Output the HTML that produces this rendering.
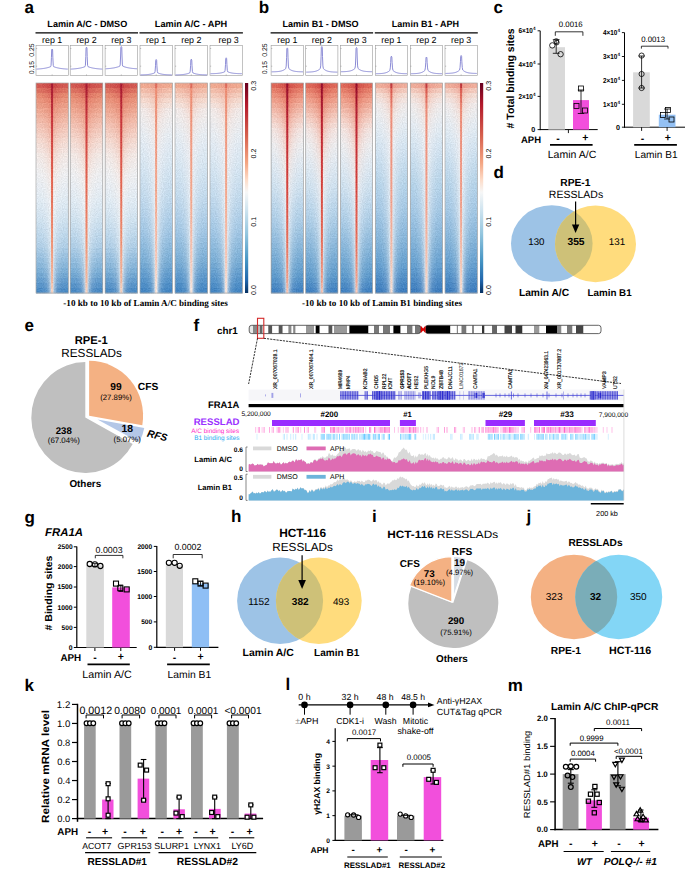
<!DOCTYPE html><html><head><meta charset="utf-8"><style>html,body{margin:0;padding:0;background:#fff;}svg{display:block;}</style></head><body>
<svg width="685" height="869" viewBox="0 0 685 869" text-rendering="geometricPrecision" font-family="&quot;Liberation Sans&quot;, sans-serif">
<rect width="685" height="869" fill="#fff"/>
<defs>
<linearGradient id="hA_dmso" x1="0" y1="0" x2="0" y2="1"><stop offset="0.0" stop-color="#c23b40"/><stop offset="0.014" stop-color="#d65d52"/><stop offset="0.057" stop-color="#e5876c"/><stop offset="0.105" stop-color="#eb9c80"/><stop offset="0.176" stop-color="#f0b9a5"/><stop offset="0.248" stop-color="#f3ccbc"/><stop offset="0.31" stop-color="#f5e1d8"/><stop offset="0.39" stop-color="#f2f0ef"/><stop offset="0.49" stop-color="#e1ebf3"/><stop offset="0.605" stop-color="#c8deee"/><stop offset="0.748" stop-color="#a3c8e5"/><stop offset="0.867" stop-color="#7aaed8"/><stop offset="1.0" stop-color="#4886c1"/></linearGradient>
<linearGradient id="hA_aph" x1="0" y1="0" x2="0" y2="1"><stop offset="0.0" stop-color="#f0ae92"/><stop offset="0.033" stop-color="#f3c0a8"/><stop offset="0.081" stop-color="#f5d3c5"/><stop offset="0.138" stop-color="#f4e3dc"/><stop offset="0.186" stop-color="#eff0f2"/><stop offset="0.305" stop-color="#dce8f2"/><stop offset="0.39" stop-color="#c8ddee"/><stop offset="0.49" stop-color="#b9d5eb"/><stop offset="0.605" stop-color="#a5cae6"/><stop offset="0.748" stop-color="#86b7de"/><stop offset="0.867" stop-color="#659fd1"/><stop offset="1.0" stop-color="#3d7fbe"/></linearGradient>
<linearGradient id="hB_dmso" x1="0" y1="0" x2="0" y2="1"><stop offset="0.0" stop-color="#d04a44"/><stop offset="0.019" stop-color="#dc6a56"/><stop offset="0.052" stop-color="#e67c64"/><stop offset="0.119" stop-color="#ee9b87"/><stop offset="0.181" stop-color="#f3beaf"/><stop offset="0.248" stop-color="#f5d7cd"/><stop offset="0.314" stop-color="#f2eeec"/><stop offset="0.381" stop-color="#e4ecf2"/><stop offset="0.448" stop-color="#d4e4f0"/><stop offset="0.543" stop-color="#c3daec"/><stop offset="0.7" stop-color="#a3c8e5"/><stop offset="0.852" stop-color="#7aaed8"/><stop offset="1.0" stop-color="#4583bf"/></linearGradient>
<linearGradient id="hB_aph" x1="0" y1="0" x2="0" y2="1"><stop offset="0.0" stop-color="#f0a08c"/><stop offset="0.019" stop-color="#f2b5a2"/><stop offset="0.052" stop-color="#f4c8b9"/><stop offset="0.119" stop-color="#f3e1da"/><stop offset="0.181" stop-color="#f0f0f2"/><stop offset="0.248" stop-color="#e1ebf3"/><stop offset="0.314" stop-color="#cde1f0"/><stop offset="0.381" stop-color="#c3dbee"/><stop offset="0.543" stop-color="#afd0e8"/><stop offset="0.7" stop-color="#92bde0"/><stop offset="0.852" stop-color="#6ca4d3"/><stop offset="1.0" stop-color="#3f7fbe"/></linearGradient>
<linearGradient id="cl_dmso" x1="0" y1="0" x2="0" y2="1"><stop offset="0" stop-color="#a8203a"/><stop offset="0.15" stop-color="#c23a48"/><stop offset="0.4" stop-color="#d85a50"/><stop offset="0.7" stop-color="#e88a6a"/><stop offset="0.9" stop-color="#f0aa90"/><stop offset="1" stop-color="#f3c8b4"/></linearGradient>
<linearGradient id="cl_aph" x1="0" y1="0" x2="0" y2="1"><stop offset="0" stop-color="#d45a55"/><stop offset="0.05" stop-color="#ec8c74"/><stop offset="0.5" stop-color="#f2a88c"/><stop offset="0.85" stop-color="#f5cdb8"/><stop offset="1" stop-color="#f6e8e0"/></linearGradient>
<linearGradient id="cbar" x1="0" y1="0" x2="0" y2="1"><stop offset="0" stop-color="#67001f"/><stop offset="0.1" stop-color="#b2182b"/><stop offset="0.25" stop-color="#d6604d"/><stop offset="0.38" stop-color="#f4a582"/><stop offset="0.46" stop-color="#fddbc7"/><stop offset="0.52" stop-color="#f7f7f7"/><stop offset="0.6" stop-color="#d1e5f0"/><stop offset="0.72" stop-color="#92c5de"/><stop offset="0.85" stop-color="#4393c3"/><stop offset="0.94" stop-color="#2166ac"/><stop offset="1" stop-color="#053061"/></linearGradient>
<filter id="grain" x="0" y="0" width="1" height="1" color-interpolation-filters="sRGB"><feTurbulence type="fractalNoise" baseFrequency="0.85" numOctaves="1" seed="4" result="n"/><feColorMatrix in="n" type="matrix" values="1 0 0 0 0  1 0 0 0 0  1 0 0 0 0  0 0 0 0 1" result="g"/><feComposite in="SourceGraphic" in2="g" operator="arithmetic" k1="0" k2="1" k3="0.16" k4="-0.08"/></filter>
</defs>
<defs><linearGradient id="halo" x1="0" y1="0" x2="1" y2="0"><stop offset="0" stop-color="#fff" stop-opacity="0"/><stop offset="0.5" stop-color="#fff" stop-opacity="0.55"/><stop offset="1" stop-color="#fff" stop-opacity="0"/></linearGradient></defs>
<text x="87.30" y="26.50" font-size="9.08" text-anchor="middle" font-weight="bold">Lamin A/C - DMSO</text>
<text x="191.00" y="26.50" font-size="9.2" text-anchor="middle" font-weight="bold">Lamin A/C - APH</text>
<line x1="35.50" y1="32.80" x2="138.00" y2="32.80" stroke="#000" stroke-width="1.3" />
<line x1="139.50" y1="32.80" x2="242.90" y2="32.80" stroke="#000" stroke-width="1.3" />
<text x="52.15" y="42.70" font-size="8.89" text-anchor="middle">rep 1</text>
<rect x="36.00" y="45.6" width="32.30" height="30" fill="#fff" stroke="#9a9a9a" stroke-width="0.6"/>
<line x1="36.00" y1="48.50" x2="37.20" y2="48.50" stroke="#888" stroke-width="0.5" />
<line x1="36.00" y1="66.20" x2="37.20" y2="66.20" stroke="#888" stroke-width="0.5" />
<line x1="52.15" y1="75.60" x2="52.15" y2="74.40" stroke="#888" stroke-width="0.5" />
<path d="M36.50,69.11 L37.02,69.08 L37.54,69.05 L38.06,69.02 L38.59,68.98 L39.11,68.94 L39.63,68.90 L40.15,68.85 L40.67,68.80 L41.20,68.75 L41.72,68.69 L42.24,68.63 L42.76,68.57 L43.28,68.49 L43.80,68.42 L44.33,68.33 L44.85,68.25 L45.37,68.15 L45.89,68.05 L46.41,67.94 L46.93,67.82 L47.45,67.69 L47.98,67.55 L48.50,67.41 L49.02,67.25 L49.54,67.07 L50.06,66.89 L50.59,66.69 L51.05,65.40 L51.45,57.50 L51.70,49.80 Q52.15,48.20 52.60,49.80 L52.85,57.50 L53.25,65.40 L53.72,66.69 L54.24,66.89 L54.76,67.07 L55.28,67.25 L55.80,67.41 L56.32,67.55 L56.84,67.69 L57.37,67.82 L57.89,67.94 L58.41,68.05 L58.93,68.15 L59.45,68.25 L59.97,68.33 L60.50,68.42 L61.02,68.49 L61.54,68.57 L62.06,68.63 L62.58,68.69 L63.10,68.75 L63.63,68.80 L64.15,68.85 L64.67,68.90 L65.19,68.94 L65.71,68.98 L66.23,69.02 L66.76,69.05 L67.28,69.08 L67.80,69.11" fill="none" stroke="#7f7fd0" stroke-width="0.9" stroke-linejoin="round"/>
<linearGradient id="Ad83" x1="0" y1="0" x2="1" y2="0"><stop offset="0.000" stop-color="#d35c53"/><stop offset="0.190" stop-color="#d15751"/><stop offset="0.330" stop-color="#ce504c"/><stop offset="0.413" stop-color="#cb4948"/><stop offset="0.457" stop-color="#c94545"/><stop offset="0.481" stop-color="#a71b33"/><stop offset="0.519" stop-color="#a71b33"/><stop offset="0.543" stop-color="#c94545"/><stop offset="0.587" stop-color="#cb4948"/><stop offset="0.670" stop-color="#ce504c"/><stop offset="0.810" stop-color="#d15751"/><stop offset="1.000" stop-color="#d35c53"/></linearGradient>
<linearGradient id="Ad88" x1="0" y1="0" x2="1" y2="0"><stop offset="0.000" stop-color="#dd7563"/><stop offset="0.190" stop-color="#db6f60"/><stop offset="0.330" stop-color="#d8675b"/><stop offset="0.413" stop-color="#d55f56"/><stop offset="0.457" stop-color="#d35a52"/><stop offset="0.481" stop-color="#ac1f34"/><stop offset="0.519" stop-color="#ac1f34"/><stop offset="0.543" stop-color="#d35a52"/><stop offset="0.587" stop-color="#d55f56"/><stop offset="0.670" stop-color="#d8675b"/><stop offset="0.810" stop-color="#db6f60"/><stop offset="1.000" stop-color="#dd7563"/></linearGradient>
<linearGradient id="Ad93" x1="0" y1="0" x2="1" y2="0"><stop offset="0.000" stop-color="#e58a72"/><stop offset="0.190" stop-color="#e4856e"/><stop offset="0.330" stop-color="#e17c69"/><stop offset="0.413" stop-color="#de7464"/><stop offset="0.457" stop-color="#dd6e60"/><stop offset="0.481" stop-color="#b12335"/><stop offset="0.519" stop-color="#b12335"/><stop offset="0.543" stop-color="#dd6e60"/><stop offset="0.587" stop-color="#de7464"/><stop offset="0.670" stop-color="#e17c69"/><stop offset="0.810" stop-color="#e4856e"/><stop offset="1.000" stop-color="#e58a72"/></linearGradient>
<linearGradient id="Ad98" x1="0" y1="0" x2="1" y2="0"><stop offset="0.000" stop-color="#e8957e"/><stop offset="0.190" stop-color="#e8927b"/><stop offset="0.330" stop-color="#e78b75"/><stop offset="0.413" stop-color="#e68570"/><stop offset="0.457" stop-color="#e5816c"/><stop offset="0.481" stop-color="#b62737"/><stop offset="0.519" stop-color="#b62737"/><stop offset="0.543" stop-color="#e5816c"/><stop offset="0.587" stop-color="#e68570"/><stop offset="0.670" stop-color="#e78b75"/><stop offset="0.810" stop-color="#e8927b"/><stop offset="1.000" stop-color="#e8957e"/></linearGradient>
<linearGradient id="Ad103" x1="0" y1="0" x2="1" y2="0"><stop offset="0.000" stop-color="#eba089"/><stop offset="0.190" stop-color="#ea9c86"/><stop offset="0.330" stop-color="#e99580"/><stop offset="0.413" stop-color="#e88f7a"/><stop offset="0.457" stop-color="#e78a76"/><stop offset="0.481" stop-color="#ba2b38"/><stop offset="0.519" stop-color="#ba2b38"/><stop offset="0.543" stop-color="#e78a76"/><stop offset="0.587" stop-color="#e88f7a"/><stop offset="0.670" stop-color="#e99580"/><stop offset="0.810" stop-color="#ea9c86"/><stop offset="1.000" stop-color="#eba089"/></linearGradient>
<linearGradient id="Ad108" x1="0" y1="0" x2="1" y2="0"><stop offset="0.000" stop-color="#eeaa95"/><stop offset="0.190" stop-color="#eda691"/><stop offset="0.330" stop-color="#eb9f8a"/><stop offset="0.413" stop-color="#ea9883"/><stop offset="0.457" stop-color="#e9937f"/><stop offset="0.481" stop-color="#bf2f39"/><stop offset="0.519" stop-color="#bf2f39"/><stop offset="0.543" stop-color="#e9937f"/><stop offset="0.587" stop-color="#ea9883"/><stop offset="0.670" stop-color="#eb9f8a"/><stop offset="0.810" stop-color="#eda691"/><stop offset="1.000" stop-color="#eeaa95"/></linearGradient>
<linearGradient id="Ad113" x1="0" y1="0" x2="1" y2="0"><stop offset="0.000" stop-color="#efb3a0"/><stop offset="0.190" stop-color="#eeaf9c"/><stop offset="0.330" stop-color="#eda895"/><stop offset="0.413" stop-color="#eca18d"/><stop offset="0.457" stop-color="#eb9c88"/><stop offset="0.481" stop-color="#c4333b"/><stop offset="0.519" stop-color="#c4333b"/><stop offset="0.543" stop-color="#eb9c88"/><stop offset="0.587" stop-color="#eca18d"/><stop offset="0.670" stop-color="#eda895"/><stop offset="0.810" stop-color="#eeaf9c"/><stop offset="1.000" stop-color="#efb3a0"/></linearGradient>
<linearGradient id="Ad118" x1="0" y1="0" x2="1" y2="0"><stop offset="0.000" stop-color="#f0bcab"/><stop offset="0.190" stop-color="#f0b8a7"/><stop offset="0.330" stop-color="#efb19f"/><stop offset="0.413" stop-color="#eeaa97"/><stop offset="0.457" stop-color="#eda491"/><stop offset="0.481" stop-color="#c8373c"/><stop offset="0.519" stop-color="#c8373c"/><stop offset="0.543" stop-color="#eda491"/><stop offset="0.587" stop-color="#eeaa97"/><stop offset="0.670" stop-color="#efb19f"/><stop offset="0.810" stop-color="#f0b8a7"/><stop offset="1.000" stop-color="#f0bcab"/></linearGradient>
<linearGradient id="Ad123" x1="0" y1="0" x2="1" y2="0"><stop offset="0.000" stop-color="#f2c4b6"/><stop offset="0.190" stop-color="#f1c0b2"/><stop offset="0.330" stop-color="#f0b9a9"/><stop offset="0.413" stop-color="#efb2a0"/><stop offset="0.457" stop-color="#eeac9a"/><stop offset="0.481" stop-color="#ca3b3e"/><stop offset="0.519" stop-color="#ca3b3e"/><stop offset="0.543" stop-color="#eeac9a"/><stop offset="0.587" stop-color="#efb2a0"/><stop offset="0.670" stop-color="#f0b9a9"/><stop offset="0.810" stop-color="#f1c0b2"/><stop offset="1.000" stop-color="#f2c4b6"/></linearGradient>
<linearGradient id="Ad128" x1="0" y1="0" x2="1" y2="0"><stop offset="0.000" stop-color="#f2ccc0"/><stop offset="0.190" stop-color="#f2c8bb"/><stop offset="0.330" stop-color="#f1c1b3"/><stop offset="0.413" stop-color="#f0b9aa"/><stop offset="0.457" stop-color="#efb4a3"/><stop offset="0.481" stop-color="#cc3f40"/><stop offset="0.519" stop-color="#cc3f40"/><stop offset="0.543" stop-color="#efb4a3"/><stop offset="0.587" stop-color="#f0b9aa"/><stop offset="0.670" stop-color="#f1c1b3"/><stop offset="0.810" stop-color="#f2c8bb"/><stop offset="1.000" stop-color="#f2ccc0"/></linearGradient>
<linearGradient id="Ad133" x1="0" y1="0" x2="1" y2="0"><stop offset="0.000" stop-color="#f3d3c9"/><stop offset="0.190" stop-color="#f2cfc4"/><stop offset="0.330" stop-color="#f1c8bc"/><stop offset="0.413" stop-color="#f1c1b3"/><stop offset="0.457" stop-color="#f0bbac"/><stop offset="0.481" stop-color="#ce4341"/><stop offset="0.519" stop-color="#ce4341"/><stop offset="0.543" stop-color="#f0bbac"/><stop offset="0.587" stop-color="#f1c1b3"/><stop offset="0.670" stop-color="#f1c8bc"/><stop offset="0.810" stop-color="#f2cfc4"/><stop offset="1.000" stop-color="#f3d3c9"/></linearGradient>
<linearGradient id="Ad138" x1="0" y1="0" x2="1" y2="0"><stop offset="0.000" stop-color="#f3dbd2"/><stop offset="0.190" stop-color="#f3d7ce"/><stop offset="0.330" stop-color="#f2d0c5"/><stop offset="0.413" stop-color="#f2c8bc"/><stop offset="0.457" stop-color="#f1c3b5"/><stop offset="0.481" stop-color="#d14643"/><stop offset="0.519" stop-color="#d14643"/><stop offset="0.543" stop-color="#f1c3b5"/><stop offset="0.587" stop-color="#f2c8bc"/><stop offset="0.670" stop-color="#f2d0c5"/><stop offset="0.810" stop-color="#f3d7ce"/><stop offset="1.000" stop-color="#f3dbd2"/></linearGradient>
<linearGradient id="Ad143" x1="0" y1="0" x2="1" y2="0"><stop offset="0.000" stop-color="#f2dfd9"/><stop offset="0.190" stop-color="#f2dcd5"/><stop offset="0.330" stop-color="#f2d5cc"/><stop offset="0.413" stop-color="#f2cec3"/><stop offset="0.457" stop-color="#f2c9bc"/><stop offset="0.481" stop-color="#d34a44"/><stop offset="0.519" stop-color="#d34a44"/><stop offset="0.543" stop-color="#f2c9bc"/><stop offset="0.587" stop-color="#f2cec3"/><stop offset="0.670" stop-color="#f2d5cc"/><stop offset="0.810" stop-color="#f2dcd5"/><stop offset="1.000" stop-color="#f2dfd9"/></linearGradient>
<linearGradient id="Ad148" x1="0" y1="0" x2="1" y2="0"><stop offset="0.000" stop-color="#f2e4e0"/><stop offset="0.190" stop-color="#f2e1dc"/><stop offset="0.330" stop-color="#f2dbd4"/><stop offset="0.413" stop-color="#f2d4ca"/><stop offset="0.457" stop-color="#f2cfc4"/><stop offset="0.481" stop-color="#d54e46"/><stop offset="0.519" stop-color="#d54e46"/><stop offset="0.543" stop-color="#f2cfc4"/><stop offset="0.587" stop-color="#f2d4ca"/><stop offset="0.670" stop-color="#f2dbd4"/><stop offset="0.810" stop-color="#f2e1dc"/><stop offset="1.000" stop-color="#f2e4e0"/></linearGradient>
<linearGradient id="Ad153" x1="0" y1="0" x2="1" y2="0"><stop offset="0.000" stop-color="#f1e9e6"/><stop offset="0.190" stop-color="#f1e6e2"/><stop offset="0.330" stop-color="#f2e0db"/><stop offset="0.413" stop-color="#f2dad2"/><stop offset="0.457" stop-color="#f3d5cb"/><stop offset="0.481" stop-color="#d75248"/><stop offset="0.519" stop-color="#d75248"/><stop offset="0.543" stop-color="#f3d5cb"/><stop offset="0.587" stop-color="#f2dad2"/><stop offset="0.670" stop-color="#f2e0db"/><stop offset="0.810" stop-color="#f1e6e2"/><stop offset="1.000" stop-color="#f1e9e6"/></linearGradient>
<linearGradient id="Ad158" x1="0" y1="0" x2="1" y2="0"><stop offset="0.000" stop-color="#f0eae9"/><stop offset="0.190" stop-color="#f0e8e6"/><stop offset="0.330" stop-color="#f1e4df"/><stop offset="0.413" stop-color="#f3ded8"/><stop offset="0.457" stop-color="#f3dad2"/><stop offset="0.481" stop-color="#d9554a"/><stop offset="0.519" stop-color="#d9554a"/><stop offset="0.543" stop-color="#f3dad2"/><stop offset="0.587" stop-color="#f3ded8"/><stop offset="0.670" stop-color="#f1e4df"/><stop offset="0.810" stop-color="#f0e8e6"/><stop offset="1.000" stop-color="#f0eae9"/></linearGradient>
<linearGradient id="Ad163" x1="0" y1="0" x2="1" y2="0"><stop offset="0.000" stop-color="#efecec"/><stop offset="0.190" stop-color="#efeae9"/><stop offset="0.330" stop-color="#f1e6e3"/><stop offset="0.413" stop-color="#f2e2dc"/><stop offset="0.457" stop-color="#f3ded7"/><stop offset="0.481" stop-color="#db594b"/><stop offset="0.519" stop-color="#db594b"/><stop offset="0.543" stop-color="#f3ded7"/><stop offset="0.587" stop-color="#f2e2dc"/><stop offset="0.670" stop-color="#f1e6e3"/><stop offset="0.810" stop-color="#efeae9"/><stop offset="1.000" stop-color="#efecec"/></linearGradient>
<linearGradient id="Ad168" x1="0" y1="0" x2="1" y2="0"><stop offset="0.000" stop-color="#ededef"/><stop offset="0.190" stop-color="#eeecec"/><stop offset="0.330" stop-color="#f0e9e7"/><stop offset="0.413" stop-color="#f2e5e1"/><stop offset="0.457" stop-color="#f3e2dc"/><stop offset="0.481" stop-color="#dd5d4d"/><stop offset="0.519" stop-color="#dd5d4d"/><stop offset="0.543" stop-color="#f3e2dc"/><stop offset="0.587" stop-color="#f2e5e1"/><stop offset="0.670" stop-color="#f0e9e7"/><stop offset="0.810" stop-color="#eeecec"/><stop offset="1.000" stop-color="#ededef"/></linearGradient>
<linearGradient id="Ad173" x1="0" y1="0" x2="1" y2="0"><stop offset="0.000" stop-color="#eceef1"/><stop offset="0.190" stop-color="#ededef"/><stop offset="0.330" stop-color="#efebeb"/><stop offset="0.413" stop-color="#f1e8e6"/><stop offset="0.457" stop-color="#f3e6e2"/><stop offset="0.481" stop-color="#df614e"/><stop offset="0.519" stop-color="#df614e"/><stop offset="0.543" stop-color="#f3e6e2"/><stop offset="0.587" stop-color="#f1e8e6"/><stop offset="0.670" stop-color="#efebeb"/><stop offset="0.810" stop-color="#ededef"/><stop offset="1.000" stop-color="#eceef1"/></linearGradient>
<linearGradient id="Ad178" x1="0" y1="0" x2="1" y2="0"><stop offset="0.000" stop-color="#e9edf1"/><stop offset="0.190" stop-color="#ebedf0"/><stop offset="0.330" stop-color="#edeced"/><stop offset="0.413" stop-color="#f1eae9"/><stop offset="0.457" stop-color="#f3e9e6"/><stop offset="0.481" stop-color="#e16450"/><stop offset="0.519" stop-color="#e16450"/><stop offset="0.543" stop-color="#f3e9e6"/><stop offset="0.587" stop-color="#f1eae9"/><stop offset="0.670" stop-color="#edeced"/><stop offset="0.810" stop-color="#ebedf0"/><stop offset="1.000" stop-color="#e9edf1"/></linearGradient>
<linearGradient id="Ad183" x1="0" y1="0" x2="1" y2="0"><stop offset="0.000" stop-color="#e7ecf2"/><stop offset="0.190" stop-color="#e8ecf1"/><stop offset="0.330" stop-color="#ebecee"/><stop offset="0.413" stop-color="#efebeb"/><stop offset="0.457" stop-color="#f2ebe9"/><stop offset="0.481" stop-color="#e26853"/><stop offset="0.519" stop-color="#e26853"/><stop offset="0.543" stop-color="#f2ebe9"/><stop offset="0.587" stop-color="#efebeb"/><stop offset="0.670" stop-color="#ebecee"/><stop offset="0.810" stop-color="#e8ecf1"/><stop offset="1.000" stop-color="#e7ecf2"/></linearGradient>
<linearGradient id="Ad188" x1="0" y1="0" x2="1" y2="0"><stop offset="0.000" stop-color="#e4ebf2"/><stop offset="0.190" stop-color="#e5ebf1"/><stop offset="0.330" stop-color="#e9ecef"/><stop offset="0.413" stop-color="#eeeced"/><stop offset="0.457" stop-color="#f1ecec"/><stop offset="0.481" stop-color="#e36c56"/><stop offset="0.519" stop-color="#e36c56"/><stop offset="0.543" stop-color="#f1ecec"/><stop offset="0.587" stop-color="#eeeced"/><stop offset="0.670" stop-color="#e9ecef"/><stop offset="0.810" stop-color="#e5ebf1"/><stop offset="1.000" stop-color="#e4ebf2"/></linearGradient>
<linearGradient id="Ad193" x1="0" y1="0" x2="1" y2="0"><stop offset="0.000" stop-color="#e1eaf2"/><stop offset="0.190" stop-color="#e3ebf1"/><stop offset="0.330" stop-color="#e7ebf0"/><stop offset="0.413" stop-color="#ecedef"/><stop offset="0.457" stop-color="#f0eeee"/><stop offset="0.481" stop-color="#e47059"/><stop offset="0.519" stop-color="#e47059"/><stop offset="0.543" stop-color="#f0eeee"/><stop offset="0.587" stop-color="#ecedef"/><stop offset="0.670" stop-color="#e7ebf0"/><stop offset="0.810" stop-color="#e3ebf1"/><stop offset="1.000" stop-color="#e1eaf2"/></linearGradient>
<linearGradient id="Ad198" x1="0" y1="0" x2="1" y2="0"><stop offset="0.000" stop-color="#dee9f2"/><stop offset="0.190" stop-color="#e0eaf2"/><stop offset="0.330" stop-color="#e4ebf1"/><stop offset="0.413" stop-color="#eaedf1"/><stop offset="0.457" stop-color="#efeff0"/><stop offset="0.481" stop-color="#e5735c"/><stop offset="0.519" stop-color="#e5735c"/><stop offset="0.543" stop-color="#efeff0"/><stop offset="0.587" stop-color="#eaedf1"/><stop offset="0.670" stop-color="#e4ebf1"/><stop offset="0.810" stop-color="#e0eaf2"/><stop offset="1.000" stop-color="#dee9f2"/></linearGradient>
<linearGradient id="Ad203" x1="0" y1="0" x2="1" y2="0"><stop offset="0.000" stop-color="#dae7f1"/><stop offset="0.190" stop-color="#dce8f1"/><stop offset="0.330" stop-color="#e1e9f1"/><stop offset="0.413" stop-color="#e8ecf1"/><stop offset="0.457" stop-color="#edeef0"/><stop offset="0.481" stop-color="#e7775f"/><stop offset="0.519" stop-color="#e7775f"/><stop offset="0.543" stop-color="#edeef0"/><stop offset="0.587" stop-color="#e8ecf1"/><stop offset="0.670" stop-color="#e1e9f1"/><stop offset="0.810" stop-color="#dce8f1"/><stop offset="1.000" stop-color="#dae7f1"/></linearGradient>
<linearGradient id="Ad208" x1="0" y1="0" x2="1" y2="0"><stop offset="0.000" stop-color="#d6e5f0"/><stop offset="0.190" stop-color="#d8e5f0"/><stop offset="0.330" stop-color="#dde8f0"/><stop offset="0.413" stop-color="#e5ebf0"/><stop offset="0.457" stop-color="#eceef1"/><stop offset="0.481" stop-color="#e87b62"/><stop offset="0.519" stop-color="#e87b62"/><stop offset="0.543" stop-color="#eceef1"/><stop offset="0.587" stop-color="#e5ebf0"/><stop offset="0.670" stop-color="#dde8f0"/><stop offset="0.810" stop-color="#d8e5f0"/><stop offset="1.000" stop-color="#d6e5f0"/></linearGradient>
<linearGradient id="Ad213" x1="0" y1="0" x2="1" y2="0"><stop offset="0.000" stop-color="#d1e2ef"/><stop offset="0.190" stop-color="#d4e3ef"/><stop offset="0.330" stop-color="#dae6f0"/><stop offset="0.413" stop-color="#e2eaf0"/><stop offset="0.457" stop-color="#eaedf1"/><stop offset="0.481" stop-color="#e97f65"/><stop offset="0.519" stop-color="#e97f65"/><stop offset="0.543" stop-color="#eaedf1"/><stop offset="0.587" stop-color="#e2eaf0"/><stop offset="0.670" stop-color="#dae6f0"/><stop offset="0.810" stop-color="#d4e3ef"/><stop offset="1.000" stop-color="#d1e2ef"/></linearGradient>
<linearGradient id="Ad218" x1="0" y1="0" x2="1" y2="0"><stop offset="0.000" stop-color="#cde0ee"/><stop offset="0.190" stop-color="#cfe1ee"/><stop offset="0.330" stop-color="#d6e4ef"/><stop offset="0.413" stop-color="#e0e9f0"/><stop offset="0.457" stop-color="#e8ecf1"/><stop offset="0.481" stop-color="#ea8268"/><stop offset="0.519" stop-color="#ea8268"/><stop offset="0.543" stop-color="#e8ecf1"/><stop offset="0.587" stop-color="#e0e9f0"/><stop offset="0.670" stop-color="#d6e4ef"/><stop offset="0.810" stop-color="#cfe1ee"/><stop offset="1.000" stop-color="#cde0ee"/></linearGradient>
<linearGradient id="Ad223" x1="0" y1="0" x2="1" y2="0"><stop offset="0.000" stop-color="#c7dcec"/><stop offset="0.190" stop-color="#cadeed"/><stop offset="0.330" stop-color="#d1e1ee"/><stop offset="0.413" stop-color="#dce7ef"/><stop offset="0.457" stop-color="#e6ebf1"/><stop offset="0.481" stop-color="#eb866b"/><stop offset="0.519" stop-color="#eb866b"/><stop offset="0.543" stop-color="#e6ebf1"/><stop offset="0.587" stop-color="#dce7ef"/><stop offset="0.670" stop-color="#d1e1ee"/><stop offset="0.810" stop-color="#cadeed"/><stop offset="1.000" stop-color="#c7dcec"/></linearGradient>
<linearGradient id="Ad228" x1="0" y1="0" x2="1" y2="0"><stop offset="0.000" stop-color="#c1d9eb"/><stop offset="0.190" stop-color="#c4daeb"/><stop offset="0.330" stop-color="#ccdeed"/><stop offset="0.413" stop-color="#d8e5ef"/><stop offset="0.457" stop-color="#e3ebf1"/><stop offset="0.481" stop-color="#ec8a6d"/><stop offset="0.519" stop-color="#ec8a6d"/><stop offset="0.543" stop-color="#e3ebf1"/><stop offset="0.587" stop-color="#d8e5ef"/><stop offset="0.670" stop-color="#ccdeed"/><stop offset="0.810" stop-color="#c4daeb"/><stop offset="1.000" stop-color="#c1d9eb"/></linearGradient>
<linearGradient id="Ad233" x1="0" y1="0" x2="1" y2="0"><stop offset="0.000" stop-color="#bbd5e9"/><stop offset="0.190" stop-color="#bed7ea"/><stop offset="0.330" stop-color="#c7dbeb"/><stop offset="0.413" stop-color="#d5e3ee"/><stop offset="0.457" stop-color="#e2eaf0"/><stop offset="0.481" stop-color="#ed8e70"/><stop offset="0.519" stop-color="#ed8e70"/><stop offset="0.543" stop-color="#e2eaf0"/><stop offset="0.587" stop-color="#d5e3ee"/><stop offset="0.670" stop-color="#c7dbeb"/><stop offset="0.810" stop-color="#bed7ea"/><stop offset="1.000" stop-color="#bbd5e9"/></linearGradient>
<linearGradient id="Ad238" x1="0" y1="0" x2="1" y2="0"><stop offset="0.000" stop-color="#b5d2e8"/><stop offset="0.190" stop-color="#b8d3e8"/><stop offset="0.330" stop-color="#c2d8ea"/><stop offset="0.413" stop-color="#d2e1ed"/><stop offset="0.457" stop-color="#e0e8ef"/><stop offset="0.481" stop-color="#ee9274"/><stop offset="0.519" stop-color="#ee9274"/><stop offset="0.543" stop-color="#e0e8ef"/><stop offset="0.587" stop-color="#d2e1ed"/><stop offset="0.670" stop-color="#c2d8ea"/><stop offset="0.810" stop-color="#b8d3e8"/><stop offset="1.000" stop-color="#b5d2e8"/></linearGradient>
<linearGradient id="Ad243" x1="0" y1="0" x2="1" y2="0"><stop offset="0.000" stop-color="#afcee6"/><stop offset="0.190" stop-color="#b2cfe6"/><stop offset="0.330" stop-color="#bcd5e8"/><stop offset="0.413" stop-color="#cedeeb"/><stop offset="0.457" stop-color="#dfe7ef"/><stop offset="0.481" stop-color="#ef9679"/><stop offset="0.519" stop-color="#ef9679"/><stop offset="0.543" stop-color="#dfe7ef"/><stop offset="0.587" stop-color="#cedeeb"/><stop offset="0.670" stop-color="#bcd5e8"/><stop offset="0.810" stop-color="#b2cfe6"/><stop offset="1.000" stop-color="#afcee6"/></linearGradient>
<linearGradient id="Ad248" x1="0" y1="0" x2="1" y2="0"><stop offset="0.000" stop-color="#a5c8e3"/><stop offset="0.190" stop-color="#a8c9e3"/><stop offset="0.330" stop-color="#b4d0e5"/><stop offset="0.413" stop-color="#c8dbea"/><stop offset="0.457" stop-color="#dce6ed"/><stop offset="0.481" stop-color="#ef9c7f"/><stop offset="0.519" stop-color="#ef9c7f"/><stop offset="0.543" stop-color="#dce6ed"/><stop offset="0.587" stop-color="#c8dbea"/><stop offset="0.670" stop-color="#b4d0e5"/><stop offset="0.810" stop-color="#a8c9e3"/><stop offset="1.000" stop-color="#a5c8e3"/></linearGradient>
<linearGradient id="Ad253" x1="0" y1="0" x2="1" y2="0"><stop offset="0.000" stop-color="#9bc1df"/><stop offset="0.190" stop-color="#9ec3e0"/><stop offset="0.330" stop-color="#abcae3"/><stop offset="0.413" stop-color="#c2d7e8"/><stop offset="0.457" stop-color="#d9e4ec"/><stop offset="0.481" stop-color="#f0a084"/><stop offset="0.519" stop-color="#f0a084"/><stop offset="0.543" stop-color="#d9e4ec"/><stop offset="0.587" stop-color="#c2d7e8"/><stop offset="0.670" stop-color="#abcae3"/><stop offset="0.810" stop-color="#9ec3e0"/><stop offset="1.000" stop-color="#9bc1df"/></linearGradient>
<linearGradient id="Ad258" x1="0" y1="0" x2="1" y2="0"><stop offset="0.000" stop-color="#91bbdc"/><stop offset="0.190" stop-color="#94bddd"/><stop offset="0.330" stop-color="#a2c5e0"/><stop offset="0.413" stop-color="#bcd3e5"/><stop offset="0.457" stop-color="#d6e2eb"/><stop offset="0.481" stop-color="#f1a68a"/><stop offset="0.519" stop-color="#f1a68a"/><stop offset="0.543" stop-color="#d6e2eb"/><stop offset="0.587" stop-color="#bcd3e5"/><stop offset="0.670" stop-color="#a2c5e0"/><stop offset="0.810" stop-color="#94bddd"/><stop offset="1.000" stop-color="#91bbdc"/></linearGradient>
<linearGradient id="Ad263" x1="0" y1="0" x2="1" y2="0"><stop offset="0.000" stop-color="#87b5d9"/><stop offset="0.190" stop-color="#8bb7d9"/><stop offset="0.330" stop-color="#99bfdd"/><stop offset="0.413" stop-color="#b6cfe3"/><stop offset="0.457" stop-color="#d4e0ea"/><stop offset="0.481" stop-color="#f1aa90"/><stop offset="0.519" stop-color="#f1aa90"/><stop offset="0.543" stop-color="#d4e0ea"/><stop offset="0.587" stop-color="#b6cfe3"/><stop offset="0.670" stop-color="#99bfdd"/><stop offset="0.810" stop-color="#8bb7d9"/><stop offset="1.000" stop-color="#87b5d9"/></linearGradient>
<linearGradient id="Ad268" x1="0" y1="0" x2="1" y2="0"><stop offset="0.000" stop-color="#7caed5"/><stop offset="0.190" stop-color="#7fb0d6"/><stop offset="0.330" stop-color="#8fb8d9"/><stop offset="0.413" stop-color="#afcae1"/><stop offset="0.457" stop-color="#d1dee9"/><stop offset="0.481" stop-color="#f2b095"/><stop offset="0.519" stop-color="#f2b095"/><stop offset="0.543" stop-color="#d1dee9"/><stop offset="0.587" stop-color="#afcae1"/><stop offset="0.670" stop-color="#8fb8d9"/><stop offset="0.810" stop-color="#7fb0d6"/><stop offset="1.000" stop-color="#7caed5"/></linearGradient>
<linearGradient id="Ad273" x1="0" y1="0" x2="1" y2="0"><stop offset="0.000" stop-color="#70a5d0"/><stop offset="0.190" stop-color="#73a7d1"/><stop offset="0.330" stop-color="#83b0d5"/><stop offset="0.413" stop-color="#a6c4de"/><stop offset="0.457" stop-color="#cddbe7"/><stop offset="0.481" stop-color="#f2b49b"/><stop offset="0.519" stop-color="#f2b49b"/><stop offset="0.543" stop-color="#cddbe7"/><stop offset="0.587" stop-color="#a6c4de"/><stop offset="0.670" stop-color="#83b0d5"/><stop offset="0.810" stop-color="#73a7d1"/><stop offset="1.000" stop-color="#70a5d0"/></linearGradient>
<linearGradient id="Ad278" x1="0" y1="0" x2="1" y2="0"><stop offset="0.000" stop-color="#639ccc"/><stop offset="0.190" stop-color="#669dcd"/><stop offset="0.330" stop-color="#77a7d1"/><stop offset="0.413" stop-color="#9dbeda"/><stop offset="0.457" stop-color="#c9d8e5"/><stop offset="0.481" stop-color="#f3baa2"/><stop offset="0.519" stop-color="#f3baa2"/><stop offset="0.543" stop-color="#c9d8e5"/><stop offset="0.587" stop-color="#9dbeda"/><stop offset="0.670" stop-color="#77a7d1"/><stop offset="0.810" stop-color="#669dcd"/><stop offset="1.000" stop-color="#639ccc"/></linearGradient>
<linearGradient id="Ad283" x1="0" y1="0" x2="1" y2="0"><stop offset="0.000" stop-color="#5793c8"/><stop offset="0.190" stop-color="#5a94c8"/><stop offset="0.330" stop-color="#6a9ecd"/><stop offset="0.413" stop-color="#94b7d7"/><stop offset="0.457" stop-color="#c5d5e3"/><stop offset="0.481" stop-color="#f4c6b1"/><stop offset="0.519" stop-color="#f4c6b1"/><stop offset="0.543" stop-color="#c5d5e3"/><stop offset="0.587" stop-color="#94b7d7"/><stop offset="0.670" stop-color="#6a9ecd"/><stop offset="0.810" stop-color="#5a94c8"/><stop offset="1.000" stop-color="#5793c8"/></linearGradient>
<linearGradient id="Ad288" x1="0" y1="0" x2="1" y2="0"><stop offset="0.000" stop-color="#4a8ac3"/><stop offset="0.190" stop-color="#4d8bc4"/><stop offset="0.330" stop-color="#5d95c8"/><stop offset="0.413" stop-color="#89b0d3"/><stop offset="0.457" stop-color="#c0d1e1"/><stop offset="0.481" stop-color="#f5d1c0"/><stop offset="0.519" stop-color="#f5d1c0"/><stop offset="0.543" stop-color="#c0d1e1"/><stop offset="0.587" stop-color="#89b0d3"/><stop offset="0.670" stop-color="#5d95c8"/><stop offset="0.810" stop-color="#4d8bc4"/><stop offset="1.000" stop-color="#4a8ac3"/></linearGradient>
<g filter="url(#grain)"><rect x="36.00" y="83.00" width="32.30" height="5.30" fill="url(#Ad83)"/><rect x="36.00" y="88.00" width="32.30" height="5.30" fill="url(#Ad88)"/><rect x="36.00" y="93.00" width="32.30" height="5.30" fill="url(#Ad93)"/><rect x="36.00" y="98.00" width="32.30" height="5.30" fill="url(#Ad98)"/><rect x="36.00" y="103.00" width="32.30" height="5.30" fill="url(#Ad103)"/><rect x="36.00" y="108.00" width="32.30" height="5.30" fill="url(#Ad108)"/><rect x="36.00" y="113.00" width="32.30" height="5.30" fill="url(#Ad113)"/><rect x="36.00" y="118.00" width="32.30" height="5.30" fill="url(#Ad118)"/><rect x="36.00" y="123.00" width="32.30" height="5.30" fill="url(#Ad123)"/><rect x="36.00" y="128.00" width="32.30" height="5.30" fill="url(#Ad128)"/><rect x="36.00" y="133.00" width="32.30" height="5.30" fill="url(#Ad133)"/><rect x="36.00" y="138.00" width="32.30" height="5.30" fill="url(#Ad138)"/><rect x="36.00" y="143.00" width="32.30" height="5.30" fill="url(#Ad143)"/><rect x="36.00" y="148.00" width="32.30" height="5.30" fill="url(#Ad148)"/><rect x="36.00" y="153.00" width="32.30" height="5.30" fill="url(#Ad153)"/><rect x="36.00" y="158.00" width="32.30" height="5.30" fill="url(#Ad158)"/><rect x="36.00" y="163.00" width="32.30" height="5.30" fill="url(#Ad163)"/><rect x="36.00" y="168.00" width="32.30" height="5.30" fill="url(#Ad168)"/><rect x="36.00" y="173.00" width="32.30" height="5.30" fill="url(#Ad173)"/><rect x="36.00" y="178.00" width="32.30" height="5.30" fill="url(#Ad178)"/><rect x="36.00" y="183.00" width="32.30" height="5.30" fill="url(#Ad183)"/><rect x="36.00" y="188.00" width="32.30" height="5.30" fill="url(#Ad188)"/><rect x="36.00" y="193.00" width="32.30" height="5.30" fill="url(#Ad193)"/><rect x="36.00" y="198.00" width="32.30" height="5.30" fill="url(#Ad198)"/><rect x="36.00" y="203.00" width="32.30" height="5.30" fill="url(#Ad203)"/><rect x="36.00" y="208.00" width="32.30" height="5.30" fill="url(#Ad208)"/><rect x="36.00" y="213.00" width="32.30" height="5.30" fill="url(#Ad213)"/><rect x="36.00" y="218.00" width="32.30" height="5.30" fill="url(#Ad218)"/><rect x="36.00" y="223.00" width="32.30" height="5.30" fill="url(#Ad223)"/><rect x="36.00" y="228.00" width="32.30" height="5.30" fill="url(#Ad228)"/><rect x="36.00" y="233.00" width="32.30" height="5.30" fill="url(#Ad233)"/><rect x="36.00" y="238.00" width="32.30" height="5.30" fill="url(#Ad238)"/><rect x="36.00" y="243.00" width="32.30" height="5.30" fill="url(#Ad243)"/><rect x="36.00" y="248.00" width="32.30" height="5.30" fill="url(#Ad248)"/><rect x="36.00" y="253.00" width="32.30" height="5.30" fill="url(#Ad253)"/><rect x="36.00" y="258.00" width="32.30" height="5.30" fill="url(#Ad258)"/><rect x="36.00" y="263.00" width="32.30" height="5.30" fill="url(#Ad263)"/><rect x="36.00" y="268.00" width="32.30" height="5.30" fill="url(#Ad268)"/><rect x="36.00" y="273.00" width="32.30" height="5.30" fill="url(#Ad273)"/><rect x="36.00" y="278.00" width="32.30" height="5.30" fill="url(#Ad278)"/><rect x="36.00" y="283.00" width="32.30" height="5.30" fill="url(#Ad283)"/><rect x="36.00" y="288.00" width="32.30" height="5.30" fill="url(#Ad288)"/></g>
<rect x="36.00" y="83" width="32.30" height="210" fill="none" stroke="#a8a8a8" stroke-width="0.7"/>
<text x="86.50" y="42.70" font-size="8.89" text-anchor="middle">rep 2</text>
<rect x="70.20" y="45.6" width="32.60" height="30" fill="#fff" stroke="#9a9a9a" stroke-width="0.6"/>
<line x1="70.20" y1="48.50" x2="71.40" y2="48.50" stroke="#888" stroke-width="0.5" />
<line x1="70.20" y1="66.20" x2="71.40" y2="66.20" stroke="#888" stroke-width="0.5" />
<line x1="86.50" y1="75.60" x2="86.50" y2="74.40" stroke="#888" stroke-width="0.5" />
<path d="M70.70,69.11 L71.23,69.08 L71.75,69.05 L72.28,69.02 L72.81,68.98 L73.33,68.94 L73.86,68.90 L74.39,68.85 L74.91,68.80 L75.44,68.75 L75.97,68.69 L76.49,68.63 L77.02,68.57 L77.55,68.49 L78.07,68.42 L78.60,68.33 L79.13,68.25 L79.65,68.15 L80.18,68.05 L80.71,67.94 L81.23,67.82 L81.76,67.69 L82.29,67.55 L82.81,67.41 L83.34,67.25 L83.87,67.07 L84.39,66.89 L84.92,66.69 L85.40,65.40 L85.80,56.60 L86.05,48.00 Q86.50,46.40 86.95,48.00 L87.20,56.60 L87.60,65.40 L88.08,66.69 L88.61,66.89 L89.13,67.07 L89.66,67.25 L90.19,67.41 L90.71,67.55 L91.24,67.69 L91.77,67.82 L92.29,67.94 L92.82,68.05 L93.35,68.15 L93.87,68.25 L94.40,68.33 L94.93,68.42 L95.45,68.49 L95.98,68.57 L96.51,68.63 L97.03,68.69 L97.56,68.75 L98.09,68.80 L98.61,68.85 L99.14,68.90 L99.67,68.94 L100.19,68.98 L100.72,69.02 L101.25,69.05 L101.77,69.08 L102.30,69.11" fill="none" stroke="#7f7fd0" stroke-width="0.9" stroke-linejoin="round"/>
<g filter="url(#grain)"><rect x="70.20" y="83.00" width="32.60" height="5.30" fill="url(#Ad83)"/><rect x="70.20" y="88.00" width="32.60" height="5.30" fill="url(#Ad88)"/><rect x="70.20" y="93.00" width="32.60" height="5.30" fill="url(#Ad93)"/><rect x="70.20" y="98.00" width="32.60" height="5.30" fill="url(#Ad98)"/><rect x="70.20" y="103.00" width="32.60" height="5.30" fill="url(#Ad103)"/><rect x="70.20" y="108.00" width="32.60" height="5.30" fill="url(#Ad108)"/><rect x="70.20" y="113.00" width="32.60" height="5.30" fill="url(#Ad113)"/><rect x="70.20" y="118.00" width="32.60" height="5.30" fill="url(#Ad118)"/><rect x="70.20" y="123.00" width="32.60" height="5.30" fill="url(#Ad123)"/><rect x="70.20" y="128.00" width="32.60" height="5.30" fill="url(#Ad128)"/><rect x="70.20" y="133.00" width="32.60" height="5.30" fill="url(#Ad133)"/><rect x="70.20" y="138.00" width="32.60" height="5.30" fill="url(#Ad138)"/><rect x="70.20" y="143.00" width="32.60" height="5.30" fill="url(#Ad143)"/><rect x="70.20" y="148.00" width="32.60" height="5.30" fill="url(#Ad148)"/><rect x="70.20" y="153.00" width="32.60" height="5.30" fill="url(#Ad153)"/><rect x="70.20" y="158.00" width="32.60" height="5.30" fill="url(#Ad158)"/><rect x="70.20" y="163.00" width="32.60" height="5.30" fill="url(#Ad163)"/><rect x="70.20" y="168.00" width="32.60" height="5.30" fill="url(#Ad168)"/><rect x="70.20" y="173.00" width="32.60" height="5.30" fill="url(#Ad173)"/><rect x="70.20" y="178.00" width="32.60" height="5.30" fill="url(#Ad178)"/><rect x="70.20" y="183.00" width="32.60" height="5.30" fill="url(#Ad183)"/><rect x="70.20" y="188.00" width="32.60" height="5.30" fill="url(#Ad188)"/><rect x="70.20" y="193.00" width="32.60" height="5.30" fill="url(#Ad193)"/><rect x="70.20" y="198.00" width="32.60" height="5.30" fill="url(#Ad198)"/><rect x="70.20" y="203.00" width="32.60" height="5.30" fill="url(#Ad203)"/><rect x="70.20" y="208.00" width="32.60" height="5.30" fill="url(#Ad208)"/><rect x="70.20" y="213.00" width="32.60" height="5.30" fill="url(#Ad213)"/><rect x="70.20" y="218.00" width="32.60" height="5.30" fill="url(#Ad218)"/><rect x="70.20" y="223.00" width="32.60" height="5.30" fill="url(#Ad223)"/><rect x="70.20" y="228.00" width="32.60" height="5.30" fill="url(#Ad228)"/><rect x="70.20" y="233.00" width="32.60" height="5.30" fill="url(#Ad233)"/><rect x="70.20" y="238.00" width="32.60" height="5.30" fill="url(#Ad238)"/><rect x="70.20" y="243.00" width="32.60" height="5.30" fill="url(#Ad243)"/><rect x="70.20" y="248.00" width="32.60" height="5.30" fill="url(#Ad248)"/><rect x="70.20" y="253.00" width="32.60" height="5.30" fill="url(#Ad253)"/><rect x="70.20" y="258.00" width="32.60" height="5.30" fill="url(#Ad258)"/><rect x="70.20" y="263.00" width="32.60" height="5.30" fill="url(#Ad263)"/><rect x="70.20" y="268.00" width="32.60" height="5.30" fill="url(#Ad268)"/><rect x="70.20" y="273.00" width="32.60" height="5.30" fill="url(#Ad273)"/><rect x="70.20" y="278.00" width="32.60" height="5.30" fill="url(#Ad278)"/><rect x="70.20" y="283.00" width="32.60" height="5.30" fill="url(#Ad283)"/><rect x="70.20" y="288.00" width="32.60" height="5.30" fill="url(#Ad288)"/></g>
<rect x="70.20" y="83" width="32.60" height="210" fill="none" stroke="#a8a8a8" stroke-width="0.7"/>
<text x="121.30" y="42.70" font-size="8.89" text-anchor="middle">rep 3</text>
<rect x="105.10" y="45.6" width="32.40" height="30" fill="#fff" stroke="#9a9a9a" stroke-width="0.6"/>
<line x1="105.10" y1="48.50" x2="106.30" y2="48.50" stroke="#888" stroke-width="0.5" />
<line x1="105.10" y1="66.20" x2="106.30" y2="66.20" stroke="#888" stroke-width="0.5" />
<line x1="121.30" y1="75.60" x2="121.30" y2="74.40" stroke="#888" stroke-width="0.5" />
<path d="M105.60,68.79 L106.12,68.76 L106.65,68.73 L107.17,68.69 L107.69,68.65 L108.22,68.61 L108.74,68.56 L109.26,68.51 L109.79,68.46 L110.31,68.41 L110.83,68.35 L111.36,68.28 L111.88,68.21 L112.40,68.14 L112.93,68.06 L113.45,67.97 L113.97,67.87 L114.50,67.77 L115.02,67.67 L115.54,67.55 L116.07,67.42 L116.59,67.29 L117.11,67.14 L117.64,66.99 L118.16,66.82 L118.68,66.64 L119.21,66.44 L119.73,66.23 L120.20,64.90 L120.60,56.00 L120.85,47.30 Q121.30,45.70 121.75,47.30 L122.00,56.00 L122.40,64.90 L122.87,66.23 L123.39,66.44 L123.92,66.64 L124.44,66.82 L124.96,66.99 L125.49,67.14 L126.01,67.29 L126.53,67.42 L127.06,67.55 L127.58,67.67 L128.10,67.77 L128.63,67.87 L129.15,67.97 L129.67,68.06 L130.20,68.14 L130.72,68.21 L131.24,68.28 L131.77,68.35 L132.29,68.41 L132.81,68.46 L133.34,68.51 L133.86,68.56 L134.38,68.61 L134.91,68.65 L135.43,68.69 L135.95,68.73 L136.48,68.76 L137.00,68.79" fill="none" stroke="#7f7fd0" stroke-width="0.9" stroke-linejoin="round"/>
<g filter="url(#grain)"><rect x="105.10" y="83.00" width="32.40" height="5.30" fill="url(#Ad83)"/><rect x="105.10" y="88.00" width="32.40" height="5.30" fill="url(#Ad88)"/><rect x="105.10" y="93.00" width="32.40" height="5.30" fill="url(#Ad93)"/><rect x="105.10" y="98.00" width="32.40" height="5.30" fill="url(#Ad98)"/><rect x="105.10" y="103.00" width="32.40" height="5.30" fill="url(#Ad103)"/><rect x="105.10" y="108.00" width="32.40" height="5.30" fill="url(#Ad108)"/><rect x="105.10" y="113.00" width="32.40" height="5.30" fill="url(#Ad113)"/><rect x="105.10" y="118.00" width="32.40" height="5.30" fill="url(#Ad118)"/><rect x="105.10" y="123.00" width="32.40" height="5.30" fill="url(#Ad123)"/><rect x="105.10" y="128.00" width="32.40" height="5.30" fill="url(#Ad128)"/><rect x="105.10" y="133.00" width="32.40" height="5.30" fill="url(#Ad133)"/><rect x="105.10" y="138.00" width="32.40" height="5.30" fill="url(#Ad138)"/><rect x="105.10" y="143.00" width="32.40" height="5.30" fill="url(#Ad143)"/><rect x="105.10" y="148.00" width="32.40" height="5.30" fill="url(#Ad148)"/><rect x="105.10" y="153.00" width="32.40" height="5.30" fill="url(#Ad153)"/><rect x="105.10" y="158.00" width="32.40" height="5.30" fill="url(#Ad158)"/><rect x="105.10" y="163.00" width="32.40" height="5.30" fill="url(#Ad163)"/><rect x="105.10" y="168.00" width="32.40" height="5.30" fill="url(#Ad168)"/><rect x="105.10" y="173.00" width="32.40" height="5.30" fill="url(#Ad173)"/><rect x="105.10" y="178.00" width="32.40" height="5.30" fill="url(#Ad178)"/><rect x="105.10" y="183.00" width="32.40" height="5.30" fill="url(#Ad183)"/><rect x="105.10" y="188.00" width="32.40" height="5.30" fill="url(#Ad188)"/><rect x="105.10" y="193.00" width="32.40" height="5.30" fill="url(#Ad193)"/><rect x="105.10" y="198.00" width="32.40" height="5.30" fill="url(#Ad198)"/><rect x="105.10" y="203.00" width="32.40" height="5.30" fill="url(#Ad203)"/><rect x="105.10" y="208.00" width="32.40" height="5.30" fill="url(#Ad208)"/><rect x="105.10" y="213.00" width="32.40" height="5.30" fill="url(#Ad213)"/><rect x="105.10" y="218.00" width="32.40" height="5.30" fill="url(#Ad218)"/><rect x="105.10" y="223.00" width="32.40" height="5.30" fill="url(#Ad223)"/><rect x="105.10" y="228.00" width="32.40" height="5.30" fill="url(#Ad228)"/><rect x="105.10" y="233.00" width="32.40" height="5.30" fill="url(#Ad233)"/><rect x="105.10" y="238.00" width="32.40" height="5.30" fill="url(#Ad238)"/><rect x="105.10" y="243.00" width="32.40" height="5.30" fill="url(#Ad243)"/><rect x="105.10" y="248.00" width="32.40" height="5.30" fill="url(#Ad248)"/><rect x="105.10" y="253.00" width="32.40" height="5.30" fill="url(#Ad253)"/><rect x="105.10" y="258.00" width="32.40" height="5.30" fill="url(#Ad258)"/><rect x="105.10" y="263.00" width="32.40" height="5.30" fill="url(#Ad263)"/><rect x="105.10" y="268.00" width="32.40" height="5.30" fill="url(#Ad268)"/><rect x="105.10" y="273.00" width="32.40" height="5.30" fill="url(#Ad273)"/><rect x="105.10" y="278.00" width="32.40" height="5.30" fill="url(#Ad278)"/><rect x="105.10" y="283.00" width="32.40" height="5.30" fill="url(#Ad283)"/><rect x="105.10" y="288.00" width="32.40" height="5.30" fill="url(#Ad288)"/></g>
<rect x="105.10" y="83" width="32.40" height="210" fill="none" stroke="#a8a8a8" stroke-width="0.7"/>
<text x="156.20" y="42.70" font-size="8.89" text-anchor="middle">rep 1</text>
<rect x="140.00" y="45.6" width="32.40" height="30" fill="#fff" stroke="#9a9a9a" stroke-width="0.6"/>
<line x1="140.00" y1="48.50" x2="141.20" y2="48.50" stroke="#888" stroke-width="0.5" />
<line x1="140.00" y1="66.20" x2="141.20" y2="66.20" stroke="#888" stroke-width="0.5" />
<line x1="156.20" y1="75.60" x2="156.20" y2="74.40" stroke="#888" stroke-width="0.5" />
<path d="M140.50,74.91 L141.02,74.90 L141.55,74.89 L142.07,74.87 L142.59,74.86 L143.12,74.84 L143.64,74.82 L144.16,74.79 L144.69,74.77 L145.21,74.74 L145.73,74.71 L146.26,74.67 L146.78,74.63 L147.30,74.59 L147.83,74.54 L148.35,74.48 L148.87,74.41 L149.40,74.34 L149.92,74.26 L150.44,74.17 L150.97,74.07 L151.49,73.95 L152.01,73.82 L152.54,73.67 L153.06,73.51 L153.58,73.33 L154.11,73.12 L154.63,72.89 L155.10,71.40 L155.50,65.75 L155.75,60.30 Q156.20,58.70 156.65,60.30 L156.90,65.75 L157.30,71.40 L157.77,72.89 L158.29,73.12 L158.82,73.33 L159.34,73.51 L159.86,73.67 L160.39,73.82 L160.91,73.95 L161.43,74.07 L161.96,74.17 L162.48,74.26 L163.00,74.34 L163.53,74.41 L164.05,74.48 L164.57,74.54 L165.10,74.59 L165.62,74.63 L166.14,74.67 L166.67,74.71 L167.19,74.74 L167.71,74.77 L168.24,74.79 L168.76,74.82 L169.28,74.84 L169.81,74.86 L170.33,74.87 L170.85,74.89 L171.38,74.90 L171.90,74.91" fill="none" stroke="#7f7fd0" stroke-width="0.9" stroke-linejoin="round"/>
<linearGradient id="Aa83" x1="0" y1="0" x2="1" y2="0"><stop offset="0.000" stop-color="#efab92"/><stop offset="0.191" stop-color="#efa890"/><stop offset="0.330" stop-color="#eea58e"/><stop offset="0.414" stop-color="#eda18c"/><stop offset="0.457" stop-color="#ec9e8a"/><stop offset="0.481" stop-color="#de6c5c"/><stop offset="0.519" stop-color="#de6c5c"/><stop offset="0.543" stop-color="#ec9e8a"/><stop offset="0.586" stop-color="#eda18c"/><stop offset="0.670" stop-color="#eea58e"/><stop offset="0.809" stop-color="#efa890"/><stop offset="1.000" stop-color="#efab92"/></linearGradient>
<linearGradient id="Aa88" x1="0" y1="0" x2="1" y2="0"><stop offset="0.000" stop-color="#f2c0ad"/><stop offset="0.191" stop-color="#f1bcaa"/><stop offset="0.330" stop-color="#f0b6a4"/><stop offset="0.414" stop-color="#efb19f"/><stop offset="0.457" stop-color="#efad9b"/><stop offset="0.481" stop-color="#eb8c73"/><stop offset="0.519" stop-color="#eb8c73"/><stop offset="0.543" stop-color="#efad9b"/><stop offset="0.586" stop-color="#efb19f"/><stop offset="0.670" stop-color="#f0b6a4"/><stop offset="0.809" stop-color="#f1bcaa"/><stop offset="1.000" stop-color="#f2c0ad"/></linearGradient>
<linearGradient id="Aa93" x1="0" y1="0" x2="1" y2="0"><stop offset="0.000" stop-color="#f2cdbf"/><stop offset="0.191" stop-color="#f2cabb"/><stop offset="0.330" stop-color="#f1c4b5"/><stop offset="0.414" stop-color="#f1beae"/><stop offset="0.457" stop-color="#f0baaa"/><stop offset="0.481" stop-color="#eb8e74"/><stop offset="0.519" stop-color="#eb8e74"/><stop offset="0.543" stop-color="#f0baaa"/><stop offset="0.586" stop-color="#f1beae"/><stop offset="0.670" stop-color="#f1c4b5"/><stop offset="0.809" stop-color="#f2cabb"/><stop offset="1.000" stop-color="#f2cdbf"/></linearGradient>
<linearGradient id="Aa98" x1="0" y1="0" x2="1" y2="0"><stop offset="0.000" stop-color="#f3dad0"/><stop offset="0.191" stop-color="#f3d7cc"/><stop offset="0.330" stop-color="#f2d1c5"/><stop offset="0.414" stop-color="#f2cbbe"/><stop offset="0.457" stop-color="#f2c7b8"/><stop offset="0.481" stop-color="#ec8f76"/><stop offset="0.519" stop-color="#ec8f76"/><stop offset="0.543" stop-color="#f2c7b8"/><stop offset="0.586" stop-color="#f2cbbe"/><stop offset="0.670" stop-color="#f2d1c5"/><stop offset="0.809" stop-color="#f3d7cc"/><stop offset="1.000" stop-color="#f3dad0"/></linearGradient>
<linearGradient id="Aa103" x1="0" y1="0" x2="1" y2="0"><stop offset="0.000" stop-color="#f1e2dd"/><stop offset="0.191" stop-color="#f2dfd8"/><stop offset="0.330" stop-color="#f2d9d0"/><stop offset="0.414" stop-color="#f2d3c8"/><stop offset="0.457" stop-color="#f2cec2"/><stop offset="0.481" stop-color="#ec9077"/><stop offset="0.519" stop-color="#ec9077"/><stop offset="0.543" stop-color="#f2cec2"/><stop offset="0.586" stop-color="#f2d3c8"/><stop offset="0.670" stop-color="#f2d9d0"/><stop offset="0.809" stop-color="#f2dfd8"/><stop offset="1.000" stop-color="#f1e2dd"/></linearGradient>
<linearGradient id="Aa108" x1="0" y1="0" x2="1" y2="0"><stop offset="0.000" stop-color="#f0eae9"/><stop offset="0.191" stop-color="#f0e6e4"/><stop offset="0.330" stop-color="#f1e0db"/><stop offset="0.414" stop-color="#f2dad3"/><stop offset="0.457" stop-color="#f2d6cc"/><stop offset="0.481" stop-color="#ec9279"/><stop offset="0.519" stop-color="#ec9279"/><stop offset="0.543" stop-color="#f2d6cc"/><stop offset="0.586" stop-color="#f2dad3"/><stop offset="0.670" stop-color="#f1e0db"/><stop offset="0.809" stop-color="#f0e6e4"/><stop offset="1.000" stop-color="#f0eae9"/></linearGradient>
<linearGradient id="Aa113" x1="0" y1="0" x2="1" y2="0"><stop offset="0.000" stop-color="#eeebeb"/><stop offset="0.191" stop-color="#efe8e7"/><stop offset="0.330" stop-color="#f0e4e1"/><stop offset="0.414" stop-color="#f1e0da"/><stop offset="0.457" stop-color="#f2dcd5"/><stop offset="0.481" stop-color="#ed937a"/><stop offset="0.519" stop-color="#ed937a"/><stop offset="0.543" stop-color="#f2dcd5"/><stop offset="0.586" stop-color="#f1e0da"/><stop offset="0.670" stop-color="#f0e4e1"/><stop offset="0.809" stop-color="#efe8e7"/><stop offset="1.000" stop-color="#eeebeb"/></linearGradient>
<linearGradient id="Aa118" x1="0" y1="0" x2="1" y2="0"><stop offset="0.000" stop-color="#ecebed"/><stop offset="0.191" stop-color="#edeaea"/><stop offset="0.330" stop-color="#efe7e6"/><stop offset="0.414" stop-color="#f1e4e1"/><stop offset="0.457" stop-color="#f2e3dd"/><stop offset="0.481" stop-color="#ed947b"/><stop offset="0.519" stop-color="#ed947b"/><stop offset="0.543" stop-color="#f2e3dd"/><stop offset="0.586" stop-color="#f1e4e1"/><stop offset="0.670" stop-color="#efe7e6"/><stop offset="0.809" stop-color="#edeaea"/><stop offset="1.000" stop-color="#ecebed"/></linearGradient>
<linearGradient id="Aa123" x1="0" y1="0" x2="1" y2="0"><stop offset="0.000" stop-color="#e9ebef"/><stop offset="0.191" stop-color="#ebeaec"/><stop offset="0.330" stop-color="#ede8e8"/><stop offset="0.414" stop-color="#efe6e3"/><stop offset="0.457" stop-color="#f1e4e0"/><stop offset="0.481" stop-color="#ed967d"/><stop offset="0.519" stop-color="#ed967d"/><stop offset="0.543" stop-color="#f1e4e0"/><stop offset="0.586" stop-color="#efe6e3"/><stop offset="0.670" stop-color="#ede8e8"/><stop offset="0.809" stop-color="#ebeaec"/><stop offset="1.000" stop-color="#e9ebef"/></linearGradient>
<linearGradient id="Aa128" x1="0" y1="0" x2="1" y2="0"><stop offset="0.000" stop-color="#e7ebf1"/><stop offset="0.191" stop-color="#e9ebee"/><stop offset="0.330" stop-color="#ebe9ea"/><stop offset="0.414" stop-color="#eee7e6"/><stop offset="0.457" stop-color="#f0e6e3"/><stop offset="0.481" stop-color="#ee977e"/><stop offset="0.519" stop-color="#ee977e"/><stop offset="0.543" stop-color="#f0e6e3"/><stop offset="0.586" stop-color="#eee7e6"/><stop offset="0.670" stop-color="#ebe9ea"/><stop offset="0.809" stop-color="#e9ebee"/><stop offset="1.000" stop-color="#e7ebf1"/></linearGradient>
<linearGradient id="Aa133" x1="0" y1="0" x2="1" y2="0"><stop offset="0.000" stop-color="#e5ecf2"/><stop offset="0.191" stop-color="#e6ebf0"/><stop offset="0.330" stop-color="#eaeaed"/><stop offset="0.414" stop-color="#ede8e9"/><stop offset="0.457" stop-color="#f0e7e6"/><stop offset="0.481" stop-color="#ee987f"/><stop offset="0.519" stop-color="#ee987f"/><stop offset="0.543" stop-color="#f0e7e6"/><stop offset="0.586" stop-color="#ede8e9"/><stop offset="0.670" stop-color="#eaeaed"/><stop offset="0.809" stop-color="#e6ebf0"/><stop offset="1.000" stop-color="#e5ecf2"/></linearGradient>
<linearGradient id="Aa138" x1="0" y1="0" x2="1" y2="0"><stop offset="0.000" stop-color="#e2eaf2"/><stop offset="0.191" stop-color="#e4eaf0"/><stop offset="0.330" stop-color="#e8eaee"/><stop offset="0.414" stop-color="#ece9eb"/><stop offset="0.457" stop-color="#efe9e9"/><stop offset="0.481" stop-color="#ee9a81"/><stop offset="0.519" stop-color="#ee9a81"/><stop offset="0.543" stop-color="#efe9e9"/><stop offset="0.586" stop-color="#ece9eb"/><stop offset="0.670" stop-color="#e8eaee"/><stop offset="0.809" stop-color="#e4eaf0"/><stop offset="1.000" stop-color="#e2eaf2"/></linearGradient>
<linearGradient id="Aa143" x1="0" y1="0" x2="1" y2="0"><stop offset="0.000" stop-color="#dfe9f2"/><stop offset="0.191" stop-color="#e1e9f1"/><stop offset="0.330" stop-color="#e6eaef"/><stop offset="0.414" stop-color="#eaeaed"/><stop offset="0.457" stop-color="#eeeaec"/><stop offset="0.481" stop-color="#ef9b82"/><stop offset="0.519" stop-color="#ef9b82"/><stop offset="0.543" stop-color="#eeeaec"/><stop offset="0.586" stop-color="#eaeaed"/><stop offset="0.670" stop-color="#e6eaef"/><stop offset="0.809" stop-color="#e1e9f1"/><stop offset="1.000" stop-color="#dfe9f2"/></linearGradient>
<linearGradient id="Aa148" x1="0" y1="0" x2="1" y2="0"><stop offset="0.000" stop-color="#dce8f1"/><stop offset="0.191" stop-color="#dfe8f1"/><stop offset="0.330" stop-color="#e4e9f0"/><stop offset="0.414" stop-color="#e9ebef"/><stop offset="0.457" stop-color="#edebef"/><stop offset="0.481" stop-color="#ef9c84"/><stop offset="0.519" stop-color="#ef9c84"/><stop offset="0.543" stop-color="#edebef"/><stop offset="0.586" stop-color="#e9ebef"/><stop offset="0.670" stop-color="#e4e9f0"/><stop offset="0.809" stop-color="#dfe8f1"/><stop offset="1.000" stop-color="#dce8f1"/></linearGradient>
<linearGradient id="Aa153" x1="0" y1="0" x2="1" y2="0"><stop offset="0.000" stop-color="#dae7f1"/><stop offset="0.191" stop-color="#dce7f1"/><stop offset="0.330" stop-color="#e2e9f0"/><stop offset="0.414" stop-color="#e8eaef"/><stop offset="0.457" stop-color="#ecebef"/><stop offset="0.481" stop-color="#ef9e85"/><stop offset="0.519" stop-color="#ef9e85"/><stop offset="0.543" stop-color="#ecebef"/><stop offset="0.586" stop-color="#e8eaef"/><stop offset="0.670" stop-color="#e2e9f0"/><stop offset="0.809" stop-color="#dce7f1"/><stop offset="1.000" stop-color="#dae7f1"/></linearGradient>
<linearGradient id="Aa158" x1="0" y1="0" x2="1" y2="0"><stop offset="0.000" stop-color="#d7e5f1"/><stop offset="0.191" stop-color="#dae6f0"/><stop offset="0.330" stop-color="#e0e8f0"/><stop offset="0.414" stop-color="#e6eaf0"/><stop offset="0.457" stop-color="#ececef"/><stop offset="0.481" stop-color="#ef9f86"/><stop offset="0.519" stop-color="#ef9f86"/><stop offset="0.543" stop-color="#ececef"/><stop offset="0.586" stop-color="#e6eaf0"/><stop offset="0.670" stop-color="#e0e8f0"/><stop offset="0.809" stop-color="#dae6f0"/><stop offset="1.000" stop-color="#d7e5f1"/></linearGradient>
<linearGradient id="Aa163" x1="0" y1="0" x2="1" y2="0"><stop offset="0.000" stop-color="#d4e4f0"/><stop offset="0.191" stop-color="#d7e5f0"/><stop offset="0.330" stop-color="#dee7f0"/><stop offset="0.414" stop-color="#e5eaf0"/><stop offset="0.457" stop-color="#ebecf0"/><stop offset="0.481" stop-color="#f0a188"/><stop offset="0.519" stop-color="#f0a188"/><stop offset="0.543" stop-color="#ebecf0"/><stop offset="0.586" stop-color="#e5eaf0"/><stop offset="0.670" stop-color="#dee7f0"/><stop offset="0.809" stop-color="#d7e5f0"/><stop offset="1.000" stop-color="#d4e4f0"/></linearGradient>
<linearGradient id="Aa168" x1="0" y1="0" x2="1" y2="0"><stop offset="0.000" stop-color="#d1e2ef"/><stop offset="0.191" stop-color="#d4e3f0"/><stop offset="0.330" stop-color="#dbe6f0"/><stop offset="0.414" stop-color="#e3e9f0"/><stop offset="0.457" stop-color="#eaecf0"/><stop offset="0.481" stop-color="#f0a289"/><stop offset="0.519" stop-color="#f0a289"/><stop offset="0.543" stop-color="#eaecf0"/><stop offset="0.586" stop-color="#e3e9f0"/><stop offset="0.670" stop-color="#dbe6f0"/><stop offset="0.809" stop-color="#d4e3f0"/><stop offset="1.000" stop-color="#d1e2ef"/></linearGradient>
<linearGradient id="Aa173" x1="0" y1="0" x2="1" y2="0"><stop offset="0.000" stop-color="#cee0ef"/><stop offset="0.191" stop-color="#d1e2ef"/><stop offset="0.330" stop-color="#d9e5ef"/><stop offset="0.414" stop-color="#e2e9f0"/><stop offset="0.457" stop-color="#e9ebf0"/><stop offset="0.481" stop-color="#f0a38a"/><stop offset="0.519" stop-color="#f0a38a"/><stop offset="0.543" stop-color="#e9ebf0"/><stop offset="0.586" stop-color="#e2e9f0"/><stop offset="0.670" stop-color="#d9e5ef"/><stop offset="0.809" stop-color="#d1e2ef"/><stop offset="1.000" stop-color="#cee0ef"/></linearGradient>
<linearGradient id="Aa178" x1="0" y1="0" x2="1" y2="0"><stop offset="0.000" stop-color="#cbdeee"/><stop offset="0.191" stop-color="#cee0ee"/><stop offset="0.330" stop-color="#d6e4ef"/><stop offset="0.414" stop-color="#e0e8f0"/><stop offset="0.457" stop-color="#e8ebf1"/><stop offset="0.481" stop-color="#f1a58c"/><stop offset="0.519" stop-color="#f1a58c"/><stop offset="0.543" stop-color="#e8ebf1"/><stop offset="0.586" stop-color="#e0e8f0"/><stop offset="0.670" stop-color="#d6e4ef"/><stop offset="0.809" stop-color="#cee0ee"/><stop offset="1.000" stop-color="#cbdeee"/></linearGradient>
<linearGradient id="Aa183" x1="0" y1="0" x2="1" y2="0"><stop offset="0.000" stop-color="#c7dced"/><stop offset="0.191" stop-color="#cbdeee"/><stop offset="0.330" stop-color="#d4e2ef"/><stop offset="0.414" stop-color="#dee7f0"/><stop offset="0.457" stop-color="#e7ebf1"/><stop offset="0.481" stop-color="#f1a68d"/><stop offset="0.519" stop-color="#f1a68d"/><stop offset="0.543" stop-color="#e7ebf1"/><stop offset="0.586" stop-color="#dee7f0"/><stop offset="0.670" stop-color="#d4e2ef"/><stop offset="0.809" stop-color="#cbdeee"/><stop offset="1.000" stop-color="#c7dced"/></linearGradient>
<linearGradient id="Aa188" x1="0" y1="0" x2="1" y2="0"><stop offset="0.000" stop-color="#c4dbec"/><stop offset="0.191" stop-color="#c8dced"/><stop offset="0.330" stop-color="#d1e1ee"/><stop offset="0.414" stop-color="#dde7f0"/><stop offset="0.457" stop-color="#e6ebf1"/><stop offset="0.481" stop-color="#f1a78e"/><stop offset="0.519" stop-color="#f1a78e"/><stop offset="0.543" stop-color="#e6ebf1"/><stop offset="0.586" stop-color="#dde7f0"/><stop offset="0.670" stop-color="#d1e1ee"/><stop offset="0.809" stop-color="#c8dced"/><stop offset="1.000" stop-color="#c4dbec"/></linearGradient>
<linearGradient id="Aa193" x1="0" y1="0" x2="1" y2="0"><stop offset="0.000" stop-color="#c1d9ec"/><stop offset="0.191" stop-color="#c5dbec"/><stop offset="0.330" stop-color="#cedfee"/><stop offset="0.414" stop-color="#dbe6f0"/><stop offset="0.457" stop-color="#e5ebf1"/><stop offset="0.481" stop-color="#f2a990"/><stop offset="0.519" stop-color="#f2a990"/><stop offset="0.543" stop-color="#e5ebf1"/><stop offset="0.586" stop-color="#dbe6f0"/><stop offset="0.670" stop-color="#cedfee"/><stop offset="0.809" stop-color="#c5dbec"/><stop offset="1.000" stop-color="#c1d9ec"/></linearGradient>
<linearGradient id="Aa198" x1="0" y1="0" x2="1" y2="0"><stop offset="0.000" stop-color="#bdd6eb"/><stop offset="0.191" stop-color="#c1d8eb"/><stop offset="0.330" stop-color="#cbdeed"/><stop offset="0.414" stop-color="#d9e5f0"/><stop offset="0.457" stop-color="#e4ebf2"/><stop offset="0.481" stop-color="#f2aa91"/><stop offset="0.519" stop-color="#f2aa91"/><stop offset="0.543" stop-color="#e4ebf2"/><stop offset="0.586" stop-color="#d9e5f0"/><stop offset="0.670" stop-color="#cbdeed"/><stop offset="0.809" stop-color="#c1d8eb"/><stop offset="1.000" stop-color="#bdd6eb"/></linearGradient>
<linearGradient id="Aa203" x1="0" y1="0" x2="1" y2="0"><stop offset="0.000" stop-color="#b8d3e9"/><stop offset="0.191" stop-color="#bdd6ea"/><stop offset="0.330" stop-color="#c8dcec"/><stop offset="0.414" stop-color="#d7e4ef"/><stop offset="0.457" stop-color="#e3eaf1"/><stop offset="0.481" stop-color="#f2ad95"/><stop offset="0.519" stop-color="#f2ad95"/><stop offset="0.543" stop-color="#e3eaf1"/><stop offset="0.586" stop-color="#d7e4ef"/><stop offset="0.670" stop-color="#c8dcec"/><stop offset="0.809" stop-color="#bdd6ea"/><stop offset="1.000" stop-color="#b8d3e9"/></linearGradient>
<linearGradient id="Aa208" x1="0" y1="0" x2="1" y2="0"><stop offset="0.000" stop-color="#b4d1e8"/><stop offset="0.191" stop-color="#b8d3e9"/><stop offset="0.330" stop-color="#c4d9eb"/><stop offset="0.414" stop-color="#d4e2ee"/><stop offset="0.457" stop-color="#e2eaf1"/><stop offset="0.481" stop-color="#f3af98"/><stop offset="0.519" stop-color="#f3af98"/><stop offset="0.543" stop-color="#e2eaf1"/><stop offset="0.586" stop-color="#d4e2ee"/><stop offset="0.670" stop-color="#c4d9eb"/><stop offset="0.809" stop-color="#b8d3e9"/><stop offset="1.000" stop-color="#b4d1e8"/></linearGradient>
<linearGradient id="Aa213" x1="0" y1="0" x2="1" y2="0"><stop offset="0.000" stop-color="#afcee7"/><stop offset="0.191" stop-color="#b4d0e8"/><stop offset="0.330" stop-color="#c0d7ea"/><stop offset="0.414" stop-color="#d2e1ee"/><stop offset="0.457" stop-color="#e1e9f1"/><stop offset="0.481" stop-color="#f3b29b"/><stop offset="0.519" stop-color="#f3b29b"/><stop offset="0.543" stop-color="#e1e9f1"/><stop offset="0.586" stop-color="#d2e1ee"/><stop offset="0.670" stop-color="#c0d7ea"/><stop offset="0.809" stop-color="#b4d0e8"/><stop offset="1.000" stop-color="#afcee7"/></linearGradient>
<linearGradient id="Aa218" x1="0" y1="0" x2="1" y2="0"><stop offset="0.000" stop-color="#aacbe6"/><stop offset="0.191" stop-color="#afcee7"/><stop offset="0.330" stop-color="#bcd5e9"/><stop offset="0.414" stop-color="#d0dfed"/><stop offset="0.457" stop-color="#e1e9f0"/><stop offset="0.481" stop-color="#f3b49f"/><stop offset="0.519" stop-color="#f3b49f"/><stop offset="0.543" stop-color="#e1e9f0"/><stop offset="0.586" stop-color="#d0dfed"/><stop offset="0.670" stop-color="#bcd5e9"/><stop offset="0.809" stop-color="#afcee7"/><stop offset="1.000" stop-color="#aacbe6"/></linearGradient>
<linearGradient id="Aa223" x1="0" y1="0" x2="1" y2="0"><stop offset="0.000" stop-color="#a5c8e4"/><stop offset="0.191" stop-color="#aacbe5"/><stop offset="0.330" stop-color="#b8d2e8"/><stop offset="0.414" stop-color="#cddeec"/><stop offset="0.457" stop-color="#e0e8f0"/><stop offset="0.481" stop-color="#f3b7a2"/><stop offset="0.519" stop-color="#f3b7a2"/><stop offset="0.543" stop-color="#e0e8f0"/><stop offset="0.586" stop-color="#cddeec"/><stop offset="0.670" stop-color="#b8d2e8"/><stop offset="0.809" stop-color="#aacbe5"/><stop offset="1.000" stop-color="#a5c8e4"/></linearGradient>
<linearGradient id="Aa228" x1="0" y1="0" x2="1" y2="0"><stop offset="0.000" stop-color="#a0c5e3"/><stop offset="0.191" stop-color="#a5c8e4"/><stop offset="0.330" stop-color="#b4d0e7"/><stop offset="0.414" stop-color="#cadceb"/><stop offset="0.457" stop-color="#dee7f0"/><stop offset="0.481" stop-color="#f4b9a5"/><stop offset="0.519" stop-color="#f4b9a5"/><stop offset="0.543" stop-color="#dee7f0"/><stop offset="0.586" stop-color="#cadceb"/><stop offset="0.670" stop-color="#b4d0e7"/><stop offset="0.809" stop-color="#a5c8e4"/><stop offset="1.000" stop-color="#a0c5e3"/></linearGradient>
<linearGradient id="Aa233" x1="0" y1="0" x2="1" y2="0"><stop offset="0.000" stop-color="#9ac1e1"/><stop offset="0.191" stop-color="#9fc4e2"/><stop offset="0.330" stop-color="#aecce5"/><stop offset="0.414" stop-color="#c7daea"/><stop offset="0.457" stop-color="#dde6ef"/><stop offset="0.481" stop-color="#f4bca9"/><stop offset="0.519" stop-color="#f4bca9"/><stop offset="0.543" stop-color="#dde6ef"/><stop offset="0.586" stop-color="#c7daea"/><stop offset="0.670" stop-color="#aecce5"/><stop offset="0.809" stop-color="#9fc4e2"/><stop offset="1.000" stop-color="#9ac1e1"/></linearGradient>
<linearGradient id="Aa238" x1="0" y1="0" x2="1" y2="0"><stop offset="0.000" stop-color="#93bdde"/><stop offset="0.191" stop-color="#98c0df"/><stop offset="0.330" stop-color="#a8c9e3"/><stop offset="0.414" stop-color="#c3d8e9"/><stop offset="0.457" stop-color="#dbe5ee"/><stop offset="0.481" stop-color="#f4beac"/><stop offset="0.519" stop-color="#f4beac"/><stop offset="0.543" stop-color="#dbe5ee"/><stop offset="0.586" stop-color="#c3d8e9"/><stop offset="0.670" stop-color="#a8c9e3"/><stop offset="0.809" stop-color="#98c0df"/><stop offset="1.000" stop-color="#93bdde"/></linearGradient>
<linearGradient id="Aa243" x1="0" y1="0" x2="1" y2="0"><stop offset="0.000" stop-color="#8db9dc"/><stop offset="0.191" stop-color="#92bcdd"/><stop offset="0.330" stop-color="#a2c5e1"/><stop offset="0.414" stop-color="#bfd5e7"/><stop offset="0.457" stop-color="#dae4ee"/><stop offset="0.481" stop-color="#f4c1af"/><stop offset="0.519" stop-color="#f4c1af"/><stop offset="0.543" stop-color="#dae4ee"/><stop offset="0.586" stop-color="#bfd5e7"/><stop offset="0.670" stop-color="#a2c5e1"/><stop offset="0.809" stop-color="#92bcdd"/><stop offset="1.000" stop-color="#8db9dc"/></linearGradient>
<linearGradient id="Aa248" x1="0" y1="0" x2="1" y2="0"><stop offset="0.000" stop-color="#86b5d9"/><stop offset="0.191" stop-color="#8bb8da"/><stop offset="0.330" stop-color="#9cc1de"/><stop offset="0.414" stop-color="#bad3e6"/><stop offset="0.457" stop-color="#d8e3ed"/><stop offset="0.481" stop-color="#f5c3b3"/><stop offset="0.519" stop-color="#f5c3b3"/><stop offset="0.543" stop-color="#d8e3ed"/><stop offset="0.586" stop-color="#bad3e6"/><stop offset="0.670" stop-color="#9cc1de"/><stop offset="0.809" stop-color="#8bb8da"/><stop offset="1.000" stop-color="#86b5d9"/></linearGradient>
<linearGradient id="Aa253" x1="0" y1="0" x2="1" y2="0"><stop offset="0.000" stop-color="#80b1d7"/><stop offset="0.191" stop-color="#84b3d8"/><stop offset="0.330" stop-color="#96bddc"/><stop offset="0.414" stop-color="#b6d0e4"/><stop offset="0.457" stop-color="#d6e2ec"/><stop offset="0.481" stop-color="#f5c6b6"/><stop offset="0.519" stop-color="#f5c6b6"/><stop offset="0.543" stop-color="#d6e2ec"/><stop offset="0.586" stop-color="#b6d0e4"/><stop offset="0.670" stop-color="#96bddc"/><stop offset="0.809" stop-color="#84b3d8"/><stop offset="1.000" stop-color="#80b1d7"/></linearGradient>
<linearGradient id="Aa258" x1="0" y1="0" x2="1" y2="0"><stop offset="0.000" stop-color="#79add4"/><stop offset="0.191" stop-color="#7eafd5"/><stop offset="0.330" stop-color="#8fb9da"/><stop offset="0.414" stop-color="#b1cde2"/><stop offset="0.457" stop-color="#d4e1eb"/><stop offset="0.481" stop-color="#f5c8ba"/><stop offset="0.519" stop-color="#f5c8ba"/><stop offset="0.543" stop-color="#d4e1eb"/><stop offset="0.586" stop-color="#b1cde2"/><stop offset="0.670" stop-color="#8fb9da"/><stop offset="0.809" stop-color="#7eafd5"/><stop offset="1.000" stop-color="#79add4"/></linearGradient>
<linearGradient id="Aa263" x1="0" y1="0" x2="1" y2="0"><stop offset="0.000" stop-color="#71a6d1"/><stop offset="0.191" stop-color="#75a9d2"/><stop offset="0.330" stop-color="#87b3d7"/><stop offset="0.414" stop-color="#abc9e0"/><stop offset="0.457" stop-color="#d1dfea"/><stop offset="0.481" stop-color="#f5cdbf"/><stop offset="0.519" stop-color="#f5cdbf"/><stop offset="0.543" stop-color="#d1dfea"/><stop offset="0.586" stop-color="#abc9e0"/><stop offset="0.670" stop-color="#87b3d7"/><stop offset="0.809" stop-color="#75a9d2"/><stop offset="1.000" stop-color="#71a6d1"/></linearGradient>
<linearGradient id="Aa268" x1="0" y1="0" x2="1" y2="0"><stop offset="0.000" stop-color="#68a0ce"/><stop offset="0.191" stop-color="#6ba2cf"/><stop offset="0.330" stop-color="#7eadd4"/><stop offset="0.414" stop-color="#a4c4de"/><stop offset="0.457" stop-color="#cddce9"/><stop offset="0.481" stop-color="#f5d2c5"/><stop offset="0.519" stop-color="#f5d2c5"/><stop offset="0.543" stop-color="#cddce9"/><stop offset="0.586" stop-color="#a4c4de"/><stop offset="0.670" stop-color="#7eadd4"/><stop offset="0.809" stop-color="#6ba2cf"/><stop offset="1.000" stop-color="#68a0ce"/></linearGradient>
<linearGradient id="Aa273" x1="0" y1="0" x2="1" y2="0"><stop offset="0.000" stop-color="#5f99cb"/><stop offset="0.191" stop-color="#629bcc"/><stop offset="0.330" stop-color="#74a6d1"/><stop offset="0.414" stop-color="#9dbfdc"/><stop offset="0.457" stop-color="#cadae8"/><stop offset="0.481" stop-color="#f5d6ca"/><stop offset="0.519" stop-color="#f5d6ca"/><stop offset="0.543" stop-color="#cadae8"/><stop offset="0.586" stop-color="#9dbfdc"/><stop offset="0.670" stop-color="#74a6d1"/><stop offset="0.809" stop-color="#629bcc"/><stop offset="1.000" stop-color="#5f99cb"/></linearGradient>
<linearGradient id="Aa278" x1="0" y1="0" x2="1" y2="0"><stop offset="0.000" stop-color="#5693c8"/><stop offset="0.191" stop-color="#5995c9"/><stop offset="0.330" stop-color="#6ba0ce"/><stop offset="0.414" stop-color="#96bad9"/><stop offset="0.457" stop-color="#c6d7e6"/><stop offset="0.481" stop-color="#f6dbd0"/><stop offset="0.519" stop-color="#f6dbd0"/><stop offset="0.543" stop-color="#c6d7e6"/><stop offset="0.586" stop-color="#96bad9"/><stop offset="0.670" stop-color="#6ba0ce"/><stop offset="0.809" stop-color="#5995c9"/><stop offset="1.000" stop-color="#5693c8"/></linearGradient>
<linearGradient id="Aa283" x1="0" y1="0" x2="1" y2="0"><stop offset="0.000" stop-color="#4d8cc5"/><stop offset="0.191" stop-color="#4f8ec6"/><stop offset="0.330" stop-color="#6199ca"/><stop offset="0.414" stop-color="#8eb4d7"/><stop offset="0.457" stop-color="#c2d5e5"/><stop offset="0.481" stop-color="#f6dfd6"/><stop offset="0.519" stop-color="#f6dfd6"/><stop offset="0.543" stop-color="#c2d5e5"/><stop offset="0.586" stop-color="#8eb4d7"/><stop offset="0.670" stop-color="#6199ca"/><stop offset="0.809" stop-color="#4f8ec6"/><stop offset="1.000" stop-color="#4d8cc5"/></linearGradient>
<linearGradient id="Aa288" x1="0" y1="0" x2="1" y2="0"><stop offset="0.000" stop-color="#4485c2"/><stop offset="0.191" stop-color="#4687c2"/><stop offset="0.330" stop-color="#5792c7"/><stop offset="0.414" stop-color="#85aed4"/><stop offset="0.457" stop-color="#bed1e4"/><stop offset="0.481" stop-color="#f6e4db"/><stop offset="0.519" stop-color="#f6e4db"/><stop offset="0.543" stop-color="#bed1e4"/><stop offset="0.586" stop-color="#85aed4"/><stop offset="0.670" stop-color="#5792c7"/><stop offset="0.809" stop-color="#4687c2"/><stop offset="1.000" stop-color="#4485c2"/></linearGradient>
<g filter="url(#grain)"><rect x="140.00" y="83.00" width="32.40" height="5.30" fill="url(#Aa83)"/><rect x="140.00" y="88.00" width="32.40" height="5.30" fill="url(#Aa88)"/><rect x="140.00" y="93.00" width="32.40" height="5.30" fill="url(#Aa93)"/><rect x="140.00" y="98.00" width="32.40" height="5.30" fill="url(#Aa98)"/><rect x="140.00" y="103.00" width="32.40" height="5.30" fill="url(#Aa103)"/><rect x="140.00" y="108.00" width="32.40" height="5.30" fill="url(#Aa108)"/><rect x="140.00" y="113.00" width="32.40" height="5.30" fill="url(#Aa113)"/><rect x="140.00" y="118.00" width="32.40" height="5.30" fill="url(#Aa118)"/><rect x="140.00" y="123.00" width="32.40" height="5.30" fill="url(#Aa123)"/><rect x="140.00" y="128.00" width="32.40" height="5.30" fill="url(#Aa128)"/><rect x="140.00" y="133.00" width="32.40" height="5.30" fill="url(#Aa133)"/><rect x="140.00" y="138.00" width="32.40" height="5.30" fill="url(#Aa138)"/><rect x="140.00" y="143.00" width="32.40" height="5.30" fill="url(#Aa143)"/><rect x="140.00" y="148.00" width="32.40" height="5.30" fill="url(#Aa148)"/><rect x="140.00" y="153.00" width="32.40" height="5.30" fill="url(#Aa153)"/><rect x="140.00" y="158.00" width="32.40" height="5.30" fill="url(#Aa158)"/><rect x="140.00" y="163.00" width="32.40" height="5.30" fill="url(#Aa163)"/><rect x="140.00" y="168.00" width="32.40" height="5.30" fill="url(#Aa168)"/><rect x="140.00" y="173.00" width="32.40" height="5.30" fill="url(#Aa173)"/><rect x="140.00" y="178.00" width="32.40" height="5.30" fill="url(#Aa178)"/><rect x="140.00" y="183.00" width="32.40" height="5.30" fill="url(#Aa183)"/><rect x="140.00" y="188.00" width="32.40" height="5.30" fill="url(#Aa188)"/><rect x="140.00" y="193.00" width="32.40" height="5.30" fill="url(#Aa193)"/><rect x="140.00" y="198.00" width="32.40" height="5.30" fill="url(#Aa198)"/><rect x="140.00" y="203.00" width="32.40" height="5.30" fill="url(#Aa203)"/><rect x="140.00" y="208.00" width="32.40" height="5.30" fill="url(#Aa208)"/><rect x="140.00" y="213.00" width="32.40" height="5.30" fill="url(#Aa213)"/><rect x="140.00" y="218.00" width="32.40" height="5.30" fill="url(#Aa218)"/><rect x="140.00" y="223.00" width="32.40" height="5.30" fill="url(#Aa223)"/><rect x="140.00" y="228.00" width="32.40" height="5.30" fill="url(#Aa228)"/><rect x="140.00" y="233.00" width="32.40" height="5.30" fill="url(#Aa233)"/><rect x="140.00" y="238.00" width="32.40" height="5.30" fill="url(#Aa238)"/><rect x="140.00" y="243.00" width="32.40" height="5.30" fill="url(#Aa243)"/><rect x="140.00" y="248.00" width="32.40" height="5.30" fill="url(#Aa248)"/><rect x="140.00" y="253.00" width="32.40" height="5.30" fill="url(#Aa253)"/><rect x="140.00" y="258.00" width="32.40" height="5.30" fill="url(#Aa258)"/><rect x="140.00" y="263.00" width="32.40" height="5.30" fill="url(#Aa263)"/><rect x="140.00" y="268.00" width="32.40" height="5.30" fill="url(#Aa268)"/><rect x="140.00" y="273.00" width="32.40" height="5.30" fill="url(#Aa273)"/><rect x="140.00" y="278.00" width="32.40" height="5.30" fill="url(#Aa278)"/><rect x="140.00" y="283.00" width="32.40" height="5.30" fill="url(#Aa283)"/><rect x="140.00" y="288.00" width="32.40" height="5.30" fill="url(#Aa288)"/></g>
<rect x="140.00" y="83" width="32.40" height="210" fill="none" stroke="#a8a8a8" stroke-width="0.7"/>
<text x="191.30" y="42.70" font-size="8.89" text-anchor="middle">rep 2</text>
<rect x="175.00" y="45.6" width="32.60" height="30" fill="#fff" stroke="#9a9a9a" stroke-width="0.6"/>
<line x1="175.00" y1="48.50" x2="176.20" y2="48.50" stroke="#888" stroke-width="0.5" />
<line x1="175.00" y1="66.20" x2="176.20" y2="66.20" stroke="#888" stroke-width="0.5" />
<line x1="191.30" y1="75.60" x2="191.30" y2="74.40" stroke="#888" stroke-width="0.5" />
<path d="M175.50,74.91 L176.03,74.90 L176.55,74.89 L177.08,74.87 L177.61,74.86 L178.13,74.84 L178.66,74.82 L179.19,74.79 L179.71,74.77 L180.24,74.74 L180.77,74.71 L181.29,74.67 L181.82,74.63 L182.35,74.59 L182.87,74.54 L183.40,74.48 L183.93,74.41 L184.45,74.34 L184.98,74.26 L185.51,74.17 L186.03,74.07 L186.56,73.95 L187.09,73.82 L187.61,73.67 L188.14,73.51 L188.67,73.33 L189.19,73.12 L189.72,72.89 L190.20,71.40 L190.60,65.60 L190.85,60.00 Q191.30,58.40 191.75,60.00 L192.00,65.60 L192.40,71.40 L192.88,72.89 L193.41,73.12 L193.93,73.33 L194.46,73.51 L194.99,73.67 L195.51,73.82 L196.04,73.95 L196.57,74.07 L197.09,74.17 L197.62,74.26 L198.15,74.34 L198.67,74.41 L199.20,74.48 L199.73,74.54 L200.25,74.59 L200.78,74.63 L201.31,74.67 L201.83,74.71 L202.36,74.74 L202.89,74.77 L203.41,74.79 L203.94,74.82 L204.47,74.84 L204.99,74.86 L205.52,74.87 L206.05,74.89 L206.57,74.90 L207.10,74.91" fill="none" stroke="#7f7fd0" stroke-width="0.9" stroke-linejoin="round"/>
<g filter="url(#grain)"><rect x="175.00" y="83.00" width="32.60" height="5.30" fill="url(#Aa83)"/><rect x="175.00" y="88.00" width="32.60" height="5.30" fill="url(#Aa88)"/><rect x="175.00" y="93.00" width="32.60" height="5.30" fill="url(#Aa93)"/><rect x="175.00" y="98.00" width="32.60" height="5.30" fill="url(#Aa98)"/><rect x="175.00" y="103.00" width="32.60" height="5.30" fill="url(#Aa103)"/><rect x="175.00" y="108.00" width="32.60" height="5.30" fill="url(#Aa108)"/><rect x="175.00" y="113.00" width="32.60" height="5.30" fill="url(#Aa113)"/><rect x="175.00" y="118.00" width="32.60" height="5.30" fill="url(#Aa118)"/><rect x="175.00" y="123.00" width="32.60" height="5.30" fill="url(#Aa123)"/><rect x="175.00" y="128.00" width="32.60" height="5.30" fill="url(#Aa128)"/><rect x="175.00" y="133.00" width="32.60" height="5.30" fill="url(#Aa133)"/><rect x="175.00" y="138.00" width="32.60" height="5.30" fill="url(#Aa138)"/><rect x="175.00" y="143.00" width="32.60" height="5.30" fill="url(#Aa143)"/><rect x="175.00" y="148.00" width="32.60" height="5.30" fill="url(#Aa148)"/><rect x="175.00" y="153.00" width="32.60" height="5.30" fill="url(#Aa153)"/><rect x="175.00" y="158.00" width="32.60" height="5.30" fill="url(#Aa158)"/><rect x="175.00" y="163.00" width="32.60" height="5.30" fill="url(#Aa163)"/><rect x="175.00" y="168.00" width="32.60" height="5.30" fill="url(#Aa168)"/><rect x="175.00" y="173.00" width="32.60" height="5.30" fill="url(#Aa173)"/><rect x="175.00" y="178.00" width="32.60" height="5.30" fill="url(#Aa178)"/><rect x="175.00" y="183.00" width="32.60" height="5.30" fill="url(#Aa183)"/><rect x="175.00" y="188.00" width="32.60" height="5.30" fill="url(#Aa188)"/><rect x="175.00" y="193.00" width="32.60" height="5.30" fill="url(#Aa193)"/><rect x="175.00" y="198.00" width="32.60" height="5.30" fill="url(#Aa198)"/><rect x="175.00" y="203.00" width="32.60" height="5.30" fill="url(#Aa203)"/><rect x="175.00" y="208.00" width="32.60" height="5.30" fill="url(#Aa208)"/><rect x="175.00" y="213.00" width="32.60" height="5.30" fill="url(#Aa213)"/><rect x="175.00" y="218.00" width="32.60" height="5.30" fill="url(#Aa218)"/><rect x="175.00" y="223.00" width="32.60" height="5.30" fill="url(#Aa223)"/><rect x="175.00" y="228.00" width="32.60" height="5.30" fill="url(#Aa228)"/><rect x="175.00" y="233.00" width="32.60" height="5.30" fill="url(#Aa233)"/><rect x="175.00" y="238.00" width="32.60" height="5.30" fill="url(#Aa238)"/><rect x="175.00" y="243.00" width="32.60" height="5.30" fill="url(#Aa243)"/><rect x="175.00" y="248.00" width="32.60" height="5.30" fill="url(#Aa248)"/><rect x="175.00" y="253.00" width="32.60" height="5.30" fill="url(#Aa253)"/><rect x="175.00" y="258.00" width="32.60" height="5.30" fill="url(#Aa258)"/><rect x="175.00" y="263.00" width="32.60" height="5.30" fill="url(#Aa263)"/><rect x="175.00" y="268.00" width="32.60" height="5.30" fill="url(#Aa268)"/><rect x="175.00" y="273.00" width="32.60" height="5.30" fill="url(#Aa273)"/><rect x="175.00" y="278.00" width="32.60" height="5.30" fill="url(#Aa278)"/><rect x="175.00" y="283.00" width="32.60" height="5.30" fill="url(#Aa283)"/><rect x="175.00" y="288.00" width="32.60" height="5.30" fill="url(#Aa288)"/></g>
<rect x="175.00" y="83" width="32.60" height="210" fill="none" stroke="#a8a8a8" stroke-width="0.7"/>
<text x="228.70" y="42.70" font-size="8.89" text-anchor="middle">rep 3</text>
<rect x="210.00" y="45.6" width="32.40" height="30" fill="#fff" stroke="#9a9a9a" stroke-width="0.6"/>
<line x1="210.00" y1="48.50" x2="211.20" y2="48.50" stroke="#888" stroke-width="0.5" />
<line x1="210.00" y1="66.20" x2="211.20" y2="66.20" stroke="#888" stroke-width="0.5" />
<line x1="226.20" y1="75.60" x2="226.20" y2="74.40" stroke="#888" stroke-width="0.5" />
<path d="M210.50,73.72 L211.02,73.70 L211.55,73.69 L212.07,73.68 L212.59,73.67 L213.12,73.65 L213.64,73.63 L214.16,73.61 L214.69,73.58 L215.21,73.56 L215.73,73.53 L216.26,73.49 L216.78,73.46 L217.30,73.41 L217.83,73.37 L218.35,73.31 L218.87,73.25 L219.40,73.19 L219.92,73.11 L220.44,73.02 L220.97,72.93 L221.49,72.82 L222.01,72.70 L222.54,72.56 L223.06,72.41 L223.58,72.24 L224.11,72.04 L224.63,71.83 L225.10,70.40 L225.50,64.40 L225.75,58.60 Q226.20,57.00 226.65,58.60 L226.90,64.40 L227.30,70.40 L227.77,71.83 L228.29,72.04 L228.82,72.24 L229.34,72.41 L229.86,72.56 L230.39,72.70 L230.91,72.82 L231.43,72.93 L231.96,73.02 L232.48,73.11 L233.00,73.19 L233.53,73.25 L234.05,73.31 L234.57,73.37 L235.10,73.41 L235.62,73.46 L236.14,73.49 L236.67,73.53 L237.19,73.56 L237.71,73.58 L238.24,73.61 L238.76,73.63 L239.28,73.65 L239.81,73.67 L240.33,73.68 L240.85,73.69 L241.38,73.70 L241.90,73.72" fill="none" stroke="#7f7fd0" stroke-width="0.9" stroke-linejoin="round"/>
<g filter="url(#grain)"><rect x="210.00" y="83.00" width="32.40" height="5.30" fill="url(#Aa83)"/><rect x="210.00" y="88.00" width="32.40" height="5.30" fill="url(#Aa88)"/><rect x="210.00" y="93.00" width="32.40" height="5.30" fill="url(#Aa93)"/><rect x="210.00" y="98.00" width="32.40" height="5.30" fill="url(#Aa98)"/><rect x="210.00" y="103.00" width="32.40" height="5.30" fill="url(#Aa103)"/><rect x="210.00" y="108.00" width="32.40" height="5.30" fill="url(#Aa108)"/><rect x="210.00" y="113.00" width="32.40" height="5.30" fill="url(#Aa113)"/><rect x="210.00" y="118.00" width="32.40" height="5.30" fill="url(#Aa118)"/><rect x="210.00" y="123.00" width="32.40" height="5.30" fill="url(#Aa123)"/><rect x="210.00" y="128.00" width="32.40" height="5.30" fill="url(#Aa128)"/><rect x="210.00" y="133.00" width="32.40" height="5.30" fill="url(#Aa133)"/><rect x="210.00" y="138.00" width="32.40" height="5.30" fill="url(#Aa138)"/><rect x="210.00" y="143.00" width="32.40" height="5.30" fill="url(#Aa143)"/><rect x="210.00" y="148.00" width="32.40" height="5.30" fill="url(#Aa148)"/><rect x="210.00" y="153.00" width="32.40" height="5.30" fill="url(#Aa153)"/><rect x="210.00" y="158.00" width="32.40" height="5.30" fill="url(#Aa158)"/><rect x="210.00" y="163.00" width="32.40" height="5.30" fill="url(#Aa163)"/><rect x="210.00" y="168.00" width="32.40" height="5.30" fill="url(#Aa168)"/><rect x="210.00" y="173.00" width="32.40" height="5.30" fill="url(#Aa173)"/><rect x="210.00" y="178.00" width="32.40" height="5.30" fill="url(#Aa178)"/><rect x="210.00" y="183.00" width="32.40" height="5.30" fill="url(#Aa183)"/><rect x="210.00" y="188.00" width="32.40" height="5.30" fill="url(#Aa188)"/><rect x="210.00" y="193.00" width="32.40" height="5.30" fill="url(#Aa193)"/><rect x="210.00" y="198.00" width="32.40" height="5.30" fill="url(#Aa198)"/><rect x="210.00" y="203.00" width="32.40" height="5.30" fill="url(#Aa203)"/><rect x="210.00" y="208.00" width="32.40" height="5.30" fill="url(#Aa208)"/><rect x="210.00" y="213.00" width="32.40" height="5.30" fill="url(#Aa213)"/><rect x="210.00" y="218.00" width="32.40" height="5.30" fill="url(#Aa218)"/><rect x="210.00" y="223.00" width="32.40" height="5.30" fill="url(#Aa223)"/><rect x="210.00" y="228.00" width="32.40" height="5.30" fill="url(#Aa228)"/><rect x="210.00" y="233.00" width="32.40" height="5.30" fill="url(#Aa233)"/><rect x="210.00" y="238.00" width="32.40" height="5.30" fill="url(#Aa238)"/><rect x="210.00" y="243.00" width="32.40" height="5.30" fill="url(#Aa243)"/><rect x="210.00" y="248.00" width="32.40" height="5.30" fill="url(#Aa248)"/><rect x="210.00" y="253.00" width="32.40" height="5.30" fill="url(#Aa253)"/><rect x="210.00" y="258.00" width="32.40" height="5.30" fill="url(#Aa258)"/><rect x="210.00" y="263.00" width="32.40" height="5.30" fill="url(#Aa263)"/><rect x="210.00" y="268.00" width="32.40" height="5.30" fill="url(#Aa268)"/><rect x="210.00" y="273.00" width="32.40" height="5.30" fill="url(#Aa273)"/><rect x="210.00" y="278.00" width="32.40" height="5.30" fill="url(#Aa278)"/><rect x="210.00" y="283.00" width="32.40" height="5.30" fill="url(#Aa283)"/><rect x="210.00" y="288.00" width="32.40" height="5.30" fill="url(#Aa288)"/></g>
<rect x="210.00" y="83" width="32.40" height="210" fill="none" stroke="#a8a8a8" stroke-width="0.7"/>
<rect x="245.00" y="83.00" width="3.20" height="210.00" fill="url(#cbar)" />
<text x="256.32" y="85.80" font-size="7.0" text-anchor="middle" transform="rotate(-90 256.32 85.80)">0.3</text>
<text x="256.32" y="153.50" font-size="7.0" text-anchor="middle" transform="rotate(-90 256.32 153.50)">0.2</text>
<text x="256.32" y="221.80" font-size="7.0" text-anchor="middle" transform="rotate(-90 256.32 221.80)">0.1</text>
<text x="256.32" y="290.00" font-size="7.0" text-anchor="middle" transform="rotate(-90 256.32 290.00)">0.0</text>
<text x="145.60" y="306.00" font-size="9.11" text-anchor="middle" font-weight="bold" style='font-family:"Liberation Serif", serif'>-10 kb to 10 kb of Lamin A/C binding sites</text>
<text x="320.50" y="26.50" font-size="9.08" text-anchor="middle" font-weight="bold">Lamin B1 - DMSO</text>
<text x="425.50" y="26.50" font-size="9.03" text-anchor="middle" font-weight="bold">Lamin B1 - APH</text>
<line x1="270.60" y1="32.80" x2="373.10" y2="32.80" stroke="#000" stroke-width="1.3" />
<line x1="374.80" y1="32.80" x2="477.80" y2="32.80" stroke="#000" stroke-width="1.3" />
<text x="287.30" y="42.70" font-size="8.89" text-anchor="middle">rep 1</text>
<rect x="271.10" y="45.6" width="32.40" height="30" fill="#fff" stroke="#9a9a9a" stroke-width="0.6"/>
<line x1="271.10" y1="48.50" x2="272.30" y2="48.50" stroke="#888" stroke-width="0.5" />
<line x1="271.10" y1="66.20" x2="272.30" y2="66.20" stroke="#888" stroke-width="0.5" />
<line x1="287.30" y1="75.60" x2="287.30" y2="74.40" stroke="#888" stroke-width="0.5" />
<path d="M271.60,71.84 L272.12,71.83 L272.65,71.82 L273.17,71.81 L273.69,71.79 L274.22,71.78 L274.74,71.76 L275.26,71.73 L275.79,71.71 L276.31,71.68 L276.83,71.64 L277.36,71.60 L277.88,71.55 L278.40,71.49 L278.93,71.43 L279.45,71.35 L279.97,71.26 L280.50,71.16 L281.02,71.04 L281.54,70.90 L282.07,70.74 L282.59,70.55 L283.11,70.33 L283.64,70.08 L284.16,69.79 L284.68,69.44 L285.21,69.05 L285.73,68.58 L286.20,66.10 L286.60,57.30 L286.85,48.70 Q287.30,47.10 287.75,48.70 L288.00,57.30 L288.40,66.10 L288.87,68.58 L289.39,69.05 L289.92,69.44 L290.44,69.79 L290.96,70.08 L291.49,70.33 L292.01,70.55 L292.53,70.74 L293.06,70.90 L293.58,71.04 L294.10,71.16 L294.63,71.26 L295.15,71.35 L295.67,71.43 L296.20,71.49 L296.72,71.55 L297.24,71.60 L297.77,71.64 L298.29,71.68 L298.81,71.71 L299.34,71.73 L299.86,71.76 L300.38,71.78 L300.91,71.79 L301.43,71.81 L301.95,71.82 L302.48,71.83 L303.00,71.84" fill="none" stroke="#7f7fd0" stroke-width="0.9" stroke-linejoin="round"/>
<linearGradient id="Bd83" x1="0" y1="0" x2="1" y2="0"><stop offset="0.000" stop-color="#df6b5b"/><stop offset="0.191" stop-color="#dc6557"/><stop offset="0.330" stop-color="#d75b50"/><stop offset="0.414" stop-color="#d2514a"/><stop offset="0.457" stop-color="#cf4a46"/><stop offset="0.481" stop-color="#98102d"/><stop offset="0.519" stop-color="#98102d"/><stop offset="0.543" stop-color="#cf4a46"/><stop offset="0.586" stop-color="#d2514a"/><stop offset="0.670" stop-color="#d75b50"/><stop offset="0.809" stop-color="#dc6557"/><stop offset="1.000" stop-color="#df6b5b"/></linearGradient>
<linearGradient id="Bd88" x1="0" y1="0" x2="1" y2="0"><stop offset="0.000" stop-color="#e7846f"/><stop offset="0.191" stop-color="#e47d6a"/><stop offset="0.330" stop-color="#df7162"/><stop offset="0.414" stop-color="#db6659"/><stop offset="0.457" stop-color="#d75e54"/><stop offset="0.481" stop-color="#9d132e"/><stop offset="0.519" stop-color="#9d132e"/><stop offset="0.543" stop-color="#d75e54"/><stop offset="0.586" stop-color="#db6659"/><stop offset="0.670" stop-color="#df7162"/><stop offset="0.809" stop-color="#e47d6a"/><stop offset="1.000" stop-color="#e7846f"/></linearGradient>
<linearGradient id="Bd93" x1="0" y1="0" x2="1" y2="0"><stop offset="0.000" stop-color="#ec9580"/><stop offset="0.191" stop-color="#e98e7a"/><stop offset="0.330" stop-color="#e68371"/><stop offset="0.414" stop-color="#e27968"/><stop offset="0.457" stop-color="#e07161"/><stop offset="0.481" stop-color="#a2162f"/><stop offset="0.519" stop-color="#a2162f"/><stop offset="0.543" stop-color="#e07161"/><stop offset="0.586" stop-color="#e27968"/><stop offset="0.670" stop-color="#e68371"/><stop offset="0.809" stop-color="#e98e7a"/><stop offset="1.000" stop-color="#ec9580"/></linearGradient>
<linearGradient id="Bd98" x1="0" y1="0" x2="1" y2="0"><stop offset="0.000" stop-color="#eea490"/><stop offset="0.191" stop-color="#ed9d8a"/><stop offset="0.330" stop-color="#eb9480"/><stop offset="0.414" stop-color="#e98a76"/><stop offset="0.457" stop-color="#e7836f"/><stop offset="0.481" stop-color="#a7182f"/><stop offset="0.519" stop-color="#a7182f"/><stop offset="0.543" stop-color="#e7836f"/><stop offset="0.586" stop-color="#e98a76"/><stop offset="0.670" stop-color="#eb9480"/><stop offset="0.809" stop-color="#ed9d8a"/><stop offset="1.000" stop-color="#eea490"/></linearGradient>
<linearGradient id="Bd103" x1="0" y1="0" x2="1" y2="0"><stop offset="0.000" stop-color="#efb1a0"/><stop offset="0.191" stop-color="#eeab99"/><stop offset="0.330" stop-color="#eca08e"/><stop offset="0.414" stop-color="#ea9583"/><stop offset="0.457" stop-color="#e98d7a"/><stop offset="0.481" stop-color="#ab1b30"/><stop offset="0.519" stop-color="#ab1b30"/><stop offset="0.543" stop-color="#e98d7a"/><stop offset="0.586" stop-color="#ea9583"/><stop offset="0.670" stop-color="#eca08e"/><stop offset="0.809" stop-color="#eeab99"/><stop offset="1.000" stop-color="#efb1a0"/></linearGradient>
<linearGradient id="Bd108" x1="0" y1="0" x2="1" y2="0"><stop offset="0.000" stop-color="#f1bdaf"/><stop offset="0.191" stop-color="#f0b7a8"/><stop offset="0.330" stop-color="#eeac9b"/><stop offset="0.414" stop-color="#eca08f"/><stop offset="0.457" stop-color="#eb9886"/><stop offset="0.481" stop-color="#b01e31"/><stop offset="0.519" stop-color="#b01e31"/><stop offset="0.543" stop-color="#eb9886"/><stop offset="0.586" stop-color="#eca08f"/><stop offset="0.670" stop-color="#eeac9b"/><stop offset="0.809" stop-color="#f0b7a8"/><stop offset="1.000" stop-color="#f1bdaf"/></linearGradient>
<linearGradient id="Bd113" x1="0" y1="0" x2="1" y2="0"><stop offset="0.000" stop-color="#f2cabe"/><stop offset="0.191" stop-color="#f1c3b6"/><stop offset="0.330" stop-color="#f0b7a9"/><stop offset="0.414" stop-color="#eeab9b"/><stop offset="0.457" stop-color="#eda291"/><stop offset="0.481" stop-color="#b52131"/><stop offset="0.519" stop-color="#b52131"/><stop offset="0.543" stop-color="#eda291"/><stop offset="0.586" stop-color="#eeab9b"/><stop offset="0.670" stop-color="#f0b7a9"/><stop offset="0.809" stop-color="#f1c3b6"/><stop offset="1.000" stop-color="#f2cabe"/></linearGradient>
<linearGradient id="Bd118" x1="0" y1="0" x2="1" y2="0"><stop offset="0.000" stop-color="#f2d4cc"/><stop offset="0.191" stop-color="#f2cdc3"/><stop offset="0.330" stop-color="#f1c2b6"/><stop offset="0.414" stop-color="#efb5a7"/><stop offset="0.457" stop-color="#efac9c"/><stop offset="0.481" stop-color="#b92332"/><stop offset="0.519" stop-color="#b92332"/><stop offset="0.543" stop-color="#efac9c"/><stop offset="0.586" stop-color="#efb5a7"/><stop offset="0.670" stop-color="#f1c2b6"/><stop offset="0.809" stop-color="#f2cdc3"/><stop offset="1.000" stop-color="#f2d4cc"/></linearGradient>
<linearGradient id="Bd123" x1="0" y1="0" x2="1" y2="0"><stop offset="0.000" stop-color="#f2ddd8"/><stop offset="0.191" stop-color="#f1d7d0"/><stop offset="0.330" stop-color="#f1cbc1"/><stop offset="0.414" stop-color="#f0beb2"/><stop offset="0.457" stop-color="#f0b5a7"/><stop offset="0.481" stop-color="#bb2633"/><stop offset="0.519" stop-color="#bb2633"/><stop offset="0.543" stop-color="#f0b5a7"/><stop offset="0.586" stop-color="#f0beb2"/><stop offset="0.670" stop-color="#f1cbc1"/><stop offset="0.809" stop-color="#f1d7d0"/><stop offset="1.000" stop-color="#f2ddd8"/></linearGradient>
<linearGradient id="Bd128" x1="0" y1="0" x2="1" y2="0"><stop offset="0.000" stop-color="#f1e6e4"/><stop offset="0.191" stop-color="#f1dfdb"/><stop offset="0.330" stop-color="#f1d3cd"/><stop offset="0.414" stop-color="#f1c7bd"/><stop offset="0.457" stop-color="#f1beb1"/><stop offset="0.481" stop-color="#bd2834"/><stop offset="0.519" stop-color="#bd2834"/><stop offset="0.543" stop-color="#f1beb1"/><stop offset="0.586" stop-color="#f1c7bd"/><stop offset="0.670" stop-color="#f1d3cd"/><stop offset="0.809" stop-color="#f1dfdb"/><stop offset="1.000" stop-color="#f1e6e4"/></linearGradient>
<linearGradient id="Bd133" x1="0" y1="0" x2="1" y2="0"><stop offset="0.000" stop-color="#efe8e8"/><stop offset="0.191" stop-color="#efe3e1"/><stop offset="0.330" stop-color="#f0d9d4"/><stop offset="0.414" stop-color="#f1cec5"/><stop offset="0.457" stop-color="#f1c6ba"/><stop offset="0.481" stop-color="#bf2b35"/><stop offset="0.519" stop-color="#bf2b35"/><stop offset="0.543" stop-color="#f1c6ba"/><stop offset="0.586" stop-color="#f1cec5"/><stop offset="0.670" stop-color="#f0d9d4"/><stop offset="0.809" stop-color="#efe3e1"/><stop offset="1.000" stop-color="#efe8e8"/></linearGradient>
<linearGradient id="Bd138" x1="0" y1="0" x2="1" y2="0"><stop offset="0.000" stop-color="#edebec"/><stop offset="0.191" stop-color="#eee6e6"/><stop offset="0.330" stop-color="#efdeda"/><stop offset="0.414" stop-color="#f1d4cd"/><stop offset="0.457" stop-color="#f2cdc3"/><stop offset="0.481" stop-color="#c22d35"/><stop offset="0.519" stop-color="#c22d35"/><stop offset="0.543" stop-color="#f2cdc3"/><stop offset="0.586" stop-color="#f1d4cd"/><stop offset="0.670" stop-color="#efdeda"/><stop offset="0.809" stop-color="#eee6e6"/><stop offset="1.000" stop-color="#edebec"/></linearGradient>
<linearGradient id="Bd143" x1="0" y1="0" x2="1" y2="0"><stop offset="0.000" stop-color="#ebedf0"/><stop offset="0.191" stop-color="#ece9ea"/><stop offset="0.330" stop-color="#eee2e0"/><stop offset="0.414" stop-color="#f0d9d3"/><stop offset="0.457" stop-color="#f2d3ca"/><stop offset="0.481" stop-color="#c43036"/><stop offset="0.519" stop-color="#c43036"/><stop offset="0.543" stop-color="#f2d3ca"/><stop offset="0.586" stop-color="#f0d9d3"/><stop offset="0.670" stop-color="#eee2e0"/><stop offset="0.809" stop-color="#ece9ea"/><stop offset="1.000" stop-color="#ebedf0"/></linearGradient>
<linearGradient id="Bd148" x1="0" y1="0" x2="1" y2="0"><stop offset="0.000" stop-color="#e8ecf0"/><stop offset="0.191" stop-color="#e9e9ec"/><stop offset="0.330" stop-color="#ece3e3"/><stop offset="0.414" stop-color="#efddd9"/><stop offset="0.457" stop-color="#f2d8d1"/><stop offset="0.481" stop-color="#c63237"/><stop offset="0.519" stop-color="#c63237"/><stop offset="0.543" stop-color="#f2d8d1"/><stop offset="0.586" stop-color="#efddd9"/><stop offset="0.670" stop-color="#ece3e3"/><stop offset="0.809" stop-color="#e9e9ec"/><stop offset="1.000" stop-color="#e8ecf0"/></linearGradient>
<linearGradient id="Bd153" x1="0" y1="0" x2="1" y2="0"><stop offset="0.000" stop-color="#e4eaf1"/><stop offset="0.191" stop-color="#e6e9ed"/><stop offset="0.330" stop-color="#eae5e6"/><stop offset="0.414" stop-color="#eee1de"/><stop offset="0.457" stop-color="#f1ded8"/><stop offset="0.481" stop-color="#c83538"/><stop offset="0.519" stop-color="#c83538"/><stop offset="0.543" stop-color="#f1ded8"/><stop offset="0.586" stop-color="#eee1de"/><stop offset="0.670" stop-color="#eae5e6"/><stop offset="0.809" stop-color="#e6e9ed"/><stop offset="1.000" stop-color="#e4eaf1"/></linearGradient>
<linearGradient id="Bd158" x1="0" y1="0" x2="1" y2="0"><stop offset="0.000" stop-color="#e0e9f1"/><stop offset="0.191" stop-color="#e3e8ee"/><stop offset="0.330" stop-color="#e7e6e9"/><stop offset="0.414" stop-color="#ede4e3"/><stop offset="0.457" stop-color="#f1e2de"/><stop offset="0.481" stop-color="#ca3739"/><stop offset="0.519" stop-color="#ca3739"/><stop offset="0.543" stop-color="#f1e2de"/><stop offset="0.586" stop-color="#ede4e3"/><stop offset="0.670" stop-color="#e7e6e9"/><stop offset="0.809" stop-color="#e3e8ee"/><stop offset="1.000" stop-color="#e0e9f1"/></linearGradient>
<linearGradient id="Bd163" x1="0" y1="0" x2="1" y2="0"><stop offset="0.000" stop-color="#dde8f1"/><stop offset="0.191" stop-color="#dfe7ef"/><stop offset="0.330" stop-color="#e5e6ea"/><stop offset="0.414" stop-color="#ebe5e5"/><stop offset="0.457" stop-color="#f0e4e1"/><stop offset="0.481" stop-color="#cc3a3a"/><stop offset="0.519" stop-color="#cc3a3a"/><stop offset="0.543" stop-color="#f0e4e1"/><stop offset="0.586" stop-color="#ebe5e5"/><stop offset="0.670" stop-color="#e5e6ea"/><stop offset="0.809" stop-color="#dfe7ef"/><stop offset="1.000" stop-color="#dde8f1"/></linearGradient>
<linearGradient id="Bd168" x1="0" y1="0" x2="1" y2="0"><stop offset="0.000" stop-color="#d9e6f0"/><stop offset="0.191" stop-color="#dce6ef"/><stop offset="0.330" stop-color="#e2e6eb"/><stop offset="0.414" stop-color="#eae6e8"/><stop offset="0.457" stop-color="#efe6e5"/><stop offset="0.481" stop-color="#ce3c3a"/><stop offset="0.519" stop-color="#ce3c3a"/><stop offset="0.543" stop-color="#efe6e5"/><stop offset="0.586" stop-color="#eae6e8"/><stop offset="0.670" stop-color="#e2e6eb"/><stop offset="0.809" stop-color="#dce6ef"/><stop offset="1.000" stop-color="#d9e6f0"/></linearGradient>
<linearGradient id="Bd173" x1="0" y1="0" x2="1" y2="0"><stop offset="0.000" stop-color="#d5e4f0"/><stop offset="0.191" stop-color="#d8e4ef"/><stop offset="0.330" stop-color="#dfe5ec"/><stop offset="0.414" stop-color="#e8e7ea"/><stop offset="0.457" stop-color="#efe8e8"/><stop offset="0.481" stop-color="#d03f3b"/><stop offset="0.519" stop-color="#d03f3b"/><stop offset="0.543" stop-color="#efe8e8"/><stop offset="0.586" stop-color="#e8e7ea"/><stop offset="0.670" stop-color="#dfe5ec"/><stop offset="0.809" stop-color="#d8e4ef"/><stop offset="1.000" stop-color="#d5e4f0"/></linearGradient>
<linearGradient id="Bd178" x1="0" y1="0" x2="1" y2="0"><stop offset="0.000" stop-color="#d1e2ef"/><stop offset="0.191" stop-color="#d5e3ee"/><stop offset="0.330" stop-color="#dce5ed"/><stop offset="0.414" stop-color="#e6e8ec"/><stop offset="0.457" stop-color="#eeeaeb"/><stop offset="0.481" stop-color="#d2413c"/><stop offset="0.519" stop-color="#d2413c"/><stop offset="0.543" stop-color="#eeeaeb"/><stop offset="0.586" stop-color="#e6e8ec"/><stop offset="0.670" stop-color="#dce5ed"/><stop offset="0.809" stop-color="#d5e3ee"/><stop offset="1.000" stop-color="#d1e2ef"/></linearGradient>
<linearGradient id="Bd183" x1="0" y1="0" x2="1" y2="0"><stop offset="0.000" stop-color="#cde0ee"/><stop offset="0.191" stop-color="#d1e1ee"/><stop offset="0.330" stop-color="#d9e4ee"/><stop offset="0.414" stop-color="#e4e8ee"/><stop offset="0.457" stop-color="#edecee"/><stop offset="0.481" stop-color="#d4453f"/><stop offset="0.519" stop-color="#d4453f"/><stop offset="0.543" stop-color="#edecee"/><stop offset="0.586" stop-color="#e4e8ee"/><stop offset="0.670" stop-color="#d9e4ee"/><stop offset="0.809" stop-color="#d1e1ee"/><stop offset="1.000" stop-color="#cde0ee"/></linearGradient>
<linearGradient id="Bd188" x1="0" y1="0" x2="1" y2="0"><stop offset="0.000" stop-color="#c9dded"/><stop offset="0.191" stop-color="#cddfed"/><stop offset="0.330" stop-color="#d6e3ee"/><stop offset="0.414" stop-color="#e2e7ee"/><stop offset="0.457" stop-color="#ebebee"/><stop offset="0.481" stop-color="#d64941"/><stop offset="0.519" stop-color="#d64941"/><stop offset="0.543" stop-color="#ebebee"/><stop offset="0.586" stop-color="#e2e7ee"/><stop offset="0.670" stop-color="#d6e3ee"/><stop offset="0.809" stop-color="#cddfed"/><stop offset="1.000" stop-color="#c9dded"/></linearGradient>
<linearGradient id="Bd193" x1="0" y1="0" x2="1" y2="0"><stop offset="0.000" stop-color="#c4daec"/><stop offset="0.191" stop-color="#c8dcec"/><stop offset="0.330" stop-color="#d2e1ed"/><stop offset="0.414" stop-color="#dfe6ee"/><stop offset="0.457" stop-color="#e9ebef"/><stop offset="0.481" stop-color="#d74d44"/><stop offset="0.519" stop-color="#d74d44"/><stop offset="0.543" stop-color="#e9ebef"/><stop offset="0.586" stop-color="#dfe6ee"/><stop offset="0.670" stop-color="#d2e1ed"/><stop offset="0.809" stop-color="#c8dcec"/><stop offset="1.000" stop-color="#c4daec"/></linearGradient>
<linearGradient id="Bd198" x1="0" y1="0" x2="1" y2="0"><stop offset="0.000" stop-color="#bfd7ea"/><stop offset="0.191" stop-color="#c3d9eb"/><stop offset="0.330" stop-color="#cedeec"/><stop offset="0.414" stop-color="#dce5ee"/><stop offset="0.457" stop-color="#e7eaef"/><stop offset="0.481" stop-color="#d95046"/><stop offset="0.519" stop-color="#d95046"/><stop offset="0.543" stop-color="#e7eaef"/><stop offset="0.586" stop-color="#dce5ee"/><stop offset="0.670" stop-color="#cedeec"/><stop offset="0.809" stop-color="#c3d9eb"/><stop offset="1.000" stop-color="#bfd7ea"/></linearGradient>
<linearGradient id="Bd203" x1="0" y1="0" x2="1" y2="0"><stop offset="0.000" stop-color="#bad4e9"/><stop offset="0.191" stop-color="#bed7ea"/><stop offset="0.330" stop-color="#c9dceb"/><stop offset="0.414" stop-color="#d9e4ee"/><stop offset="0.457" stop-color="#e5eaf0"/><stop offset="0.481" stop-color="#da5449"/><stop offset="0.519" stop-color="#da5449"/><stop offset="0.543" stop-color="#e5eaf0"/><stop offset="0.586" stop-color="#d9e4ee"/><stop offset="0.670" stop-color="#c9dceb"/><stop offset="0.809" stop-color="#bed7ea"/><stop offset="1.000" stop-color="#bad4e9"/></linearGradient>
<linearGradient id="Bd208" x1="0" y1="0" x2="1" y2="0"><stop offset="0.000" stop-color="#b5d1e8"/><stop offset="0.191" stop-color="#b9d4e9"/><stop offset="0.330" stop-color="#c5daeb"/><stop offset="0.414" stop-color="#d6e2ed"/><stop offset="0.457" stop-color="#e4e9f0"/><stop offset="0.481" stop-color="#dc584b"/><stop offset="0.519" stop-color="#dc584b"/><stop offset="0.543" stop-color="#e4e9f0"/><stop offset="0.586" stop-color="#d6e2ed"/><stop offset="0.670" stop-color="#c5daeb"/><stop offset="0.809" stop-color="#b9d4e9"/><stop offset="1.000" stop-color="#b5d1e8"/></linearGradient>
<linearGradient id="Bd213" x1="0" y1="0" x2="1" y2="0"><stop offset="0.000" stop-color="#b0cee6"/><stop offset="0.191" stop-color="#b4d1e7"/><stop offset="0.330" stop-color="#c1d7ea"/><stop offset="0.414" stop-color="#d2e1ed"/><stop offset="0.457" stop-color="#e2e9f0"/><stop offset="0.481" stop-color="#de5c4e"/><stop offset="0.519" stop-color="#de5c4e"/><stop offset="0.543" stop-color="#e2e9f0"/><stop offset="0.586" stop-color="#d2e1ed"/><stop offset="0.670" stop-color="#c1d7ea"/><stop offset="0.809" stop-color="#b4d1e7"/><stop offset="1.000" stop-color="#b0cee6"/></linearGradient>
<linearGradient id="Bd218" x1="0" y1="0" x2="1" y2="0"><stop offset="0.000" stop-color="#abcbe5"/><stop offset="0.191" stop-color="#afcee6"/><stop offset="0.330" stop-color="#bcd5e9"/><stop offset="0.414" stop-color="#cfdfed"/><stop offset="0.457" stop-color="#e0e8f0"/><stop offset="0.481" stop-color="#e05f50"/><stop offset="0.519" stop-color="#e05f50"/><stop offset="0.543" stop-color="#e0e8f0"/><stop offset="0.586" stop-color="#cfdfed"/><stop offset="0.670" stop-color="#bcd5e9"/><stop offset="0.809" stop-color="#afcee6"/><stop offset="1.000" stop-color="#abcbe5"/></linearGradient>
<linearGradient id="Bd223" x1="0" y1="0" x2="1" y2="0"><stop offset="0.000" stop-color="#a4c7e3"/><stop offset="0.191" stop-color="#a9cae4"/><stop offset="0.330" stop-color="#b7d1e7"/><stop offset="0.414" stop-color="#ccddec"/><stop offset="0.457" stop-color="#dee7f0"/><stop offset="0.481" stop-color="#e16353"/><stop offset="0.519" stop-color="#e16353"/><stop offset="0.543" stop-color="#dee7f0"/><stop offset="0.586" stop-color="#ccddec"/><stop offset="0.670" stop-color="#b7d1e7"/><stop offset="0.809" stop-color="#a9cae4"/><stop offset="1.000" stop-color="#a4c7e3"/></linearGradient>
<linearGradient id="Bd228" x1="0" y1="0" x2="1" y2="0"><stop offset="0.000" stop-color="#9dc3e0"/><stop offset="0.191" stop-color="#a2c6e1"/><stop offset="0.330" stop-color="#b1cee5"/><stop offset="0.414" stop-color="#c8dbea"/><stop offset="0.457" stop-color="#dde6ef"/><stop offset="0.481" stop-color="#e36755"/><stop offset="0.519" stop-color="#e36755"/><stop offset="0.543" stop-color="#dde6ef"/><stop offset="0.586" stop-color="#c8dbea"/><stop offset="0.670" stop-color="#b1cee5"/><stop offset="0.809" stop-color="#a2c6e1"/><stop offset="1.000" stop-color="#9dc3e0"/></linearGradient>
<linearGradient id="Bd233" x1="0" y1="0" x2="1" y2="0"><stop offset="0.000" stop-color="#96bfde"/><stop offset="0.191" stop-color="#9bc1df"/><stop offset="0.330" stop-color="#abcae3"/><stop offset="0.414" stop-color="#c4d8e9"/><stop offset="0.457" stop-color="#dbe5ee"/><stop offset="0.481" stop-color="#e46b58"/><stop offset="0.519" stop-color="#e46b58"/><stop offset="0.543" stop-color="#dbe5ee"/><stop offset="0.586" stop-color="#c4d8e9"/><stop offset="0.670" stop-color="#abcae3"/><stop offset="0.809" stop-color="#9bc1df"/><stop offset="1.000" stop-color="#96bfde"/></linearGradient>
<linearGradient id="Bd238" x1="0" y1="0" x2="1" y2="0"><stop offset="0.000" stop-color="#90badc"/><stop offset="0.191" stop-color="#95bddd"/><stop offset="0.330" stop-color="#a5c7e1"/><stop offset="0.414" stop-color="#c0d6e7"/><stop offset="0.457" stop-color="#d9e4ed"/><stop offset="0.481" stop-color="#e66f5b"/><stop offset="0.519" stop-color="#e66f5b"/><stop offset="0.543" stop-color="#d9e4ed"/><stop offset="0.586" stop-color="#c0d6e7"/><stop offset="0.670" stop-color="#a5c7e1"/><stop offset="0.809" stop-color="#95bddd"/><stop offset="1.000" stop-color="#90badc"/></linearGradient>
<linearGradient id="Bd243" x1="0" y1="0" x2="1" y2="0"><stop offset="0.000" stop-color="#89b6d9"/><stop offset="0.191" stop-color="#8eb9db"/><stop offset="0.330" stop-color="#9fc3df"/><stop offset="0.414" stop-color="#bcd3e6"/><stop offset="0.457" stop-color="#d7e3ed"/><stop offset="0.481" stop-color="#e77561"/><stop offset="0.519" stop-color="#e77561"/><stop offset="0.543" stop-color="#d7e3ed"/><stop offset="0.586" stop-color="#bcd3e6"/><stop offset="0.670" stop-color="#9fc3df"/><stop offset="0.809" stop-color="#8eb9db"/><stop offset="1.000" stop-color="#89b6d9"/></linearGradient>
<linearGradient id="Bd248" x1="0" y1="0" x2="1" y2="0"><stop offset="0.000" stop-color="#82b2d7"/><stop offset="0.191" stop-color="#87b5d8"/><stop offset="0.330" stop-color="#98bfdd"/><stop offset="0.414" stop-color="#b7d0e4"/><stop offset="0.457" stop-color="#d6e2ec"/><stop offset="0.481" stop-color="#e97b67"/><stop offset="0.519" stop-color="#e97b67"/><stop offset="0.543" stop-color="#d6e2ec"/><stop offset="0.586" stop-color="#b7d0e4"/><stop offset="0.670" stop-color="#98bfdd"/><stop offset="0.809" stop-color="#87b5d8"/><stop offset="1.000" stop-color="#82b2d7"/></linearGradient>
<linearGradient id="Bd253" x1="0" y1="0" x2="1" y2="0"><stop offset="0.000" stop-color="#7badd5"/><stop offset="0.191" stop-color="#80b0d6"/><stop offset="0.330" stop-color="#92bada"/><stop offset="0.414" stop-color="#b3cde3"/><stop offset="0.457" stop-color="#d3e0eb"/><stop offset="0.481" stop-color="#ea816d"/><stop offset="0.519" stop-color="#ea816d"/><stop offset="0.543" stop-color="#d3e0eb"/><stop offset="0.586" stop-color="#b3cde3"/><stop offset="0.670" stop-color="#92bada"/><stop offset="0.809" stop-color="#80b0d6"/><stop offset="1.000" stop-color="#7badd5"/></linearGradient>
<linearGradient id="Bd258" x1="0" y1="0" x2="1" y2="0"><stop offset="0.000" stop-color="#74a9d2"/><stop offset="0.191" stop-color="#78abd3"/><stop offset="0.330" stop-color="#8bb6d8"/><stop offset="0.414" stop-color="#aecae1"/><stop offset="0.457" stop-color="#d1dfea"/><stop offset="0.481" stop-color="#eb8874"/><stop offset="0.519" stop-color="#eb8874"/><stop offset="0.543" stop-color="#d1dfea"/><stop offset="0.586" stop-color="#aecae1"/><stop offset="0.670" stop-color="#8bb6d8"/><stop offset="0.809" stop-color="#78abd3"/><stop offset="1.000" stop-color="#74a9d2"/></linearGradient>
<linearGradient id="Bd263" x1="0" y1="0" x2="1" y2="0"><stop offset="0.000" stop-color="#6da4d0"/><stop offset="0.191" stop-color="#71a6d1"/><stop offset="0.330" stop-color="#83b1d5"/><stop offset="0.414" stop-color="#a8c7df"/><stop offset="0.457" stop-color="#cedde9"/><stop offset="0.481" stop-color="#ec8e7a"/><stop offset="0.519" stop-color="#ec8e7a"/><stop offset="0.543" stop-color="#cedde9"/><stop offset="0.586" stop-color="#a8c7df"/><stop offset="0.670" stop-color="#83b1d5"/><stop offset="0.809" stop-color="#71a6d1"/><stop offset="1.000" stop-color="#6da4d0"/></linearGradient>
<linearGradient id="Bd268" x1="0" y1="0" x2="1" y2="0"><stop offset="0.000" stop-color="#669fcd"/><stop offset="0.191" stop-color="#6aa2ce"/><stop offset="0.330" stop-color="#7cacd3"/><stop offset="0.414" stop-color="#a2c3dd"/><stop offset="0.457" stop-color="#ccdbe8"/><stop offset="0.481" stop-color="#ee9480"/><stop offset="0.519" stop-color="#ee9480"/><stop offset="0.543" stop-color="#ccdbe8"/><stop offset="0.586" stop-color="#a2c3dd"/><stop offset="0.670" stop-color="#7cacd3"/><stop offset="0.809" stop-color="#6aa2ce"/><stop offset="1.000" stop-color="#669fcd"/></linearGradient>
<linearGradient id="Bd273" x1="0" y1="0" x2="1" y2="0"><stop offset="0.000" stop-color="#5e9acb"/><stop offset="0.191" stop-color="#629ccc"/><stop offset="0.330" stop-color="#74a7d0"/><stop offset="0.414" stop-color="#9cbfdb"/><stop offset="0.457" stop-color="#c9d9e7"/><stop offset="0.481" stop-color="#ef9a86"/><stop offset="0.519" stop-color="#ef9a86"/><stop offset="0.543" stop-color="#c9d9e7"/><stop offset="0.586" stop-color="#9cbfdb"/><stop offset="0.670" stop-color="#74a7d0"/><stop offset="0.809" stop-color="#629ccc"/><stop offset="1.000" stop-color="#5e9acb"/></linearGradient>
<linearGradient id="Bd278" x1="0" y1="0" x2="1" y2="0"><stop offset="0.000" stop-color="#5592c7"/><stop offset="0.191" stop-color="#5894c8"/><stop offset="0.330" stop-color="#6a9fcd"/><stop offset="0.414" stop-color="#94b9d8"/><stop offset="0.457" stop-color="#c5d6e5"/><stop offset="0.481" stop-color="#f0a28e"/><stop offset="0.519" stop-color="#f0a28e"/><stop offset="0.543" stop-color="#c5d6e5"/><stop offset="0.586" stop-color="#94b9d8"/><stop offset="0.670" stop-color="#6a9fcd"/><stop offset="0.809" stop-color="#5894c8"/><stop offset="1.000" stop-color="#5592c7"/></linearGradient>
<linearGradient id="Bd283" x1="0" y1="0" x2="1" y2="0"><stop offset="0.000" stop-color="#4b8ac3"/><stop offset="0.191" stop-color="#4e8bc4"/><stop offset="0.330" stop-color="#5f96c9"/><stop offset="0.414" stop-color="#8cb2d5"/><stop offset="0.457" stop-color="#c0d3e3"/><stop offset="0.481" stop-color="#f2b19f"/><stop offset="0.519" stop-color="#f2b19f"/><stop offset="0.543" stop-color="#c0d3e3"/><stop offset="0.586" stop-color="#8cb2d5"/><stop offset="0.670" stop-color="#5f96c9"/><stop offset="0.809" stop-color="#4e8bc4"/><stop offset="1.000" stop-color="#4b8ac3"/></linearGradient>
<linearGradient id="Bd288" x1="0" y1="0" x2="1" y2="0"><stop offset="0.000" stop-color="#4181c0"/><stop offset="0.191" stop-color="#4483c1"/><stop offset="0.330" stop-color="#558ec5"/><stop offset="0.414" stop-color="#83abd2"/><stop offset="0.457" stop-color="#bccfe2"/><stop offset="0.481" stop-color="#f3c0b0"/><stop offset="0.519" stop-color="#f3c0b0"/><stop offset="0.543" stop-color="#bccfe2"/><stop offset="0.586" stop-color="#83abd2"/><stop offset="0.670" stop-color="#558ec5"/><stop offset="0.809" stop-color="#4483c1"/><stop offset="1.000" stop-color="#4181c0"/></linearGradient>
<g filter="url(#grain)"><rect x="271.10" y="83.00" width="32.40" height="5.30" fill="url(#Bd83)"/><rect x="271.10" y="88.00" width="32.40" height="5.30" fill="url(#Bd88)"/><rect x="271.10" y="93.00" width="32.40" height="5.30" fill="url(#Bd93)"/><rect x="271.10" y="98.00" width="32.40" height="5.30" fill="url(#Bd98)"/><rect x="271.10" y="103.00" width="32.40" height="5.30" fill="url(#Bd103)"/><rect x="271.10" y="108.00" width="32.40" height="5.30" fill="url(#Bd108)"/><rect x="271.10" y="113.00" width="32.40" height="5.30" fill="url(#Bd113)"/><rect x="271.10" y="118.00" width="32.40" height="5.30" fill="url(#Bd118)"/><rect x="271.10" y="123.00" width="32.40" height="5.30" fill="url(#Bd123)"/><rect x="271.10" y="128.00" width="32.40" height="5.30" fill="url(#Bd128)"/><rect x="271.10" y="133.00" width="32.40" height="5.30" fill="url(#Bd133)"/><rect x="271.10" y="138.00" width="32.40" height="5.30" fill="url(#Bd138)"/><rect x="271.10" y="143.00" width="32.40" height="5.30" fill="url(#Bd143)"/><rect x="271.10" y="148.00" width="32.40" height="5.30" fill="url(#Bd148)"/><rect x="271.10" y="153.00" width="32.40" height="5.30" fill="url(#Bd153)"/><rect x="271.10" y="158.00" width="32.40" height="5.30" fill="url(#Bd158)"/><rect x="271.10" y="163.00" width="32.40" height="5.30" fill="url(#Bd163)"/><rect x="271.10" y="168.00" width="32.40" height="5.30" fill="url(#Bd168)"/><rect x="271.10" y="173.00" width="32.40" height="5.30" fill="url(#Bd173)"/><rect x="271.10" y="178.00" width="32.40" height="5.30" fill="url(#Bd178)"/><rect x="271.10" y="183.00" width="32.40" height="5.30" fill="url(#Bd183)"/><rect x="271.10" y="188.00" width="32.40" height="5.30" fill="url(#Bd188)"/><rect x="271.10" y="193.00" width="32.40" height="5.30" fill="url(#Bd193)"/><rect x="271.10" y="198.00" width="32.40" height="5.30" fill="url(#Bd198)"/><rect x="271.10" y="203.00" width="32.40" height="5.30" fill="url(#Bd203)"/><rect x="271.10" y="208.00" width="32.40" height="5.30" fill="url(#Bd208)"/><rect x="271.10" y="213.00" width="32.40" height="5.30" fill="url(#Bd213)"/><rect x="271.10" y="218.00" width="32.40" height="5.30" fill="url(#Bd218)"/><rect x="271.10" y="223.00" width="32.40" height="5.30" fill="url(#Bd223)"/><rect x="271.10" y="228.00" width="32.40" height="5.30" fill="url(#Bd228)"/><rect x="271.10" y="233.00" width="32.40" height="5.30" fill="url(#Bd233)"/><rect x="271.10" y="238.00" width="32.40" height="5.30" fill="url(#Bd238)"/><rect x="271.10" y="243.00" width="32.40" height="5.30" fill="url(#Bd243)"/><rect x="271.10" y="248.00" width="32.40" height="5.30" fill="url(#Bd248)"/><rect x="271.10" y="253.00" width="32.40" height="5.30" fill="url(#Bd253)"/><rect x="271.10" y="258.00" width="32.40" height="5.30" fill="url(#Bd258)"/><rect x="271.10" y="263.00" width="32.40" height="5.30" fill="url(#Bd263)"/><rect x="271.10" y="268.00" width="32.40" height="5.30" fill="url(#Bd268)"/><rect x="271.10" y="273.00" width="32.40" height="5.30" fill="url(#Bd273)"/><rect x="271.10" y="278.00" width="32.40" height="5.30" fill="url(#Bd278)"/><rect x="271.10" y="283.00" width="32.40" height="5.30" fill="url(#Bd283)"/><rect x="271.10" y="288.00" width="32.40" height="5.30" fill="url(#Bd288)"/></g>
<rect x="271.10" y="83" width="32.40" height="210" fill="none" stroke="#a8a8a8" stroke-width="0.7"/>
<text x="321.80" y="42.70" font-size="8.89" text-anchor="middle">rep 2</text>
<rect x="305.70" y="45.6" width="32.20" height="30" fill="#fff" stroke="#9a9a9a" stroke-width="0.6"/>
<line x1="305.70" y1="48.50" x2="306.90" y2="48.50" stroke="#888" stroke-width="0.5" />
<line x1="305.70" y1="66.20" x2="306.90" y2="66.20" stroke="#888" stroke-width="0.5" />
<line x1="321.80" y1="75.60" x2="321.80" y2="74.40" stroke="#888" stroke-width="0.5" />
<path d="M306.20,72.14 L306.72,72.13 L307.24,72.11 L307.76,72.10 L308.28,72.08 L308.80,72.07 L309.32,72.04 L309.84,72.02 L310.36,71.99 L310.88,71.96 L311.40,71.92 L311.92,71.87 L312.44,71.82 L312.96,71.75 L313.48,71.68 L314.00,71.60 L314.52,71.50 L315.04,71.39 L315.56,71.26 L316.08,71.11 L316.60,70.93 L317.12,70.72 L317.64,70.48 L318.16,70.21 L318.68,69.88 L319.20,69.51 L319.72,69.07 L320.24,68.57 L320.70,65.90 L321.10,56.50 L321.35,47.30 Q321.80,45.70 322.25,47.30 L322.50,56.50 L322.90,65.90 L323.36,68.57 L323.88,69.07 L324.40,69.51 L324.92,69.88 L325.44,70.21 L325.96,70.48 L326.48,70.72 L327.00,70.93 L327.52,71.11 L328.04,71.26 L328.56,71.39 L329.08,71.50 L329.60,71.60 L330.12,71.68 L330.64,71.75 L331.16,71.82 L331.68,71.87 L332.20,71.92 L332.72,71.96 L333.24,71.99 L333.76,72.02 L334.28,72.04 L334.80,72.07 L335.32,72.08 L335.84,72.10 L336.36,72.11 L336.88,72.13 L337.40,72.14" fill="none" stroke="#7f7fd0" stroke-width="0.9" stroke-linejoin="round"/>
<g filter="url(#grain)"><rect x="305.70" y="83.00" width="32.20" height="5.30" fill="url(#Bd83)"/><rect x="305.70" y="88.00" width="32.20" height="5.30" fill="url(#Bd88)"/><rect x="305.70" y="93.00" width="32.20" height="5.30" fill="url(#Bd93)"/><rect x="305.70" y="98.00" width="32.20" height="5.30" fill="url(#Bd98)"/><rect x="305.70" y="103.00" width="32.20" height="5.30" fill="url(#Bd103)"/><rect x="305.70" y="108.00" width="32.20" height="5.30" fill="url(#Bd108)"/><rect x="305.70" y="113.00" width="32.20" height="5.30" fill="url(#Bd113)"/><rect x="305.70" y="118.00" width="32.20" height="5.30" fill="url(#Bd118)"/><rect x="305.70" y="123.00" width="32.20" height="5.30" fill="url(#Bd123)"/><rect x="305.70" y="128.00" width="32.20" height="5.30" fill="url(#Bd128)"/><rect x="305.70" y="133.00" width="32.20" height="5.30" fill="url(#Bd133)"/><rect x="305.70" y="138.00" width="32.20" height="5.30" fill="url(#Bd138)"/><rect x="305.70" y="143.00" width="32.20" height="5.30" fill="url(#Bd143)"/><rect x="305.70" y="148.00" width="32.20" height="5.30" fill="url(#Bd148)"/><rect x="305.70" y="153.00" width="32.20" height="5.30" fill="url(#Bd153)"/><rect x="305.70" y="158.00" width="32.20" height="5.30" fill="url(#Bd158)"/><rect x="305.70" y="163.00" width="32.20" height="5.30" fill="url(#Bd163)"/><rect x="305.70" y="168.00" width="32.20" height="5.30" fill="url(#Bd168)"/><rect x="305.70" y="173.00" width="32.20" height="5.30" fill="url(#Bd173)"/><rect x="305.70" y="178.00" width="32.20" height="5.30" fill="url(#Bd178)"/><rect x="305.70" y="183.00" width="32.20" height="5.30" fill="url(#Bd183)"/><rect x="305.70" y="188.00" width="32.20" height="5.30" fill="url(#Bd188)"/><rect x="305.70" y="193.00" width="32.20" height="5.30" fill="url(#Bd193)"/><rect x="305.70" y="198.00" width="32.20" height="5.30" fill="url(#Bd198)"/><rect x="305.70" y="203.00" width="32.20" height="5.30" fill="url(#Bd203)"/><rect x="305.70" y="208.00" width="32.20" height="5.30" fill="url(#Bd208)"/><rect x="305.70" y="213.00" width="32.20" height="5.30" fill="url(#Bd213)"/><rect x="305.70" y="218.00" width="32.20" height="5.30" fill="url(#Bd218)"/><rect x="305.70" y="223.00" width="32.20" height="5.30" fill="url(#Bd223)"/><rect x="305.70" y="228.00" width="32.20" height="5.30" fill="url(#Bd228)"/><rect x="305.70" y="233.00" width="32.20" height="5.30" fill="url(#Bd233)"/><rect x="305.70" y="238.00" width="32.20" height="5.30" fill="url(#Bd238)"/><rect x="305.70" y="243.00" width="32.20" height="5.30" fill="url(#Bd243)"/><rect x="305.70" y="248.00" width="32.20" height="5.30" fill="url(#Bd248)"/><rect x="305.70" y="253.00" width="32.20" height="5.30" fill="url(#Bd253)"/><rect x="305.70" y="258.00" width="32.20" height="5.30" fill="url(#Bd258)"/><rect x="305.70" y="263.00" width="32.20" height="5.30" fill="url(#Bd263)"/><rect x="305.70" y="268.00" width="32.20" height="5.30" fill="url(#Bd268)"/><rect x="305.70" y="273.00" width="32.20" height="5.30" fill="url(#Bd273)"/><rect x="305.70" y="278.00" width="32.20" height="5.30" fill="url(#Bd278)"/><rect x="305.70" y="283.00" width="32.20" height="5.30" fill="url(#Bd283)"/><rect x="305.70" y="288.00" width="32.20" height="5.30" fill="url(#Bd288)"/></g>
<rect x="305.70" y="83" width="32.20" height="210" fill="none" stroke="#a8a8a8" stroke-width="0.7"/>
<text x="356.50" y="42.70" font-size="8.89" text-anchor="middle">rep 3</text>
<rect x="340.40" y="45.6" width="32.20" height="30" fill="#fff" stroke="#9a9a9a" stroke-width="0.6"/>
<line x1="340.40" y1="48.50" x2="341.60" y2="48.50" stroke="#888" stroke-width="0.5" />
<line x1="340.40" y1="66.20" x2="341.60" y2="66.20" stroke="#888" stroke-width="0.5" />
<line x1="356.50" y1="75.60" x2="356.50" y2="74.40" stroke="#888" stroke-width="0.5" />
<path d="M340.90,71.74 L341.42,71.73 L341.94,71.72 L342.46,71.71 L342.98,71.69 L343.50,71.68 L344.02,71.66 L344.54,71.63 L345.06,71.60 L345.58,71.57 L346.10,71.54 L346.62,71.49 L347.14,71.44 L347.66,71.39 L348.18,71.32 L348.70,71.24 L349.22,71.15 L349.74,71.05 L350.26,70.92 L350.78,70.78 L351.30,70.62 L351.82,70.43 L352.34,70.20 L352.86,69.95 L353.38,69.65 L353.90,69.30 L354.42,68.89 L354.94,68.42 L355.40,65.90 L355.80,57.00 L356.05,48.30 Q356.50,46.70 356.95,48.30 L357.20,57.00 L357.60,65.90 L358.06,68.42 L358.58,68.89 L359.10,69.30 L359.62,69.65 L360.14,69.95 L360.66,70.20 L361.18,70.43 L361.70,70.62 L362.22,70.78 L362.74,70.92 L363.26,71.05 L363.78,71.15 L364.30,71.24 L364.82,71.32 L365.34,71.39 L365.86,71.44 L366.38,71.49 L366.90,71.54 L367.42,71.57 L367.94,71.60 L368.46,71.63 L368.98,71.66 L369.50,71.68 L370.02,71.69 L370.54,71.71 L371.06,71.72 L371.58,71.73 L372.10,71.74" fill="none" stroke="#7f7fd0" stroke-width="0.9" stroke-linejoin="round"/>
<g filter="url(#grain)"><rect x="340.40" y="83.00" width="32.20" height="5.30" fill="url(#Bd83)"/><rect x="340.40" y="88.00" width="32.20" height="5.30" fill="url(#Bd88)"/><rect x="340.40" y="93.00" width="32.20" height="5.30" fill="url(#Bd93)"/><rect x="340.40" y="98.00" width="32.20" height="5.30" fill="url(#Bd98)"/><rect x="340.40" y="103.00" width="32.20" height="5.30" fill="url(#Bd103)"/><rect x="340.40" y="108.00" width="32.20" height="5.30" fill="url(#Bd108)"/><rect x="340.40" y="113.00" width="32.20" height="5.30" fill="url(#Bd113)"/><rect x="340.40" y="118.00" width="32.20" height="5.30" fill="url(#Bd118)"/><rect x="340.40" y="123.00" width="32.20" height="5.30" fill="url(#Bd123)"/><rect x="340.40" y="128.00" width="32.20" height="5.30" fill="url(#Bd128)"/><rect x="340.40" y="133.00" width="32.20" height="5.30" fill="url(#Bd133)"/><rect x="340.40" y="138.00" width="32.20" height="5.30" fill="url(#Bd138)"/><rect x="340.40" y="143.00" width="32.20" height="5.30" fill="url(#Bd143)"/><rect x="340.40" y="148.00" width="32.20" height="5.30" fill="url(#Bd148)"/><rect x="340.40" y="153.00" width="32.20" height="5.30" fill="url(#Bd153)"/><rect x="340.40" y="158.00" width="32.20" height="5.30" fill="url(#Bd158)"/><rect x="340.40" y="163.00" width="32.20" height="5.30" fill="url(#Bd163)"/><rect x="340.40" y="168.00" width="32.20" height="5.30" fill="url(#Bd168)"/><rect x="340.40" y="173.00" width="32.20" height="5.30" fill="url(#Bd173)"/><rect x="340.40" y="178.00" width="32.20" height="5.30" fill="url(#Bd178)"/><rect x="340.40" y="183.00" width="32.20" height="5.30" fill="url(#Bd183)"/><rect x="340.40" y="188.00" width="32.20" height="5.30" fill="url(#Bd188)"/><rect x="340.40" y="193.00" width="32.20" height="5.30" fill="url(#Bd193)"/><rect x="340.40" y="198.00" width="32.20" height="5.30" fill="url(#Bd198)"/><rect x="340.40" y="203.00" width="32.20" height="5.30" fill="url(#Bd203)"/><rect x="340.40" y="208.00" width="32.20" height="5.30" fill="url(#Bd208)"/><rect x="340.40" y="213.00" width="32.20" height="5.30" fill="url(#Bd213)"/><rect x="340.40" y="218.00" width="32.20" height="5.30" fill="url(#Bd218)"/><rect x="340.40" y="223.00" width="32.20" height="5.30" fill="url(#Bd223)"/><rect x="340.40" y="228.00" width="32.20" height="5.30" fill="url(#Bd228)"/><rect x="340.40" y="233.00" width="32.20" height="5.30" fill="url(#Bd233)"/><rect x="340.40" y="238.00" width="32.20" height="5.30" fill="url(#Bd238)"/><rect x="340.40" y="243.00" width="32.20" height="5.30" fill="url(#Bd243)"/><rect x="340.40" y="248.00" width="32.20" height="5.30" fill="url(#Bd248)"/><rect x="340.40" y="253.00" width="32.20" height="5.30" fill="url(#Bd253)"/><rect x="340.40" y="258.00" width="32.20" height="5.30" fill="url(#Bd258)"/><rect x="340.40" y="263.00" width="32.20" height="5.30" fill="url(#Bd263)"/><rect x="340.40" y="268.00" width="32.20" height="5.30" fill="url(#Bd268)"/><rect x="340.40" y="273.00" width="32.20" height="5.30" fill="url(#Bd273)"/><rect x="340.40" y="278.00" width="32.20" height="5.30" fill="url(#Bd278)"/><rect x="340.40" y="283.00" width="32.20" height="5.30" fill="url(#Bd283)"/><rect x="340.40" y="288.00" width="32.20" height="5.30" fill="url(#Bd288)"/></g>
<rect x="340.40" y="83" width="32.20" height="210" fill="none" stroke="#a8a8a8" stroke-width="0.7"/>
<text x="391.40" y="42.70" font-size="8.89" text-anchor="middle">rep 1</text>
<rect x="375.30" y="45.6" width="32.20" height="30" fill="#fff" stroke="#9a9a9a" stroke-width="0.6"/>
<line x1="375.30" y1="48.50" x2="376.50" y2="48.50" stroke="#888" stroke-width="0.5" />
<line x1="375.30" y1="66.20" x2="376.50" y2="66.20" stroke="#888" stroke-width="0.5" />
<line x1="391.40" y1="75.60" x2="391.40" y2="74.40" stroke="#888" stroke-width="0.5" />
<path d="M375.80,73.74 L376.32,73.73 L376.84,73.72 L377.36,73.71 L377.88,73.69 L378.40,73.68 L378.92,73.66 L379.44,73.63 L379.96,73.60 L380.48,73.57 L381.00,73.54 L381.52,73.49 L382.04,73.44 L382.56,73.39 L383.08,73.32 L383.60,73.24 L384.12,73.15 L384.64,73.05 L385.16,72.92 L385.68,72.78 L386.20,72.62 L386.72,72.43 L387.24,72.20 L387.76,71.95 L388.28,71.65 L388.80,71.30 L389.32,70.89 L389.84,70.42 L390.30,67.90 L390.70,62.35 L390.95,57.00 Q391.40,55.40 391.85,57.00 L392.10,62.35 L392.50,67.90 L392.96,70.42 L393.48,70.89 L394.00,71.30 L394.52,71.65 L395.04,71.95 L395.56,72.20 L396.08,72.43 L396.60,72.62 L397.12,72.78 L397.64,72.92 L398.16,73.05 L398.68,73.15 L399.20,73.24 L399.72,73.32 L400.24,73.39 L400.76,73.44 L401.28,73.49 L401.80,73.54 L402.32,73.57 L402.84,73.60 L403.36,73.63 L403.88,73.66 L404.40,73.68 L404.92,73.69 L405.44,73.71 L405.96,73.72 L406.48,73.73 L407.00,73.74" fill="none" stroke="#7f7fd0" stroke-width="0.9" stroke-linejoin="round"/>
<linearGradient id="Ba83" x1="0" y1="0" x2="1" y2="0"><stop offset="0.000" stop-color="#efaf9d"/><stop offset="0.189" stop-color="#eeab99"/><stop offset="0.329" stop-color="#eda494"/><stop offset="0.413" stop-color="#ec9e8e"/><stop offset="0.457" stop-color="#eb998a"/><stop offset="0.481" stop-color="#c03a3e"/><stop offset="0.519" stop-color="#c03a3e"/><stop offset="0.543" stop-color="#eb998a"/><stop offset="0.587" stop-color="#ec9e8e"/><stop offset="0.671" stop-color="#eda494"/><stop offset="0.811" stop-color="#eeab99"/><stop offset="1.000" stop-color="#efaf9d"/></linearGradient>
<linearGradient id="Ba88" x1="0" y1="0" x2="1" y2="0"><stop offset="0.000" stop-color="#f2ccc1"/><stop offset="0.189" stop-color="#f1c7ba"/><stop offset="0.329" stop-color="#f0beb1"/><stop offset="0.413" stop-color="#efb5a7"/><stop offset="0.457" stop-color="#efafa1"/><stop offset="0.481" stop-color="#d95b50"/><stop offset="0.519" stop-color="#d95b50"/><stop offset="0.543" stop-color="#efafa1"/><stop offset="0.587" stop-color="#efb5a7"/><stop offset="0.671" stop-color="#f0beb1"/><stop offset="0.811" stop-color="#f1c7ba"/><stop offset="1.000" stop-color="#f2ccc1"/></linearGradient>
<linearGradient id="Ba93" x1="0" y1="0" x2="1" y2="0"><stop offset="0.000" stop-color="#f2ded7"/><stop offset="0.189" stop-color="#f2d9d0"/><stop offset="0.329" stop-color="#f2d1c6"/><stop offset="0.413" stop-color="#f2c9bc"/><stop offset="0.457" stop-color="#f2c3b5"/><stop offset="0.481" stop-color="#de685a"/><stop offset="0.519" stop-color="#de685a"/><stop offset="0.543" stop-color="#f2c3b5"/><stop offset="0.587" stop-color="#f2c9bc"/><stop offset="0.671" stop-color="#f2d1c6"/><stop offset="0.811" stop-color="#f2d9d0"/><stop offset="1.000" stop-color="#f2ded7"/></linearGradient>
<linearGradient id="Ba98" x1="0" y1="0" x2="1" y2="0"><stop offset="0.000" stop-color="#f0e5e2"/><stop offset="0.189" stop-color="#f0e0dc"/><stop offset="0.329" stop-color="#f1d9d2"/><stop offset="0.413" stop-color="#f2d1c7"/><stop offset="0.457" stop-color="#f2cbc0"/><stop offset="0.481" stop-color="#e27465"/><stop offset="0.519" stop-color="#e27465"/><stop offset="0.543" stop-color="#f2cbc0"/><stop offset="0.587" stop-color="#f2d1c7"/><stop offset="0.671" stop-color="#f1d9d2"/><stop offset="0.811" stop-color="#f0e0dc"/><stop offset="1.000" stop-color="#f0e5e2"/></linearGradient>
<linearGradient id="Ba103" x1="0" y1="0" x2="1" y2="0"><stop offset="0.000" stop-color="#eeebec"/><stop offset="0.189" stop-color="#efe7e6"/><stop offset="0.329" stop-color="#f0e0dc"/><stop offset="0.413" stop-color="#f1d9d2"/><stop offset="0.457" stop-color="#f2d4cb"/><stop offset="0.481" stop-color="#e7816f"/><stop offset="0.519" stop-color="#e7816f"/><stop offset="0.543" stop-color="#f2d4cb"/><stop offset="0.587" stop-color="#f1d9d2"/><stop offset="0.671" stop-color="#f0e0dc"/><stop offset="0.811" stop-color="#efe7e6"/><stop offset="1.000" stop-color="#eeebec"/></linearGradient>
<linearGradient id="Ba108" x1="0" y1="0" x2="1" y2="0"><stop offset="0.000" stop-color="#ebebee"/><stop offset="0.189" stop-color="#ece9e9"/><stop offset="0.329" stop-color="#eee4e2"/><stop offset="0.413" stop-color="#f0dfda"/><stop offset="0.457" stop-color="#f2dbd4"/><stop offset="0.481" stop-color="#eb8c78"/><stop offset="0.519" stop-color="#eb8c78"/><stop offset="0.543" stop-color="#f2dbd4"/><stop offset="0.587" stop-color="#f0dfda"/><stop offset="0.671" stop-color="#eee4e2"/><stop offset="0.811" stop-color="#ece9e9"/><stop offset="1.000" stop-color="#ebebee"/></linearGradient>
<linearGradient id="Ba113" x1="0" y1="0" x2="1" y2="0"><stop offset="0.000" stop-color="#e8ecf0"/><stop offset="0.189" stop-color="#eaeaec"/><stop offset="0.329" stop-color="#ede7e7"/><stop offset="0.413" stop-color="#efe5e1"/><stop offset="0.457" stop-color="#f2e3dd"/><stop offset="0.481" stop-color="#eb8d79"/><stop offset="0.519" stop-color="#eb8d79"/><stop offset="0.543" stop-color="#f2e3dd"/><stop offset="0.587" stop-color="#efe5e1"/><stop offset="0.671" stop-color="#ede7e7"/><stop offset="0.811" stop-color="#eaeaec"/><stop offset="1.000" stop-color="#e8ecf0"/></linearGradient>
<linearGradient id="Ba118" x1="0" y1="0" x2="1" y2="0"><stop offset="0.000" stop-color="#e5ebf1"/><stop offset="0.189" stop-color="#e7eaee"/><stop offset="0.329" stop-color="#eae8ea"/><stop offset="0.413" stop-color="#eee6e5"/><stop offset="0.457" stop-color="#f1e5e1"/><stop offset="0.481" stop-color="#ec8e7a"/><stop offset="0.519" stop-color="#ec8e7a"/><stop offset="0.543" stop-color="#f1e5e1"/><stop offset="0.587" stop-color="#eee6e5"/><stop offset="0.671" stop-color="#eae8ea"/><stop offset="0.811" stop-color="#e7eaee"/><stop offset="1.000" stop-color="#e5ebf1"/></linearGradient>
<linearGradient id="Ba123" x1="0" y1="0" x2="1" y2="0"><stop offset="0.000" stop-color="#e2eaf2"/><stop offset="0.189" stop-color="#e4eaf0"/><stop offset="0.329" stop-color="#e8e9ec"/><stop offset="0.413" stop-color="#ece8e8"/><stop offset="0.457" stop-color="#f0e7e5"/><stop offset="0.481" stop-color="#ec8f7b"/><stop offset="0.519" stop-color="#ec8f7b"/><stop offset="0.543" stop-color="#f0e7e5"/><stop offset="0.587" stop-color="#ece8e8"/><stop offset="0.671" stop-color="#e8e9ec"/><stop offset="0.811" stop-color="#e4eaf0"/><stop offset="1.000" stop-color="#e2eaf2"/></linearGradient>
<linearGradient id="Ba128" x1="0" y1="0" x2="1" y2="0"><stop offset="0.000" stop-color="#dee9f1"/><stop offset="0.189" stop-color="#e1e9f0"/><stop offset="0.329" stop-color="#e6e9ee"/><stop offset="0.413" stop-color="#ebe9eb"/><stop offset="0.457" stop-color="#efe9e9"/><stop offset="0.481" stop-color="#ec917d"/><stop offset="0.519" stop-color="#ec917d"/><stop offset="0.543" stop-color="#efe9e9"/><stop offset="0.587" stop-color="#ebe9eb"/><stop offset="0.671" stop-color="#e6e9ee"/><stop offset="0.811" stop-color="#e1e9f0"/><stop offset="1.000" stop-color="#dee9f1"/></linearGradient>
<linearGradient id="Ba133" x1="0" y1="0" x2="1" y2="0"><stop offset="0.000" stop-color="#dae7f1"/><stop offset="0.189" stop-color="#dde7f0"/><stop offset="0.329" stop-color="#e3e9ef"/><stop offset="0.413" stop-color="#e9eaee"/><stop offset="0.457" stop-color="#edebed"/><stop offset="0.481" stop-color="#ec927e"/><stop offset="0.519" stop-color="#ec927e"/><stop offset="0.543" stop-color="#edebed"/><stop offset="0.587" stop-color="#e9eaee"/><stop offset="0.671" stop-color="#e3e9ef"/><stop offset="0.811" stop-color="#dde7f0"/><stop offset="1.000" stop-color="#dae7f1"/></linearGradient>
<linearGradient id="Ba138" x1="0" y1="0" x2="1" y2="0"><stop offset="0.000" stop-color="#d6e5f0"/><stop offset="0.189" stop-color="#dae6f0"/><stop offset="0.329" stop-color="#e0e8f0"/><stop offset="0.413" stop-color="#e7ebf0"/><stop offset="0.457" stop-color="#ecedf0"/><stop offset="0.481" stop-color="#ed937f"/><stop offset="0.519" stop-color="#ed937f"/><stop offset="0.543" stop-color="#ecedf0"/><stop offset="0.587" stop-color="#e7ebf0"/><stop offset="0.671" stop-color="#e0e8f0"/><stop offset="0.811" stop-color="#dae6f0"/><stop offset="1.000" stop-color="#d6e5f0"/></linearGradient>
<linearGradient id="Ba143" x1="0" y1="0" x2="1" y2="0"><stop offset="0.000" stop-color="#d2e3f0"/><stop offset="0.189" stop-color="#d6e4f0"/><stop offset="0.329" stop-color="#dde7f0"/><stop offset="0.413" stop-color="#e6eaf0"/><stop offset="0.457" stop-color="#ebecf0"/><stop offset="0.481" stop-color="#ed9480"/><stop offset="0.519" stop-color="#ed9480"/><stop offset="0.543" stop-color="#ebecf0"/><stop offset="0.587" stop-color="#e6eaf0"/><stop offset="0.671" stop-color="#dde7f0"/><stop offset="0.811" stop-color="#d6e4f0"/><stop offset="1.000" stop-color="#d2e3f0"/></linearGradient>
<linearGradient id="Ba148" x1="0" y1="0" x2="1" y2="0"><stop offset="0.000" stop-color="#cfe1ef"/><stop offset="0.189" stop-color="#d3e2ef"/><stop offset="0.329" stop-color="#dbe6f0"/><stop offset="0.413" stop-color="#e4e9f0"/><stop offset="0.457" stop-color="#ebecf0"/><stop offset="0.481" stop-color="#ed9581"/><stop offset="0.519" stop-color="#ed9581"/><stop offset="0.543" stop-color="#ebecf0"/><stop offset="0.587" stop-color="#e4e9f0"/><stop offset="0.671" stop-color="#dbe6f0"/><stop offset="0.811" stop-color="#d3e2ef"/><stop offset="1.000" stop-color="#cfe1ef"/></linearGradient>
<linearGradient id="Ba153" x1="0" y1="0" x2="1" y2="0"><stop offset="0.000" stop-color="#cadeee"/><stop offset="0.189" stop-color="#cfe0ee"/><stop offset="0.329" stop-color="#d8e4ef"/><stop offset="0.413" stop-color="#e2e9f0"/><stop offset="0.457" stop-color="#eaecf0"/><stop offset="0.481" stop-color="#ee9682"/><stop offset="0.519" stop-color="#ee9682"/><stop offset="0.543" stop-color="#eaecf0"/><stop offset="0.587" stop-color="#e2e9f0"/><stop offset="0.671" stop-color="#d8e4ef"/><stop offset="0.811" stop-color="#cfe0ee"/><stop offset="1.000" stop-color="#cadeee"/></linearGradient>
<linearGradient id="Ba158" x1="0" y1="0" x2="1" y2="0"><stop offset="0.000" stop-color="#c6dced"/><stop offset="0.189" stop-color="#cbdeed"/><stop offset="0.329" stop-color="#d5e3ee"/><stop offset="0.413" stop-color="#e0e8ef"/><stop offset="0.457" stop-color="#e9ecf0"/><stop offset="0.481" stop-color="#ee9783"/><stop offset="0.519" stop-color="#ee9783"/><stop offset="0.543" stop-color="#e9ecf0"/><stop offset="0.587" stop-color="#e0e8ef"/><stop offset="0.671" stop-color="#d5e3ee"/><stop offset="0.811" stop-color="#cbdeed"/><stop offset="1.000" stop-color="#c6dced"/></linearGradient>
<linearGradient id="Ba163" x1="0" y1="0" x2="1" y2="0"><stop offset="0.000" stop-color="#c2daec"/><stop offset="0.189" stop-color="#c7dcec"/><stop offset="0.329" stop-color="#d2e1ee"/><stop offset="0.413" stop-color="#dee7ef"/><stop offset="0.457" stop-color="#e8ebf0"/><stop offset="0.481" stop-color="#ee9884"/><stop offset="0.519" stop-color="#ee9884"/><stop offset="0.543" stop-color="#e8ebf0"/><stop offset="0.587" stop-color="#dee7ef"/><stop offset="0.671" stop-color="#d2e1ee"/><stop offset="0.811" stop-color="#c7dcec"/><stop offset="1.000" stop-color="#c2daec"/></linearGradient>
<linearGradient id="Ba168" x1="0" y1="0" x2="1" y2="0"><stop offset="0.000" stop-color="#bed7eb"/><stop offset="0.189" stop-color="#c4daeb"/><stop offset="0.329" stop-color="#cfdfed"/><stop offset="0.413" stop-color="#dce6ef"/><stop offset="0.457" stop-color="#e7ebf0"/><stop offset="0.481" stop-color="#ee9985"/><stop offset="0.519" stop-color="#ee9985"/><stop offset="0.543" stop-color="#e7ebf0"/><stop offset="0.587" stop-color="#dce6ef"/><stop offset="0.671" stop-color="#cfdfed"/><stop offset="0.811" stop-color="#c4daeb"/><stop offset="1.000" stop-color="#bed7eb"/></linearGradient>
<linearGradient id="Ba173" x1="0" y1="0" x2="1" y2="0"><stop offset="0.000" stop-color="#bad5e9"/><stop offset="0.189" stop-color="#c0d8ea"/><stop offset="0.329" stop-color="#ccdeec"/><stop offset="0.413" stop-color="#dae5ef"/><stop offset="0.457" stop-color="#e5ebf0"/><stop offset="0.481" stop-color="#ef9b87"/><stop offset="0.519" stop-color="#ef9b87"/><stop offset="0.543" stop-color="#e5ebf0"/><stop offset="0.587" stop-color="#dae5ef"/><stop offset="0.671" stop-color="#ccdeec"/><stop offset="0.811" stop-color="#c0d8ea"/><stop offset="1.000" stop-color="#bad5e9"/></linearGradient>
<linearGradient id="Ba178" x1="0" y1="0" x2="1" y2="0"><stop offset="0.000" stop-color="#b6d3e8"/><stop offset="0.189" stop-color="#bcd6e9"/><stop offset="0.329" stop-color="#c8dcec"/><stop offset="0.413" stop-color="#d8e4ee"/><stop offset="0.457" stop-color="#e4eaf0"/><stop offset="0.481" stop-color="#ef9c88"/><stop offset="0.519" stop-color="#ef9c88"/><stop offset="0.543" stop-color="#e4eaf0"/><stop offset="0.587" stop-color="#d8e4ee"/><stop offset="0.671" stop-color="#c8dcec"/><stop offset="0.811" stop-color="#bcd6e9"/><stop offset="1.000" stop-color="#b6d3e8"/></linearGradient>
<linearGradient id="Ba183" x1="0" y1="0" x2="1" y2="0"><stop offset="0.000" stop-color="#b2d1e7"/><stop offset="0.189" stop-color="#b8d4e9"/><stop offset="0.329" stop-color="#c6daeb"/><stop offset="0.413" stop-color="#d6e3ee"/><stop offset="0.457" stop-color="#e3eaf1"/><stop offset="0.481" stop-color="#ef9d89"/><stop offset="0.519" stop-color="#ef9d89"/><stop offset="0.543" stop-color="#e3eaf1"/><stop offset="0.587" stop-color="#d6e3ee"/><stop offset="0.671" stop-color="#c6daeb"/><stop offset="0.811" stop-color="#b8d4e9"/><stop offset="1.000" stop-color="#b2d1e7"/></linearGradient>
<linearGradient id="Ba188" x1="0" y1="0" x2="1" y2="0"><stop offset="0.000" stop-color="#afcfe7"/><stop offset="0.189" stop-color="#b5d2e8"/><stop offset="0.329" stop-color="#c3d9ea"/><stop offset="0.413" stop-color="#d4e2ee"/><stop offset="0.457" stop-color="#e2e9f1"/><stop offset="0.481" stop-color="#ef9e8a"/><stop offset="0.519" stop-color="#ef9e8a"/><stop offset="0.543" stop-color="#e2e9f1"/><stop offset="0.587" stop-color="#d4e2ee"/><stop offset="0.671" stop-color="#c3d9ea"/><stop offset="0.811" stop-color="#b5d2e8"/><stop offset="1.000" stop-color="#afcfe7"/></linearGradient>
<linearGradient id="Ba193" x1="0" y1="0" x2="1" y2="0"><stop offset="0.000" stop-color="#accce6"/><stop offset="0.189" stop-color="#b2d0e7"/><stop offset="0.329" stop-color="#c0d7ea"/><stop offset="0.413" stop-color="#d2e1ee"/><stop offset="0.457" stop-color="#e1e9f1"/><stop offset="0.481" stop-color="#f09f8b"/><stop offset="0.519" stop-color="#f09f8b"/><stop offset="0.543" stop-color="#e1e9f1"/><stop offset="0.587" stop-color="#d2e1ee"/><stop offset="0.671" stop-color="#c0d7ea"/><stop offset="0.811" stop-color="#b2d0e7"/><stop offset="1.000" stop-color="#accce6"/></linearGradient>
<linearGradient id="Ba198" x1="0" y1="0" x2="1" y2="0"><stop offset="0.000" stop-color="#a8cae5"/><stop offset="0.189" stop-color="#aecde6"/><stop offset="0.329" stop-color="#bdd5e9"/><stop offset="0.413" stop-color="#d0e0ed"/><stop offset="0.457" stop-color="#e0e9f1"/><stop offset="0.481" stop-color="#f0a08c"/><stop offset="0.519" stop-color="#f0a08c"/><stop offset="0.543" stop-color="#e0e9f1"/><stop offset="0.587" stop-color="#d0e0ed"/><stop offset="0.671" stop-color="#bdd5e9"/><stop offset="0.811" stop-color="#aecde6"/><stop offset="1.000" stop-color="#a8cae5"/></linearGradient>
<linearGradient id="Ba203" x1="0" y1="0" x2="1" y2="0"><stop offset="0.000" stop-color="#a5c8e4"/><stop offset="0.189" stop-color="#abcbe5"/><stop offset="0.329" stop-color="#bad3e8"/><stop offset="0.413" stop-color="#cedfed"/><stop offset="0.457" stop-color="#e0e8f0"/><stop offset="0.481" stop-color="#f0a38f"/><stop offset="0.519" stop-color="#f0a38f"/><stop offset="0.543" stop-color="#e0e8f0"/><stop offset="0.587" stop-color="#cedfed"/><stop offset="0.671" stop-color="#bad3e8"/><stop offset="0.811" stop-color="#abcbe5"/><stop offset="1.000" stop-color="#a5c8e4"/></linearGradient>
<linearGradient id="Ba208" x1="0" y1="0" x2="1" y2="0"><stop offset="0.000" stop-color="#a1c6e3"/><stop offset="0.189" stop-color="#a7c9e4"/><stop offset="0.329" stop-color="#b7d2e8"/><stop offset="0.413" stop-color="#cddeec"/><stop offset="0.457" stop-color="#dfe8f0"/><stop offset="0.481" stop-color="#f1a693"/><stop offset="0.519" stop-color="#f1a693"/><stop offset="0.543" stop-color="#dfe8f0"/><stop offset="0.587" stop-color="#cddeec"/><stop offset="0.671" stop-color="#b7d2e8"/><stop offset="0.811" stop-color="#a7c9e4"/><stop offset="1.000" stop-color="#a1c6e3"/></linearGradient>
<linearGradient id="Ba213" x1="0" y1="0" x2="1" y2="0"><stop offset="0.000" stop-color="#9cc2e1"/><stop offset="0.189" stop-color="#a2c6e3"/><stop offset="0.329" stop-color="#b3cfe6"/><stop offset="0.413" stop-color="#cadceb"/><stop offset="0.457" stop-color="#dee7f0"/><stop offset="0.481" stop-color="#f1a996"/><stop offset="0.519" stop-color="#f1a996"/><stop offset="0.543" stop-color="#dee7f0"/><stop offset="0.587" stop-color="#cadceb"/><stop offset="0.671" stop-color="#b3cfe6"/><stop offset="0.811" stop-color="#a2c6e3"/><stop offset="1.000" stop-color="#9cc2e1"/></linearGradient>
<linearGradient id="Ba218" x1="0" y1="0" x2="1" y2="0"><stop offset="0.000" stop-color="#97bfdf"/><stop offset="0.189" stop-color="#9dc3e1"/><stop offset="0.329" stop-color="#aecce5"/><stop offset="0.413" stop-color="#c7daea"/><stop offset="0.457" stop-color="#dde6ef"/><stop offset="0.481" stop-color="#f1ac99"/><stop offset="0.519" stop-color="#f1ac99"/><stop offset="0.543" stop-color="#dde6ef"/><stop offset="0.587" stop-color="#c7daea"/><stop offset="0.671" stop-color="#aecce5"/><stop offset="0.811" stop-color="#9dc3e1"/><stop offset="1.000" stop-color="#97bfdf"/></linearGradient>
<linearGradient id="Ba223" x1="0" y1="0" x2="1" y2="0"><stop offset="0.000" stop-color="#92bcde"/><stop offset="0.189" stop-color="#98bfdf"/><stop offset="0.329" stop-color="#aac9e3"/><stop offset="0.413" stop-color="#c4d8e9"/><stop offset="0.457" stop-color="#dce6ef"/><stop offset="0.481" stop-color="#f1af9c"/><stop offset="0.519" stop-color="#f1af9c"/><stop offset="0.543" stop-color="#dce6ef"/><stop offset="0.587" stop-color="#c4d8e9"/><stop offset="0.671" stop-color="#aac9e3"/><stop offset="0.811" stop-color="#98bfdf"/><stop offset="1.000" stop-color="#92bcde"/></linearGradient>
<linearGradient id="Ba228" x1="0" y1="0" x2="1" y2="0"><stop offset="0.000" stop-color="#8db9dc"/><stop offset="0.189" stop-color="#93bcdd"/><stop offset="0.329" stop-color="#a5c7e1"/><stop offset="0.413" stop-color="#c1d7e8"/><stop offset="0.457" stop-color="#dae5ee"/><stop offset="0.481" stop-color="#f2b29f"/><stop offset="0.519" stop-color="#f2b29f"/><stop offset="0.543" stop-color="#dae5ee"/><stop offset="0.587" stop-color="#c1d7e8"/><stop offset="0.671" stop-color="#a5c7e1"/><stop offset="0.811" stop-color="#93bcdd"/><stop offset="1.000" stop-color="#8db9dc"/></linearGradient>
<linearGradient id="Ba233" x1="0" y1="0" x2="1" y2="0"><stop offset="0.000" stop-color="#88b6da"/><stop offset="0.189" stop-color="#8eb9db"/><stop offset="0.329" stop-color="#a0c4e0"/><stop offset="0.413" stop-color="#bed5e7"/><stop offset="0.457" stop-color="#d9e4ee"/><stop offset="0.481" stop-color="#f2b5a2"/><stop offset="0.519" stop-color="#f2b5a2"/><stop offset="0.543" stop-color="#d9e4ee"/><stop offset="0.587" stop-color="#bed5e7"/><stop offset="0.671" stop-color="#a0c4e0"/><stop offset="0.811" stop-color="#8eb9db"/><stop offset="1.000" stop-color="#88b6da"/></linearGradient>
<linearGradient id="Ba238" x1="0" y1="0" x2="1" y2="0"><stop offset="0.000" stop-color="#83b2d8"/><stop offset="0.189" stop-color="#88b6d9"/><stop offset="0.329" stop-color="#9bc0de"/><stop offset="0.413" stop-color="#bbd2e6"/><stop offset="0.457" stop-color="#d8e3ed"/><stop offset="0.481" stop-color="#f2b8a6"/><stop offset="0.519" stop-color="#f2b8a6"/><stop offset="0.543" stop-color="#d8e3ed"/><stop offset="0.587" stop-color="#bbd2e6"/><stop offset="0.671" stop-color="#9bc0de"/><stop offset="0.811" stop-color="#88b6d9"/><stop offset="1.000" stop-color="#83b2d8"/></linearGradient>
<linearGradient id="Ba243" x1="0" y1="0" x2="1" y2="0"><stop offset="0.000" stop-color="#7caed6"/><stop offset="0.189" stop-color="#82b1d7"/><stop offset="0.329" stop-color="#95bddc"/><stop offset="0.413" stop-color="#b7d0e4"/><stop offset="0.457" stop-color="#d6e2ec"/><stop offset="0.481" stop-color="#f2bba9"/><stop offset="0.519" stop-color="#f2bba9"/><stop offset="0.543" stop-color="#d6e2ec"/><stop offset="0.587" stop-color="#b7d0e4"/><stop offset="0.671" stop-color="#95bddc"/><stop offset="0.811" stop-color="#82b1d7"/><stop offset="1.000" stop-color="#7caed6"/></linearGradient>
<linearGradient id="Ba248" x1="0" y1="0" x2="1" y2="0"><stop offset="0.000" stop-color="#76aad4"/><stop offset="0.189" stop-color="#7cadd5"/><stop offset="0.329" stop-color="#8fb9da"/><stop offset="0.413" stop-color="#b2cde3"/><stop offset="0.457" stop-color="#d4e1ec"/><stop offset="0.481" stop-color="#f3bdac"/><stop offset="0.519" stop-color="#f3bdac"/><stop offset="0.543" stop-color="#d4e1ec"/><stop offset="0.587" stop-color="#b2cde3"/><stop offset="0.671" stop-color="#8fb9da"/><stop offset="0.811" stop-color="#7cadd5"/><stop offset="1.000" stop-color="#76aad4"/></linearGradient>
<linearGradient id="Ba253" x1="0" y1="0" x2="1" y2="0"><stop offset="0.000" stop-color="#70a6d2"/><stop offset="0.189" stop-color="#75a9d3"/><stop offset="0.329" stop-color="#89b5d8"/><stop offset="0.413" stop-color="#aecae2"/><stop offset="0.457" stop-color="#d2dfeb"/><stop offset="0.481" stop-color="#f3c0af"/><stop offset="0.519" stop-color="#f3c0af"/><stop offset="0.543" stop-color="#d2dfeb"/><stop offset="0.587" stop-color="#aecae2"/><stop offset="0.671" stop-color="#89b5d8"/><stop offset="0.811" stop-color="#75a9d3"/><stop offset="1.000" stop-color="#70a6d2"/></linearGradient>
<linearGradient id="Ba258" x1="0" y1="0" x2="1" y2="0"><stop offset="0.000" stop-color="#6aa2d0"/><stop offset="0.189" stop-color="#6fa5d1"/><stop offset="0.329" stop-color="#83b1d6"/><stop offset="0.413" stop-color="#a9c7e0"/><stop offset="0.457" stop-color="#d0deea"/><stop offset="0.481" stop-color="#f3c3b3"/><stop offset="0.519" stop-color="#f3c3b3"/><stop offset="0.543" stop-color="#d0deea"/><stop offset="0.587" stop-color="#a9c7e0"/><stop offset="0.671" stop-color="#83b1d6"/><stop offset="0.811" stop-color="#6fa5d1"/><stop offset="1.000" stop-color="#6aa2d0"/></linearGradient>
<linearGradient id="Ba263" x1="0" y1="0" x2="1" y2="0"><stop offset="0.000" stop-color="#649ece"/><stop offset="0.189" stop-color="#68a0cf"/><stop offset="0.329" stop-color="#7cacd4"/><stop offset="0.413" stop-color="#a4c4df"/><stop offset="0.457" stop-color="#cddce9"/><stop offset="0.481" stop-color="#f3c8b8"/><stop offset="0.519" stop-color="#f3c8b8"/><stop offset="0.543" stop-color="#cddce9"/><stop offset="0.587" stop-color="#a4c4df"/><stop offset="0.671" stop-color="#7cacd4"/><stop offset="0.811" stop-color="#68a0cf"/><stop offset="1.000" stop-color="#649ece"/></linearGradient>
<linearGradient id="Ba268" x1="0" y1="0" x2="1" y2="0"><stop offset="0.000" stop-color="#5c97cb"/><stop offset="0.189" stop-color="#609acc"/><stop offset="0.329" stop-color="#74a6d1"/><stop offset="0.413" stop-color="#9ebfdc"/><stop offset="0.457" stop-color="#cbdae8"/><stop offset="0.481" stop-color="#f4ccbd"/><stop offset="0.519" stop-color="#f4ccbd"/><stop offset="0.543" stop-color="#cbdae8"/><stop offset="0.587" stop-color="#9ebfdc"/><stop offset="0.671" stop-color="#74a6d1"/><stop offset="0.811" stop-color="#609acc"/><stop offset="1.000" stop-color="#5c97cb"/></linearGradient>
<linearGradient id="Ba273" x1="0" y1="0" x2="1" y2="0"><stop offset="0.000" stop-color="#5591c7"/><stop offset="0.189" stop-color="#5893c8"/><stop offset="0.329" stop-color="#6c9fce"/><stop offset="0.413" stop-color="#97bada"/><stop offset="0.457" stop-color="#c7d8e7"/><stop offset="0.481" stop-color="#f4d0c2"/><stop offset="0.519" stop-color="#f4d0c2"/><stop offset="0.543" stop-color="#c7d8e7"/><stop offset="0.587" stop-color="#97bada"/><stop offset="0.671" stop-color="#6c9fce"/><stop offset="0.811" stop-color="#5893c8"/><stop offset="1.000" stop-color="#5591c7"/></linearGradient>
<linearGradient id="Ba278" x1="0" y1="0" x2="1" y2="0"><stop offset="0.000" stop-color="#4d8ac4"/><stop offset="0.189" stop-color="#508cc5"/><stop offset="0.329" stop-color="#6498ca"/><stop offset="0.413" stop-color="#91b5d7"/><stop offset="0.457" stop-color="#c4d5e5"/><stop offset="0.481" stop-color="#f4d4c7"/><stop offset="0.519" stop-color="#f4d4c7"/><stop offset="0.543" stop-color="#c4d5e5"/><stop offset="0.587" stop-color="#91b5d7"/><stop offset="0.671" stop-color="#6498ca"/><stop offset="0.811" stop-color="#508cc5"/><stop offset="1.000" stop-color="#4d8ac4"/></linearGradient>
<linearGradient id="Ba283" x1="0" y1="0" x2="1" y2="0"><stop offset="0.000" stop-color="#4584c1"/><stop offset="0.189" stop-color="#4986c2"/><stop offset="0.329" stop-color="#5b92c7"/><stop offset="0.413" stop-color="#89afd4"/><stop offset="0.457" stop-color="#c0d2e4"/><stop offset="0.481" stop-color="#f5d8cc"/><stop offset="0.519" stop-color="#f5d8cc"/><stop offset="0.543" stop-color="#c0d2e4"/><stop offset="0.587" stop-color="#89afd4"/><stop offset="0.671" stop-color="#5b92c7"/><stop offset="0.811" stop-color="#4986c2"/><stop offset="1.000" stop-color="#4584c1"/></linearGradient>
<linearGradient id="Ba288" x1="0" y1="0" x2="1" y2="0"><stop offset="0.000" stop-color="#3e7dbe"/><stop offset="0.189" stop-color="#417fbe"/><stop offset="0.329" stop-color="#528bc4"/><stop offset="0.413" stop-color="#82a9d1"/><stop offset="0.457" stop-color="#bccfe2"/><stop offset="0.481" stop-color="#f5dcd1"/><stop offset="0.519" stop-color="#f5dcd1"/><stop offset="0.543" stop-color="#bccfe2"/><stop offset="0.587" stop-color="#82a9d1"/><stop offset="0.671" stop-color="#528bc4"/><stop offset="0.811" stop-color="#417fbe"/><stop offset="1.000" stop-color="#3e7dbe"/></linearGradient>
<g filter="url(#grain)"><rect x="375.30" y="83.00" width="32.20" height="5.30" fill="url(#Ba83)"/><rect x="375.30" y="88.00" width="32.20" height="5.30" fill="url(#Ba88)"/><rect x="375.30" y="93.00" width="32.20" height="5.30" fill="url(#Ba93)"/><rect x="375.30" y="98.00" width="32.20" height="5.30" fill="url(#Ba98)"/><rect x="375.30" y="103.00" width="32.20" height="5.30" fill="url(#Ba103)"/><rect x="375.30" y="108.00" width="32.20" height="5.30" fill="url(#Ba108)"/><rect x="375.30" y="113.00" width="32.20" height="5.30" fill="url(#Ba113)"/><rect x="375.30" y="118.00" width="32.20" height="5.30" fill="url(#Ba118)"/><rect x="375.30" y="123.00" width="32.20" height="5.30" fill="url(#Ba123)"/><rect x="375.30" y="128.00" width="32.20" height="5.30" fill="url(#Ba128)"/><rect x="375.30" y="133.00" width="32.20" height="5.30" fill="url(#Ba133)"/><rect x="375.30" y="138.00" width="32.20" height="5.30" fill="url(#Ba138)"/><rect x="375.30" y="143.00" width="32.20" height="5.30" fill="url(#Ba143)"/><rect x="375.30" y="148.00" width="32.20" height="5.30" fill="url(#Ba148)"/><rect x="375.30" y="153.00" width="32.20" height="5.30" fill="url(#Ba153)"/><rect x="375.30" y="158.00" width="32.20" height="5.30" fill="url(#Ba158)"/><rect x="375.30" y="163.00" width="32.20" height="5.30" fill="url(#Ba163)"/><rect x="375.30" y="168.00" width="32.20" height="5.30" fill="url(#Ba168)"/><rect x="375.30" y="173.00" width="32.20" height="5.30" fill="url(#Ba173)"/><rect x="375.30" y="178.00" width="32.20" height="5.30" fill="url(#Ba178)"/><rect x="375.30" y="183.00" width="32.20" height="5.30" fill="url(#Ba183)"/><rect x="375.30" y="188.00" width="32.20" height="5.30" fill="url(#Ba188)"/><rect x="375.30" y="193.00" width="32.20" height="5.30" fill="url(#Ba193)"/><rect x="375.30" y="198.00" width="32.20" height="5.30" fill="url(#Ba198)"/><rect x="375.30" y="203.00" width="32.20" height="5.30" fill="url(#Ba203)"/><rect x="375.30" y="208.00" width="32.20" height="5.30" fill="url(#Ba208)"/><rect x="375.30" y="213.00" width="32.20" height="5.30" fill="url(#Ba213)"/><rect x="375.30" y="218.00" width="32.20" height="5.30" fill="url(#Ba218)"/><rect x="375.30" y="223.00" width="32.20" height="5.30" fill="url(#Ba223)"/><rect x="375.30" y="228.00" width="32.20" height="5.30" fill="url(#Ba228)"/><rect x="375.30" y="233.00" width="32.20" height="5.30" fill="url(#Ba233)"/><rect x="375.30" y="238.00" width="32.20" height="5.30" fill="url(#Ba238)"/><rect x="375.30" y="243.00" width="32.20" height="5.30" fill="url(#Ba243)"/><rect x="375.30" y="248.00" width="32.20" height="5.30" fill="url(#Ba248)"/><rect x="375.30" y="253.00" width="32.20" height="5.30" fill="url(#Ba253)"/><rect x="375.30" y="258.00" width="32.20" height="5.30" fill="url(#Ba258)"/><rect x="375.30" y="263.00" width="32.20" height="5.30" fill="url(#Ba263)"/><rect x="375.30" y="268.00" width="32.20" height="5.30" fill="url(#Ba268)"/><rect x="375.30" y="273.00" width="32.20" height="5.30" fill="url(#Ba273)"/><rect x="375.30" y="278.00" width="32.20" height="5.30" fill="url(#Ba278)"/><rect x="375.30" y="283.00" width="32.20" height="5.30" fill="url(#Ba283)"/><rect x="375.30" y="288.00" width="32.20" height="5.30" fill="url(#Ba288)"/></g>
<rect x="375.30" y="83" width="32.20" height="210" fill="none" stroke="#a8a8a8" stroke-width="0.7"/>
<text x="426.45" y="42.70" font-size="8.89" text-anchor="middle">rep 2</text>
<rect x="410.30" y="45.6" width="32.30" height="30" fill="#fff" stroke="#9a9a9a" stroke-width="0.6"/>
<line x1="410.30" y1="48.50" x2="411.50" y2="48.50" stroke="#888" stroke-width="0.5" />
<line x1="410.30" y1="66.20" x2="411.50" y2="66.20" stroke="#888" stroke-width="0.5" />
<line x1="426.45" y1="75.60" x2="426.45" y2="74.40" stroke="#888" stroke-width="0.5" />
<path d="M410.80,73.74 L411.32,73.73 L411.84,73.72 L412.37,73.71 L412.89,73.69 L413.41,73.68 L413.93,73.66 L414.45,73.63 L414.97,73.60 L415.50,73.57 L416.02,73.54 L416.54,73.49 L417.06,73.44 L417.58,73.39 L418.10,73.32 L418.62,73.24 L419.15,73.15 L419.67,73.05 L420.19,72.92 L420.71,72.78 L421.23,72.62 L421.75,72.43 L422.28,72.20 L422.80,71.95 L423.32,71.65 L423.84,71.30 L424.36,70.89 L424.88,70.42 L425.35,67.90 L425.75,62.75 L426.00,57.80 Q426.45,56.20 426.90,57.80 L427.15,62.75 L427.55,67.90 L428.01,70.42 L428.54,70.89 L429.06,71.30 L429.58,71.65 L430.10,71.95 L430.62,72.20 L431.14,72.43 L431.67,72.62 L432.19,72.78 L432.71,72.92 L433.23,73.05 L433.75,73.15 L434.27,73.24 L434.80,73.32 L435.32,73.39 L435.84,73.44 L436.36,73.49 L436.88,73.54 L437.40,73.57 L437.93,73.60 L438.45,73.63 L438.97,73.66 L439.49,73.68 L440.01,73.69 L440.53,73.71 L441.06,73.72 L441.58,73.73 L442.10,73.74" fill="none" stroke="#7f7fd0" stroke-width="0.9" stroke-linejoin="round"/>
<g filter="url(#grain)"><rect x="410.30" y="83.00" width="32.30" height="5.30" fill="url(#Ba83)"/><rect x="410.30" y="88.00" width="32.30" height="5.30" fill="url(#Ba88)"/><rect x="410.30" y="93.00" width="32.30" height="5.30" fill="url(#Ba93)"/><rect x="410.30" y="98.00" width="32.30" height="5.30" fill="url(#Ba98)"/><rect x="410.30" y="103.00" width="32.30" height="5.30" fill="url(#Ba103)"/><rect x="410.30" y="108.00" width="32.30" height="5.30" fill="url(#Ba108)"/><rect x="410.30" y="113.00" width="32.30" height="5.30" fill="url(#Ba113)"/><rect x="410.30" y="118.00" width="32.30" height="5.30" fill="url(#Ba118)"/><rect x="410.30" y="123.00" width="32.30" height="5.30" fill="url(#Ba123)"/><rect x="410.30" y="128.00" width="32.30" height="5.30" fill="url(#Ba128)"/><rect x="410.30" y="133.00" width="32.30" height="5.30" fill="url(#Ba133)"/><rect x="410.30" y="138.00" width="32.30" height="5.30" fill="url(#Ba138)"/><rect x="410.30" y="143.00" width="32.30" height="5.30" fill="url(#Ba143)"/><rect x="410.30" y="148.00" width="32.30" height="5.30" fill="url(#Ba148)"/><rect x="410.30" y="153.00" width="32.30" height="5.30" fill="url(#Ba153)"/><rect x="410.30" y="158.00" width="32.30" height="5.30" fill="url(#Ba158)"/><rect x="410.30" y="163.00" width="32.30" height="5.30" fill="url(#Ba163)"/><rect x="410.30" y="168.00" width="32.30" height="5.30" fill="url(#Ba168)"/><rect x="410.30" y="173.00" width="32.30" height="5.30" fill="url(#Ba173)"/><rect x="410.30" y="178.00" width="32.30" height="5.30" fill="url(#Ba178)"/><rect x="410.30" y="183.00" width="32.30" height="5.30" fill="url(#Ba183)"/><rect x="410.30" y="188.00" width="32.30" height="5.30" fill="url(#Ba188)"/><rect x="410.30" y="193.00" width="32.30" height="5.30" fill="url(#Ba193)"/><rect x="410.30" y="198.00" width="32.30" height="5.30" fill="url(#Ba198)"/><rect x="410.30" y="203.00" width="32.30" height="5.30" fill="url(#Ba203)"/><rect x="410.30" y="208.00" width="32.30" height="5.30" fill="url(#Ba208)"/><rect x="410.30" y="213.00" width="32.30" height="5.30" fill="url(#Ba213)"/><rect x="410.30" y="218.00" width="32.30" height="5.30" fill="url(#Ba218)"/><rect x="410.30" y="223.00" width="32.30" height="5.30" fill="url(#Ba223)"/><rect x="410.30" y="228.00" width="32.30" height="5.30" fill="url(#Ba228)"/><rect x="410.30" y="233.00" width="32.30" height="5.30" fill="url(#Ba233)"/><rect x="410.30" y="238.00" width="32.30" height="5.30" fill="url(#Ba238)"/><rect x="410.30" y="243.00" width="32.30" height="5.30" fill="url(#Ba243)"/><rect x="410.30" y="248.00" width="32.30" height="5.30" fill="url(#Ba248)"/><rect x="410.30" y="253.00" width="32.30" height="5.30" fill="url(#Ba253)"/><rect x="410.30" y="258.00" width="32.30" height="5.30" fill="url(#Ba258)"/><rect x="410.30" y="263.00" width="32.30" height="5.30" fill="url(#Ba263)"/><rect x="410.30" y="268.00" width="32.30" height="5.30" fill="url(#Ba268)"/><rect x="410.30" y="273.00" width="32.30" height="5.30" fill="url(#Ba273)"/><rect x="410.30" y="278.00" width="32.30" height="5.30" fill="url(#Ba278)"/><rect x="410.30" y="283.00" width="32.30" height="5.30" fill="url(#Ba283)"/><rect x="410.30" y="288.00" width="32.30" height="5.30" fill="url(#Ba288)"/></g>
<rect x="410.30" y="83" width="32.30" height="210" fill="none" stroke="#a8a8a8" stroke-width="0.7"/>
<text x="461.15" y="42.70" font-size="8.89" text-anchor="middle">rep 3</text>
<rect x="445.00" y="45.6" width="32.30" height="30" fill="#fff" stroke="#9a9a9a" stroke-width="0.6"/>
<line x1="445.00" y1="48.50" x2="446.20" y2="48.50" stroke="#888" stroke-width="0.5" />
<line x1="445.00" y1="66.20" x2="446.20" y2="66.20" stroke="#888" stroke-width="0.5" />
<line x1="461.15" y1="75.60" x2="461.15" y2="74.40" stroke="#888" stroke-width="0.5" />
<path d="M445.50,73.44 L446.02,73.43 L446.54,73.42 L447.06,73.40 L447.59,73.39 L448.11,73.37 L448.63,73.35 L449.15,73.33 L449.67,73.30 L450.19,73.26 L450.72,73.23 L451.24,73.18 L451.76,73.13 L452.28,73.07 L452.80,73.00 L453.32,72.92 L453.85,72.83 L454.37,72.72 L454.89,72.59 L455.41,72.44 L455.93,72.27 L456.45,72.07 L456.98,71.84 L457.50,71.58 L458.02,71.26 L458.54,70.90 L459.06,70.48 L459.58,69.99 L460.05,67.40 L460.45,61.75 L460.70,56.30 Q461.15,54.70 461.60,56.30 L461.85,61.75 L462.25,67.40 L462.71,69.99 L463.24,70.48 L463.76,70.90 L464.28,71.26 L464.80,71.58 L465.32,71.84 L465.84,72.07 L466.37,72.27 L466.89,72.44 L467.41,72.59 L467.93,72.72 L468.45,72.83 L468.97,72.92 L469.50,73.00 L470.02,73.07 L470.54,73.13 L471.06,73.18 L471.58,73.23 L472.10,73.26 L472.63,73.30 L473.15,73.33 L473.67,73.35 L474.19,73.37 L474.71,73.39 L475.23,73.40 L475.76,73.42 L476.28,73.43 L476.80,73.44" fill="none" stroke="#7f7fd0" stroke-width="0.9" stroke-linejoin="round"/>
<g filter="url(#grain)"><rect x="445.00" y="83.00" width="32.30" height="5.30" fill="url(#Ba83)"/><rect x="445.00" y="88.00" width="32.30" height="5.30" fill="url(#Ba88)"/><rect x="445.00" y="93.00" width="32.30" height="5.30" fill="url(#Ba93)"/><rect x="445.00" y="98.00" width="32.30" height="5.30" fill="url(#Ba98)"/><rect x="445.00" y="103.00" width="32.30" height="5.30" fill="url(#Ba103)"/><rect x="445.00" y="108.00" width="32.30" height="5.30" fill="url(#Ba108)"/><rect x="445.00" y="113.00" width="32.30" height="5.30" fill="url(#Ba113)"/><rect x="445.00" y="118.00" width="32.30" height="5.30" fill="url(#Ba118)"/><rect x="445.00" y="123.00" width="32.30" height="5.30" fill="url(#Ba123)"/><rect x="445.00" y="128.00" width="32.30" height="5.30" fill="url(#Ba128)"/><rect x="445.00" y="133.00" width="32.30" height="5.30" fill="url(#Ba133)"/><rect x="445.00" y="138.00" width="32.30" height="5.30" fill="url(#Ba138)"/><rect x="445.00" y="143.00" width="32.30" height="5.30" fill="url(#Ba143)"/><rect x="445.00" y="148.00" width="32.30" height="5.30" fill="url(#Ba148)"/><rect x="445.00" y="153.00" width="32.30" height="5.30" fill="url(#Ba153)"/><rect x="445.00" y="158.00" width="32.30" height="5.30" fill="url(#Ba158)"/><rect x="445.00" y="163.00" width="32.30" height="5.30" fill="url(#Ba163)"/><rect x="445.00" y="168.00" width="32.30" height="5.30" fill="url(#Ba168)"/><rect x="445.00" y="173.00" width="32.30" height="5.30" fill="url(#Ba173)"/><rect x="445.00" y="178.00" width="32.30" height="5.30" fill="url(#Ba178)"/><rect x="445.00" y="183.00" width="32.30" height="5.30" fill="url(#Ba183)"/><rect x="445.00" y="188.00" width="32.30" height="5.30" fill="url(#Ba188)"/><rect x="445.00" y="193.00" width="32.30" height="5.30" fill="url(#Ba193)"/><rect x="445.00" y="198.00" width="32.30" height="5.30" fill="url(#Ba198)"/><rect x="445.00" y="203.00" width="32.30" height="5.30" fill="url(#Ba203)"/><rect x="445.00" y="208.00" width="32.30" height="5.30" fill="url(#Ba208)"/><rect x="445.00" y="213.00" width="32.30" height="5.30" fill="url(#Ba213)"/><rect x="445.00" y="218.00" width="32.30" height="5.30" fill="url(#Ba218)"/><rect x="445.00" y="223.00" width="32.30" height="5.30" fill="url(#Ba223)"/><rect x="445.00" y="228.00" width="32.30" height="5.30" fill="url(#Ba228)"/><rect x="445.00" y="233.00" width="32.30" height="5.30" fill="url(#Ba233)"/><rect x="445.00" y="238.00" width="32.30" height="5.30" fill="url(#Ba238)"/><rect x="445.00" y="243.00" width="32.30" height="5.30" fill="url(#Ba243)"/><rect x="445.00" y="248.00" width="32.30" height="5.30" fill="url(#Ba248)"/><rect x="445.00" y="253.00" width="32.30" height="5.30" fill="url(#Ba253)"/><rect x="445.00" y="258.00" width="32.30" height="5.30" fill="url(#Ba258)"/><rect x="445.00" y="263.00" width="32.30" height="5.30" fill="url(#Ba263)"/><rect x="445.00" y="268.00" width="32.30" height="5.30" fill="url(#Ba268)"/><rect x="445.00" y="273.00" width="32.30" height="5.30" fill="url(#Ba273)"/><rect x="445.00" y="278.00" width="32.30" height="5.30" fill="url(#Ba278)"/><rect x="445.00" y="283.00" width="32.30" height="5.30" fill="url(#Ba283)"/><rect x="445.00" y="288.00" width="32.30" height="5.30" fill="url(#Ba288)"/></g>
<rect x="445.00" y="83" width="32.30" height="210" fill="none" stroke="#a8a8a8" stroke-width="0.7"/>
<rect x="480.00" y="83.00" width="3.20" height="210.00" fill="url(#cbar)" />
<text x="491.32" y="85.80" font-size="7.0" text-anchor="middle" transform="rotate(-90 491.32 85.80)">0.3</text>
<text x="491.32" y="153.50" font-size="7.0" text-anchor="middle" transform="rotate(-90 491.32 153.50)">0.2</text>
<text x="491.32" y="221.80" font-size="7.0" text-anchor="middle" transform="rotate(-90 491.32 221.80)">0.1</text>
<text x="491.32" y="290.00" font-size="7.0" text-anchor="middle" transform="rotate(-90 491.32 290.00)">0.0</text>
<text x="382.00" y="306.00" font-size="9.1" text-anchor="middle" font-weight="bold" style='font-family:"Liberation Serif", serif'>-10 kb to 10 kb of Lamin B1 binding sites</text>
<text x="34.28" y="50.00" font-size="6.9" text-anchor="middle" transform="rotate(-90 34.28 50.00)">0.25</text>
<text x="34.28" y="67.50" font-size="6.9" text-anchor="middle" transform="rotate(-90 34.28 67.50)">0.15</text>
<text x="266.68" y="50.00" font-size="6.9" text-anchor="middle" transform="rotate(-90 266.68 50.00)">0.25</text>
<text x="266.68" y="67.50" font-size="6.9" text-anchor="middle" transform="rotate(-90 266.68 67.50)">0.15</text>
<text x="24.40" y="12.60" font-size="17.0" text-anchor="start" font-weight="bold">a</text>
<text x="258.80" y="12.60" font-size="17.0" text-anchor="start" font-weight="bold">b</text>
<text x="493.60" y="12.50" font-size="17.0" text-anchor="start" font-weight="bold">c</text>
<line x1="540.20" y1="30.80" x2="540.20" y2="130.10" stroke="#000" stroke-width="1.0" />
<line x1="539.70" y1="129.60" x2="597.70" y2="129.60" stroke="#000" stroke-width="1.0" />
<line x1="537.60" y1="30.80" x2="540.20" y2="30.80" stroke="#000" stroke-width="0.9" />
<text x="532.80" y="33.39" font-size="7.2" text-anchor="end" font-weight="bold" textLength="14.3" lengthAdjust="spacingAndGlyphs">6×10</text>
<text x="533.10" y="30.40" font-size="4.6" font-weight="bold">4</text>
<line x1="537.60" y1="64.00" x2="540.20" y2="64.00" stroke="#000" stroke-width="0.9" />
<text x="532.80" y="66.59" font-size="7.2" text-anchor="end" font-weight="bold" textLength="14.3" lengthAdjust="spacingAndGlyphs">4×10</text>
<text x="533.10" y="63.60" font-size="4.6" font-weight="bold">4</text>
<line x1="537.60" y1="96.40" x2="540.20" y2="96.40" stroke="#000" stroke-width="0.9" />
<text x="532.80" y="98.99" font-size="7.2" text-anchor="end" font-weight="bold" textLength="14.3" lengthAdjust="spacingAndGlyphs">2×10</text>
<text x="533.10" y="96.00" font-size="4.6" font-weight="bold">4</text>
<line x1="537.60" y1="129.60" x2="540.20" y2="129.60" stroke="#000" stroke-width="0.9" />
<text x="535.30" y="132.19" font-size="7.2" text-anchor="end" font-weight="bold">0</text>
<line x1="568.40" y1="129.60" x2="568.40" y2="133.10" stroke="#000" stroke-width="0.9" />
<rect x="548.30" y="47.20" width="16.70" height="82.40" fill="#d9d9d9" />
<rect x="573.00" y="100.10" width="16.00" height="29.50" fill="#f24fdc" />
<text x="514.22" y="78.40" font-size="10.6" text-anchor="middle" font-weight="bold" textLength="100" lengthAdjust="spacingAndGlyphs" transform="rotate(-90 514.22 78.40)"># Total binding sites</text>
<text x="570.80" y="27.01" font-size="7.81" text-anchor="middle">0.0016</text>
<path d="M555.30,35.80 L555.30,31.80 L582.90,31.80 L582.90,35.80" fill="none" stroke="#000" stroke-width="0.8"/>
<line x1="556.20" y1="39.70" x2="556.20" y2="53.30" stroke="#000" stroke-width="0.8" />
<line x1="552.80" y1="39.70" x2="559.60" y2="39.70" stroke="#000" stroke-width="0.8" />
<line x1="552.80" y1="53.30" x2="559.60" y2="53.30" stroke="#000" stroke-width="0.8" />
<circle cx="556.20" cy="41.20" r="2.5" fill="none" stroke="#000" stroke-width="0.8"/>
<circle cx="556.80" cy="42.60" r="2.3" fill="none" stroke="#000" stroke-width="0.8"/>
<circle cx="552.30" cy="45.40" r="2.7" fill="none" stroke="#000" stroke-width="0.8"/>
<circle cx="560.60" cy="54.20" r="2.7" fill="none" stroke="#000" stroke-width="0.8"/>
<line x1="581.00" y1="90.00" x2="581.00" y2="113.50" stroke="#000" stroke-width="0.8" />
<line x1="577.80" y1="90.00" x2="584.20" y2="90.00" stroke="#000" stroke-width="0.8" />
<line x1="577.80" y1="113.50" x2="584.20" y2="113.50" stroke="#000" stroke-width="0.8" />
<rect x="578.50" y="86.00" width="5.0" height="5.0" fill="none" stroke="#000" stroke-width="0.8"/>
<rect x="574.00" y="103.50" width="5.0" height="5.0" fill="none" stroke="#000" stroke-width="0.8"/>
<rect x="582.50" y="108.00" width="5.0" height="5.0" fill="none" stroke="#000" stroke-width="0.8"/>
<text x="531.00" y="142.82" font-size="9.5" text-anchor="middle" font-weight="bold">APH</text>
<text x="558.00" y="141.68" font-size="10.5" text-anchor="middle" font-weight="bold">-</text>
<text x="585.30" y="141.08" font-size="10.5" text-anchor="middle" font-weight="bold">+</text>
<line x1="550.00" y1="144.90" x2="592.60" y2="144.90" stroke="#000" stroke-width="1.9" />
<text x="572.00" y="157.79" font-size="10.53" text-anchor="middle">Lamin A/C</text>
<line x1="624.50" y1="32.60" x2="624.50" y2="127.70" stroke="#000" stroke-width="1.0" />
<line x1="624.00" y1="127.20" x2="685.00" y2="127.20" stroke="#000" stroke-width="1.0" />
<line x1="621.90" y1="32.60" x2="624.50" y2="32.60" stroke="#000" stroke-width="0.9" />
<text x="617.30" y="35.19" font-size="7.2" text-anchor="end" font-weight="bold" textLength="14.3" lengthAdjust="spacingAndGlyphs">4×10</text>
<text x="617.60" y="32.20" font-size="4.6" font-weight="bold">4</text>
<line x1="621.90" y1="56.50" x2="624.50" y2="56.50" stroke="#000" stroke-width="0.9" />
<text x="617.30" y="59.09" font-size="7.2" text-anchor="end" font-weight="bold" textLength="14.3" lengthAdjust="spacingAndGlyphs">3×10</text>
<text x="617.60" y="56.10" font-size="4.6" font-weight="bold">4</text>
<line x1="621.90" y1="80.40" x2="624.50" y2="80.40" stroke="#000" stroke-width="0.9" />
<text x="617.30" y="82.99" font-size="7.2" text-anchor="end" font-weight="bold" textLength="14.3" lengthAdjust="spacingAndGlyphs">2×10</text>
<text x="617.60" y="80.00" font-size="4.6" font-weight="bold">4</text>
<line x1="621.90" y1="104.30" x2="624.50" y2="104.30" stroke="#000" stroke-width="0.9" />
<text x="617.30" y="106.89" font-size="7.2" text-anchor="end" font-weight="bold" textLength="14.3" lengthAdjust="spacingAndGlyphs">1×10</text>
<text x="617.60" y="103.90" font-size="4.6" font-weight="bold">4</text>
<line x1="621.90" y1="127.20" x2="624.50" y2="127.20" stroke="#000" stroke-width="0.9" />
<text x="620.00" y="129.79" font-size="7.2" text-anchor="end" font-weight="bold">0</text>
<rect x="633.10" y="72.30" width="16.70" height="54.90" fill="#d9d9d9" />
<rect x="658.80" y="114.70" width="16.70" height="12.50" fill="#94c1f4" />
<line x1="641.60" y1="127.20" x2="641.60" y2="130.90" stroke="#000" stroke-width="0.9" />
<line x1="667.10" y1="127.20" x2="667.10" y2="130.90" stroke="#000" stroke-width="0.9" />
<text x="653.10" y="41.71" font-size="7.81" text-anchor="middle">0.0013</text>
<path d="M641.40,48.60 L641.40,46.20 L668.00,46.20 L668.00,48.60" fill="none" stroke="#000" stroke-width="0.8"/>
<line x1="641.60" y1="56.00" x2="641.60" y2="88.00" stroke="#000" stroke-width="0.8" />
<line x1="638.40" y1="56.00" x2="644.80" y2="56.00" stroke="#000" stroke-width="0.8" />
<line x1="638.40" y1="88.00" x2="644.80" y2="88.00" stroke="#000" stroke-width="0.8" />
<circle cx="641.60" cy="55.60" r="2.6" fill="none" stroke="#000" stroke-width="0.8"/>
<circle cx="641.60" cy="74.00" r="2.6" fill="none" stroke="#000" stroke-width="0.8"/>
<circle cx="641.60" cy="88.00" r="2.6" fill="none" stroke="#000" stroke-width="0.8"/>
<line x1="667.10" y1="109.00" x2="667.10" y2="119.00" stroke="#000" stroke-width="0.8" />
<line x1="664.10" y1="109.00" x2="670.10" y2="109.00" stroke="#000" stroke-width="0.8" />
<line x1="664.10" y1="119.00" x2="670.10" y2="119.00" stroke="#000" stroke-width="0.8" />
<rect x="665.50" y="107.50" width="5.0" height="5.0" fill="none" stroke="#000" stroke-width="0.8"/>
<rect x="660.50" y="112.50" width="5.0" height="5.0" fill="none" stroke="#000" stroke-width="0.8"/>
<rect x="669.00" y="117.00" width="5.0" height="5.0" fill="none" stroke="#000" stroke-width="0.8"/>
<text x="642.50" y="141.68" font-size="10.5" text-anchor="middle" font-weight="bold">-</text>
<text x="667.70" y="141.08" font-size="10.5" text-anchor="middle" font-weight="bold">+</text>
<line x1="634.20" y1="144.90" x2="676.90" y2="144.90" stroke="#000" stroke-width="1.9" />
<text x="656.20" y="157.64" font-size="10.12" text-anchor="middle">Lamin B1</text>
<text x="493.40" y="178.40" font-size="17.0" text-anchor="start" font-weight="bold">d</text>
<text x="575.40" y="185.89" font-size="10.25" text-anchor="middle" font-weight="bold">RPE-1</text>
<text x="576.00" y="198.48" font-size="10.5" text-anchor="middle">RESSLADs</text>
<ellipse cx="551.8" cy="243.5" rx="40.8" ry="38.3" fill="#9dc3e6"/>
<ellipse cx="595.5" cy="243.9" rx="40.5" ry="38.3" fill="#ffdc7d"/>
<clipPath id="vc1"><ellipse cx="551.8" cy="243.5" rx="40.8" ry="38.3"/></clipPath>
<ellipse cx="595.5" cy="243.9" rx="40.5" ry="38.3" fill="#cec178" clip-path="url(#vc1)"/>
<line x1="575.60" y1="201.40" x2="575.60" y2="225.60" stroke="#000" stroke-width="1.2" />
<path d="M571.90,224.60 L579.30,224.60 L575.60,233.10 Z" fill="#000"/>
<text x="536.40" y="244.61" font-size="9.74" text-anchor="middle">130</text>
<text x="576.00" y="244.79" font-size="10.25" text-anchor="middle" font-weight="bold">355</text>
<text x="617.00" y="244.63" font-size="9.81" text-anchor="middle">131</text>
<text x="544.00" y="296.08" font-size="10.23" text-anchor="middle" font-weight="bold">Lamin A/C</text>
<text x="609.60" y="295.94" font-size="9.82" text-anchor="middle" font-weight="bold">Lamin B1</text>
<text x="24.40" y="331.40" font-size="17.0" text-anchor="start" font-weight="bold">e</text>
<text x="91.20" y="343.73" font-size="11.19" text-anchor="middle" font-weight="bold">RPE-1</text>
<text x="91.60" y="357.42" font-size="11.72" text-anchor="middle">RESSLADs</text>
<path d="M85.30,417.50 L132.71,444.07 A54,55.5 0 1 1 85.30,362.00 Z" fill="#bfbfbf"/>
<path d="M89.10,415.80 L89.10,360.80 A54,55.0 0 0 1 142.31,425.16 Z" fill="#f4b183"/>
<path d="M97.50,419.60 L144.25,428.01 A47.5,47.5 0 0 1 139.20,442.34 Z" fill="#b4c7e7"/>
<text x="116.00" y="389.77" font-size="10.19" text-anchor="middle" font-weight="bold">99</text>
<text x="116.00" y="399.71" font-size="7.81" text-anchor="middle">(27.89%)</text>
<text x="148.00" y="389.79" font-size="10.26" text-anchor="middle" font-weight="bold">CFS</text>
<text x="127.20" y="431.94" font-size="10.39" text-anchor="middle" font-weight="bold">18</text>
<text x="127.20" y="441.61" font-size="7.81" text-anchor="middle">(5.07%)</text>
<text x="146.60" y="436.50" font-size="10.25" text-anchor="start" font-weight="bold" font-style="italic" transform="rotate(14 146.60 436.50)">RFS</text>
<text x="63.80" y="433.67" font-size="9.63" text-anchor="middle" font-weight="bold">238</text>
<text x="63.80" y="443.25" font-size="7.91" text-anchor="middle">(67.04%)</text>
<text x="85.30" y="487.26" font-size="9.9" text-anchor="middle" font-weight="bold">Others</text>
<text x="193.60" y="331.00" font-size="17.0" text-anchor="start" font-weight="bold">f</text>
<text x="227.40" y="333.55" font-size="9.85" text-anchor="middle" font-weight="bold">chr1</text>
<clipPath id="chrclip"><rect x="249.2" y="325.3" width="171.5" height="8.3" rx="2.5"/><rect x="425.5" y="325.3" width="175.5" height="8.3" rx="2.5"/></clipPath>
<g clip-path="url(#chrclip)">
<rect x="249.00" y="325.30" width="4.05" height="8.30" fill="#e8e8e8" />
<rect x="253.00" y="325.30" width="4.05" height="8.30" fill="#888" />
<rect x="257.00" y="325.30" width="1.05" height="8.30" fill="#333" />
<rect x="258.00" y="325.30" width="2.05" height="8.30" fill="#bbb" />
<rect x="260.00" y="325.30" width="2.75" height="8.30" fill="#666" />
<rect x="262.70" y="325.30" width="5.65" height="8.30" fill="#fff" />
<rect x="268.30" y="325.30" width="4.05" height="8.30" fill="#555" />
<rect x="272.30" y="325.30" width="6.45" height="8.30" fill="#fff" />
<rect x="278.70" y="325.30" width="4.05" height="8.30" fill="#555" />
<rect x="282.70" y="325.30" width="5.75" height="8.30" fill="#fff" />
<rect x="288.40" y="325.30" width="3.25" height="8.30" fill="#888" />
<rect x="291.60" y="325.30" width="1.65" height="8.30" fill="#fff" />
<rect x="293.20" y="325.30" width="2.45" height="8.30" fill="#888" />
<rect x="295.60" y="325.30" width="10.45" height="8.30" fill="#fff" />
<rect x="306.00" y="325.30" width="8.05" height="8.30" fill="#999" />
<rect x="314.00" y="325.30" width="1.75" height="8.30" fill="#fff" />
<rect x="315.70" y="325.30" width="4.05" height="8.30" fill="#000" />
<rect x="319.70" y="325.30" width="8.85" height="8.30" fill="#fff" />
<rect x="328.50" y="325.30" width="4.05" height="8.30" fill="#555" />
<rect x="332.50" y="325.30" width="1.55" height="8.30" fill="#fff" />
<rect x="334.00" y="325.30" width="13.05" height="8.30" fill="#999" />
<rect x="347.00" y="325.30" width="2.45" height="8.30" fill="#fff" />
<rect x="349.40" y="325.30" width="19.15" height="8.30" fill="#000" />
<rect x="368.50" y="325.30" width="5.55" height="8.30" fill="#fff" />
<rect x="374.00" y="325.30" width="5.05" height="8.30" fill="#777" />
<rect x="379.00" y="325.30" width="4.05" height="8.30" fill="#fff" />
<rect x="383.00" y="325.30" width="7.05" height="8.30" fill="#777" />
<rect x="390.00" y="325.30" width="3.45" height="8.30" fill="#fff" />
<rect x="393.40" y="325.30" width="7.25" height="8.30" fill="#000" />
<rect x="400.60" y="325.30" width="6.45" height="8.30" fill="#fff" />
<rect x="407.00" y="325.30" width="5.65" height="8.30" fill="#777" />
<rect x="412.60" y="325.30" width="2.45" height="8.30" fill="#fff" />
<rect x="415.00" y="325.30" width="5.75" height="8.30" fill="#777" />
<rect x="425.50" y="325.30" width="24.95" height="8.30" fill="#000" />
<rect x="450.40" y="325.30" width="6.45" height="8.30" fill="#fff" />
<rect x="456.80" y="325.30" width="1.25" height="8.30" fill="#888" />
<rect x="458.00" y="325.30" width="3.55" height="8.30" fill="#fff" />
<rect x="461.50" y="325.30" width="5.05" height="8.30" fill="#777" />
<rect x="466.50" y="325.30" width="5.55" height="8.30" fill="#fff" />
<rect x="472.00" y="325.30" width="2.05" height="8.30" fill="#888" />
<rect x="474.00" y="325.30" width="8.05" height="8.30" fill="#fff" />
<rect x="482.00" y="325.30" width="2.55" height="8.30" fill="#333" />
<rect x="484.50" y="325.30" width="7.55" height="8.30" fill="#fff" />
<rect x="492.00" y="325.30" width="0.55" height="8.30" fill="#000" />
<rect x="492.50" y="325.30" width="4.55" height="8.30" fill="#666" />
<rect x="497.00" y="325.30" width="7.55" height="8.30" fill="#fff" />
<rect x="504.50" y="325.30" width="7.55" height="8.30" fill="#444" />
<rect x="512.00" y="325.30" width="3.55" height="8.30" fill="#fff" />
<rect x="515.50" y="325.30" width="7.05" height="8.30" fill="#333" />
<rect x="522.50" y="325.30" width="11.55" height="8.30" fill="#fff" />
<rect x="534.00" y="325.30" width="5.55" height="8.30" fill="#999" />
<rect x="539.50" y="325.30" width="6.55" height="8.30" fill="#fff" />
<rect x="546.00" y="325.30" width="11.05" height="8.30" fill="#000" />
<rect x="557.00" y="325.30" width="4.55" height="8.30" fill="#888" />
<rect x="561.50" y="325.30" width="5.55" height="8.30" fill="#fff" />
<rect x="567.00" y="325.30" width="5.55" height="8.30" fill="#777" />
<rect x="572.50" y="325.30" width="3.55" height="8.30" fill="#fff" />
<rect x="576.00" y="325.30" width="7.55" height="8.30" fill="#444" />
<rect x="583.50" y="325.30" width="17.55" height="8.30" fill="#fff" />
</g>
<rect x="249.2" y="325.3" width="171.5" height="8.3" rx="2.5" fill="none" stroke="#222" stroke-width="0.7"/>
<rect x="425.5" y="325.3" width="175.5" height="8.3" rx="2.5" fill="none" stroke="#222" stroke-width="0.7"/>
<path d="M420.7,325.6 L423.1,328.5 L425.5,325.6 L425.5,333.3 L423.1,330.5 L420.7,333.3 Z" fill="#d00"/>
<rect x="257.5" y="318.3" width="6.3" height="20" fill="none" stroke="#d42a2a" stroke-width="1.1"/>
<line x1="257.50" y1="338.30" x2="248.60" y2="384.00" stroke="#000" stroke-width="0.8" stroke-dasharray="2.2,1"/>
<line x1="263.80" y1="338.30" x2="621.00" y2="383.50" stroke="#000" stroke-width="0.8" stroke-dasharray="2.2,1"/>
<text x="276.70" y="389.0" font-size="5.4" stroke="#000" stroke-width="0.15" fill="#000" textLength="39.5" lengthAdjust="spacingAndGlyphs" transform="rotate(-90 276.70 389.0)">XR_007067028.1</text>
<text x="312.50" y="389.0" font-size="5.4" stroke="#000" stroke-width="0.15" fill="#000" textLength="39.5" lengthAdjust="spacingAndGlyphs" transform="rotate(-90 312.50 389.0)">XR_007067404.1</text>
<text x="342.30" y="389.0" font-size="5.4" stroke="#000" stroke-width="0.15" fill="#000" textLength="19.0" lengthAdjust="spacingAndGlyphs" transform="rotate(-90 342.30 389.0)">MIR4689</text>
<text x="349.90" y="389.0" font-size="5.4" stroke="#000" stroke-width="0.15" fill="#000" textLength="13.2" lengthAdjust="spacingAndGlyphs" transform="rotate(-90 349.90 389.0)">NPHP4</text>
<text x="366.70" y="389.0" font-size="5.4" stroke="#000" stroke-width="0.15" fill="#000" textLength="20.5" lengthAdjust="spacingAndGlyphs" transform="rotate(-90 366.70 389.0)">KCNAB2</text>
<text x="378.40" y="389.0" font-size="5.4" stroke="#000" stroke-width="0.15" fill="#000" textLength="14.0" lengthAdjust="spacingAndGlyphs" transform="rotate(-90 378.40 389.0)">CHD5</text>
<text x="385.70" y="389.0" font-size="5.4" stroke="#000" stroke-width="0.15" fill="#000" textLength="15.4" lengthAdjust="spacingAndGlyphs" transform="rotate(-90 385.70 389.0)">RPL22</text>
<text x="392.30" y="389.0" font-size="5.4" stroke="#000" stroke-width="0.15" fill="#000" textLength="11.3" lengthAdjust="spacingAndGlyphs" transform="rotate(-90 392.30 389.0)">ICMT</text>
<text x="404.00" y="389.0" font-size="5.4" stroke="#000" stroke-width="0.15" fill="#000" font-weight="bold" textLength="19.0" lengthAdjust="spacingAndGlyphs" transform="rotate(-90 404.00 389.0)">GPR153</text>
<text x="411.00" y="389.0" font-size="5.4" stroke="#000" stroke-width="0.15" fill="#000" font-weight="bold" textLength="16.2" lengthAdjust="spacingAndGlyphs" transform="rotate(-90 411.00 389.0)">ACOT7</text>
<text x="417.80" y="389.0" font-size="5.4" stroke="#000" stroke-width="0.15" fill="#000" textLength="13.2" lengthAdjust="spacingAndGlyphs" transform="rotate(-90 417.80 389.0)">HES2</text>
<text x="428.30" y="389.0" font-size="5.4" stroke="#000" stroke-width="0.15" fill="#000" textLength="23.0" lengthAdjust="spacingAndGlyphs" transform="rotate(-90 428.30 389.0)">PLEKHG5</text>
<text x="434.80" y="389.0" font-size="5.4" stroke="#000" stroke-width="0.15" fill="#000" textLength="13.2" lengthAdjust="spacingAndGlyphs" transform="rotate(-90 434.80 389.0)">NOL9</text>
<text x="443.20" y="389.0" font-size="5.4" stroke="#000" stroke-width="0.15" fill="#000" textLength="19.0" lengthAdjust="spacingAndGlyphs" transform="rotate(-90 443.20 389.0)">ZBTB48</text>
<text x="451.60" y="389.0" font-size="5.4" stroke="#000" stroke-width="0.15" fill="#000" textLength="22.7" lengthAdjust="spacingAndGlyphs" transform="rotate(-90 451.60 389.0)">DNAJC11</text>
<text x="462.60" y="389.0" font-size="5.4" stroke="#555" stroke-width="0.15" fill="#555" textLength="26.4" lengthAdjust="spacingAndGlyphs" transform="rotate(-90 462.60 389.0)">LINC01672</text>
<text x="477.20" y="389.0" font-size="5.4" stroke="#000" stroke-width="0.15" fill="#000" textLength="20.5" lengthAdjust="spacingAndGlyphs" transform="rotate(-90 477.20 389.0)">CAMTA1</text>
<text x="512.20" y="389.0" font-size="5.4" stroke="#000" stroke-width="0.15" fill="#000" textLength="19.8" lengthAdjust="spacingAndGlyphs" transform="rotate(-90 512.20 389.0)">CAMTA1</text>
<text x="547.50" y="389.0" font-size="5.4" stroke="#000" stroke-width="0.15" fill="#000" textLength="37.8" lengthAdjust="spacingAndGlyphs" transform="rotate(-90 547.50 389.0)">XM_047423963.1</text>
<text x="561.10" y="389.0" font-size="5.4" stroke="#000" stroke-width="0.15" fill="#000" textLength="40.2" lengthAdjust="spacingAndGlyphs" transform="rotate(-90 561.10 389.0)">XR_001737887.2</text>
<text x="605.60" y="389.0" font-size="5.4" stroke="#000" stroke-width="0.15" fill="#000" textLength="17.7" lengthAdjust="spacingAndGlyphs" transform="rotate(-90 605.60 389.0)">VAMP3</text>
<text x="616.90" y="389.0" font-size="5.4" stroke="#000" stroke-width="0.15" fill="#000" textLength="12.9" lengthAdjust="spacingAndGlyphs" transform="rotate(-90 616.90 389.0)">UTS2</text>
<rect x="248.60" y="389.60" width="375.00" height="11.00" fill="#f6f6f9" />
<line x1="340.00" y1="395.40" x2="623.60" y2="395.40" stroke="#2a2ad0" stroke-width="0.7" />
<pattern id="exon" patternUnits="userSpaceOnUse" width="1.7" height="10"><rect x="0" y="0" width="1.0" height="10" fill="#2626cc"/><rect x="1.0" y="0" width="0.7" height="10" fill="#8080e0"/></pattern>
<rect x="265.00" y="394.40" width="0.60" height="2.00" fill="url(#exon)" opacity="0.62"/>
<rect x="271.00" y="392.90" width="2.50" height="5.00" fill="url(#exon)" opacity="0.43"/>
<rect x="300.00" y="393.40" width="0.80" height="4.00" fill="url(#exon)" opacity="0.91"/>
<rect x="340.20" y="391.15" width="18.30" height="8.50" fill="url(#exon)" opacity="0.76"/>
<rect x="364.50" y="391.15" width="3.50" height="8.50" fill="url(#exon)" opacity="0.71"/>
<rect x="372.00" y="391.15" width="23.50" height="8.50" fill="url(#exon)" opacity="0.86"/>
<rect x="375.50" y="391.15" width="6.00" height="8.50" fill="url(#exon)" opacity="1.00"/>
<rect x="398.00" y="391.15" width="4.00" height="8.50" fill="url(#exon)" opacity="0.38"/>
<rect x="404.00" y="391.15" width="11.50" height="8.50" fill="url(#exon)" opacity="0.43"/>
<rect x="418.50" y="392.40" width="2.00" height="6.00" fill="url(#exon)" opacity="0.62"/>
<rect x="422.00" y="391.15" width="8.50" height="8.50" fill="url(#exon)" opacity="1.00"/>
<rect x="432.00" y="391.15" width="23.50" height="8.50" fill="url(#exon)" opacity="0.81"/>
<rect x="438.00" y="391.15" width="6.00" height="8.50" fill="url(#exon)" opacity="1.00"/>
<rect x="445.50" y="391.15" width="4.50" height="8.50" fill="url(#exon)" opacity="1.00"/>
<rect x="459.50" y="391.15" width="0.80" height="8.50" fill="url(#exon)" opacity="0.33"/>
<rect x="463.00" y="391.15" width="1.00" height="8.50" fill="url(#exon)" opacity="0.33"/>
<rect x="468.00" y="391.15" width="17.00" height="8.50" fill="url(#exon)" opacity="0.48"/>
<rect x="474.50" y="392.90" width="3.00" height="5.00" fill="url(#exon)" opacity="1.00"/>
<rect x="482.00" y="392.90" width="3.00" height="5.00" fill="url(#exon)" opacity="1.00"/>
<line x1="496.00" y1="393.40" x2="496.00" y2="397.40" stroke="#3434d6" stroke-width="0.5" />
<line x1="500.00" y1="393.40" x2="500.00" y2="397.40" stroke="#3434d6" stroke-width="0.5" />
<line x1="505.00" y1="393.40" x2="505.00" y2="397.40" stroke="#3434d6" stroke-width="0.5" />
<line x1="509.00" y1="393.40" x2="509.00" y2="397.40" stroke="#3434d6" stroke-width="0.5" />
<line x1="513.50" y1="393.40" x2="513.50" y2="397.40" stroke="#3434d6" stroke-width="0.5" />
<line x1="518.00" y1="393.40" x2="518.00" y2="397.40" stroke="#3434d6" stroke-width="0.5" />
<line x1="525.00" y1="393.40" x2="525.00" y2="397.40" stroke="#3434d6" stroke-width="0.5" />
<line x1="531.00" y1="393.40" x2="531.00" y2="397.40" stroke="#3434d6" stroke-width="0.5" />
<line x1="537.00" y1="393.40" x2="537.00" y2="397.40" stroke="#3434d6" stroke-width="0.5" />
<line x1="543.00" y1="393.40" x2="543.00" y2="397.40" stroke="#3434d6" stroke-width="0.5" />
<line x1="549.00" y1="393.40" x2="549.00" y2="397.40" stroke="#3434d6" stroke-width="0.5" />
<line x1="556.00" y1="393.40" x2="556.00" y2="397.40" stroke="#3434d6" stroke-width="0.5" />
<line x1="562.00" y1="393.40" x2="562.00" y2="397.40" stroke="#3434d6" stroke-width="0.5" />
<line x1="568.00" y1="393.40" x2="568.00" y2="397.40" stroke="#3434d6" stroke-width="0.5" />
<line x1="573.00" y1="393.40" x2="573.00" y2="397.40" stroke="#3434d6" stroke-width="0.5" />
<line x1="577.00" y1="393.40" x2="577.00" y2="397.40" stroke="#3434d6" stroke-width="0.5" />
<line x1="581.00" y1="393.40" x2="581.00" y2="397.40" stroke="#3434d6" stroke-width="0.5" />
<line x1="585.00" y1="393.40" x2="585.00" y2="397.40" stroke="#3434d6" stroke-width="0.5" />
<line x1="511.40" y1="391.50" x2="511.40" y2="399.50" stroke="#3434d6" stroke-width="0.7" />
<line x1="547.00" y1="391.50" x2="547.00" y2="399.50" stroke="#3434d6" stroke-width="0.7" />
<line x1="563.50" y1="391.50" x2="563.50" y2="399.50" stroke="#8888e0" stroke-width="0.6" />
<rect x="589.50" y="391.15" width="28.50" height="8.50" fill="url(#exon)" opacity="0.76"/>
<rect x="591.00" y="391.15" width="4.00" height="8.50" fill="url(#exon)" opacity="1.00"/>
<rect x="598.00" y="392.90" width="3.50" height="5.00" fill="url(#exon)" opacity="1.00"/>
<rect x="248.60" y="404.00" width="375.00" height="3.20" fill="#000" />
<text x="223.70" y="408.19" font-size="9.41" text-anchor="middle" font-weight="bold">FRA1A</text>
<text x="256.10" y="416.18" font-size="6.61" text-anchor="middle">5,200,000</text>
<text x="329.30" y="416.65" font-size="7.93" text-anchor="middle" font-weight="bold">#200</text>
<text x="407.40" y="416.56" font-size="7.66" text-anchor="middle" font-weight="bold">#1</text>
<text x="505.50" y="417.25" font-size="8.2" text-anchor="middle" font-weight="bold">#29</text>
<text x="567.00" y="417.25" font-size="8.2" text-anchor="middle" font-weight="bold">#33</text>
<text x="613.50" y="416.69" font-size="6.63" text-anchor="middle">7,900,000</text>
<text x="216.60" y="424.95" font-size="9.59" text-anchor="middle" font-weight="bold" fill="#9b30ff">RESSLAD</text>
<text x="215.20" y="432.50" font-size="6.39" text-anchor="middle" fill="#ff2fc8">A/C binding sites</text>
<text x="216.80" y="439.81" font-size="6.41" text-anchor="middle" fill="#2aaaf0">B1 binding sites</text>
<rect x="272.00" y="420.00" width="118.00" height="6.00" fill="#9a2cff" />
<rect x="399.90" y="420.00" width="16.00" height="6.00" fill="#9a2cff" />
<rect x="485.50" y="420.00" width="39.40" height="6.00" fill="#9a2cff" />
<rect x="534.00" y="420.00" width="61.80" height="6.00" fill="#9a2cff" />
<rect x="255.2" y="427" width="1" height="5.8" fill="#ff4fbf" opacity="0.38"/><rect x="257.8" y="427" width="1" height="5.8" fill="#ff4fbf" opacity="0.45"/><rect x="259.0" y="427" width="1" height="5.8" fill="#ff4fbf" opacity="0.49"/><rect x="261.5" y="427" width="1" height="5.8" fill="#ff4fbf" opacity="0.25"/><rect x="262.8" y="427" width="1" height="5.8" fill="#ff4fbf" opacity="0.30"/><rect x="264.0" y="427" width="1" height="5.8" fill="#ff4fbf" opacity="0.36"/><rect x="269.0" y="427" width="1" height="5.8" fill="#ff4fbf" opacity="0.49"/><rect x="271.5" y="427" width="1" height="5.8" fill="#ff4fbf" opacity="0.31"/><rect x="272.8" y="427" width="1" height="5.8" fill="#ff4fbf" opacity="0.55"/><rect x="276.5" y="427" width="1" height="5.8" fill="#ff4fbf" opacity="0.33"/><rect x="277.8" y="427" width="1" height="5.8" fill="#ff4fbf" opacity="0.63"/><rect x="279.0" y="427" width="1" height="5.8" fill="#ff4fbf" opacity="0.49"/><rect x="280.2" y="427" width="1" height="5.8" fill="#ff4fbf" opacity="0.28"/><rect x="282.8" y="427" width="1" height="5.8" fill="#ff4fbf" opacity="0.34"/><rect x="285.2" y="427" width="1" height="5.8" fill="#ff4fbf" opacity="0.32"/><rect x="286.5" y="427" width="1" height="5.8" fill="#ff4fbf" opacity="0.50"/><rect x="287.8" y="427" width="1" height="5.8" fill="#ff4fbf" opacity="0.35"/><rect x="292.8" y="427" width="1" height="5.8" fill="#ff4fbf" opacity="0.63"/><rect x="295.2" y="427" width="1" height="5.8" fill="#ff4fbf" opacity="0.28"/><rect x="296.5" y="427" width="1" height="5.8" fill="#ff4fbf" opacity="0.48"/><rect x="297.8" y="427" width="1" height="5.8" fill="#ff4fbf" opacity="0.62"/><rect x="300.2" y="427" width="1" height="5.8" fill="#ff4fbf" opacity="0.31"/><rect x="304.0" y="427" width="1" height="5.8" fill="#ff4fbf" opacity="0.62"/><rect x="306.5" y="427" width="1" height="5.8" fill="#ff4fbf" opacity="0.26"/><rect x="307.8" y="427" width="1" height="5.8" fill="#ff4fbf" opacity="0.52"/><rect x="314.0" y="427" width="1" height="5.8" fill="#ff4fbf" opacity="0.26"/><rect x="315.2" y="427" width="1" height="5.8" fill="#ff4fbf" opacity="0.32"/><rect x="321.5" y="427" width="1" height="5.8" fill="#ff4fbf" opacity="0.60"/><rect x="322.8" y="427" width="1" height="5.8" fill="#ff4fbf" opacity="0.49"/><rect x="324.0" y="427" width="1" height="5.8" fill="#ff4fbf" opacity="0.63"/><rect x="330.2" y="427" width="1" height="5.8" fill="#ff4fbf" opacity="0.76"/><rect x="331.5" y="427" width="1" height="5.8" fill="#ff4fbf" opacity="0.60"/><rect x="332.8" y="427" width="1" height="5.8" fill="#ff4fbf" opacity="0.84"/><rect x="334.0" y="427" width="1" height="5.8" fill="#ff4fbf" opacity="0.69"/><rect x="335.2" y="427" width="1" height="5.8" fill="#ff4fbf" opacity="0.30"/><rect x="336.5" y="427" width="1" height="5.8" fill="#ff4fbf" opacity="0.54"/><rect x="337.8" y="427" width="1" height="5.8" fill="#ff4fbf" opacity="0.62"/><rect x="339.0" y="427" width="1" height="5.8" fill="#ff4fbf" opacity="0.26"/><rect x="340.2" y="427" width="1" height="5.8" fill="#ff4fbf" opacity="0.35"/><rect x="341.5" y="427" width="1" height="5.8" fill="#ff4fbf" opacity="0.51"/><rect x="342.8" y="427" width="1" height="5.8" fill="#ff4fbf" opacity="0.37"/><rect x="345.2" y="427" width="1" height="5.8" fill="#ff4fbf" opacity="0.44"/><rect x="346.5" y="427" width="1" height="5.8" fill="#ff4fbf" opacity="0.75"/><rect x="347.8" y="427" width="1" height="5.8" fill="#ff4fbf" opacity="0.35"/><rect x="349.0" y="427" width="1" height="5.8" fill="#ff4fbf" opacity="0.50"/><rect x="350.2" y="427" width="1" height="5.8" fill="#ff4fbf" opacity="0.75"/><rect x="351.5" y="427" width="1" height="5.8" fill="#ff4fbf" opacity="0.29"/><rect x="352.8" y="427" width="1" height="5.8" fill="#ff4fbf" opacity="0.67"/><rect x="354.0" y="427" width="1" height="5.8" fill="#ff4fbf" opacity="0.26"/><rect x="355.2" y="427" width="1" height="5.8" fill="#ff4fbf" opacity="0.74"/><rect x="356.5" y="427" width="1" height="5.8" fill="#ff4fbf" opacity="0.62"/><rect x="357.8" y="427" width="1" height="5.8" fill="#ff4fbf" opacity="0.73"/><rect x="359.0" y="427" width="1" height="5.8" fill="#ff4fbf" opacity="0.37"/><rect x="360.2" y="427" width="1" height="5.8" fill="#ff4fbf" opacity="0.53"/><rect x="361.5" y="427" width="1" height="5.8" fill="#ff4fbf" opacity="0.46"/><rect x="362.8" y="427" width="1" height="5.8" fill="#ff4fbf" opacity="0.70"/><rect x="365.2" y="427" width="1" height="5.8" fill="#ff4fbf" opacity="0.33"/><rect x="369.0" y="427" width="1" height="5.8" fill="#ff4fbf" opacity="0.64"/><rect x="370.2" y="427" width="1" height="5.8" fill="#ff4fbf" opacity="0.63"/><rect x="374.0" y="427" width="1" height="5.8" fill="#ff4fbf" opacity="0.79"/><rect x="375.2" y="427" width="1" height="5.8" fill="#ff4fbf" opacity="0.51"/><rect x="376.5" y="427" width="1" height="5.8" fill="#ff4fbf" opacity="0.27"/><rect x="377.8" y="427" width="1" height="5.8" fill="#ff4fbf" opacity="0.35"/><rect x="379.0" y="427" width="1" height="5.8" fill="#ff4fbf" opacity="0.34"/><rect x="380.2" y="427" width="1" height="5.8" fill="#ff4fbf" opacity="0.66"/><rect x="381.5" y="427" width="1" height="5.8" fill="#ff4fbf" opacity="0.81"/><rect x="382.8" y="427" width="1" height="5.8" fill="#ff4fbf" opacity="0.42"/><rect x="384.0" y="427" width="1" height="5.8" fill="#ff4fbf" opacity="0.75"/><rect x="385.2" y="427" width="1" height="5.8" fill="#ff4fbf" opacity="0.75"/><rect x="386.5" y="427" width="1" height="5.8" fill="#ff4fbf" opacity="0.76"/><rect x="387.8" y="427" width="1" height="5.8" fill="#ff4fbf" opacity="0.59"/><rect x="389.0" y="427" width="1" height="5.8" fill="#ff4fbf" opacity="0.61"/><rect x="394.0" y="427" width="1" height="5.8" fill="#ff4fbf" opacity="0.33"/><rect x="397.8" y="427" width="1" height="5.8" fill="#ff4fbf" opacity="0.31"/><rect x="400.2" y="427" width="1" height="5.8" fill="#ff4fbf" opacity="0.37"/><rect x="401.5" y="427" width="1" height="5.8" fill="#ff4fbf" opacity="0.74"/><rect x="402.8" y="427" width="1" height="5.8" fill="#ff4fbf" opacity="0.68"/><rect x="404.0" y="427" width="1" height="5.8" fill="#ff4fbf" opacity="0.32"/><rect x="405.2" y="427" width="1" height="5.8" fill="#ff4fbf" opacity="0.41"/><rect x="406.5" y="427" width="1" height="5.8" fill="#ff4fbf" opacity="0.49"/><rect x="407.8" y="427" width="1" height="5.8" fill="#ff4fbf" opacity="0.38"/><rect x="409.0" y="427" width="1" height="5.8" fill="#ff4fbf" opacity="0.79"/><rect x="410.2" y="427" width="1" height="5.8" fill="#ff4fbf" opacity="0.72"/><rect x="411.5" y="427" width="1" height="5.8" fill="#ff4fbf" opacity="0.45"/><rect x="412.8" y="427" width="1" height="5.8" fill="#ff4fbf" opacity="0.88"/><rect x="414.0" y="427" width="1" height="5.8" fill="#ff4fbf" opacity="0.40"/><rect x="415.2" y="427" width="1" height="5.8" fill="#ff4fbf" opacity="0.77"/><rect x="416.5" y="427" width="1" height="5.8" fill="#ff4fbf" opacity="0.38"/><rect x="417.8" y="427" width="1" height="5.8" fill="#ff4fbf" opacity="0.31"/><rect x="420.2" y="427" width="1" height="5.8" fill="#ff4fbf" opacity="0.41"/><rect x="422.8" y="427" width="1" height="5.8" fill="#ff4fbf" opacity="0.27"/><rect x="426.5" y="427" width="1" height="5.8" fill="#ff4fbf" opacity="0.51"/><rect x="436.5" y="427" width="1" height="5.8" fill="#ff4fbf" opacity="0.30"/><rect x="437.8" y="427" width="1" height="5.8" fill="#ff4fbf" opacity="0.53"/><rect x="444.0" y="427" width="1" height="5.8" fill="#ff4fbf" opacity="0.54"/><rect x="446.5" y="427" width="1" height="5.8" fill="#ff4fbf" opacity="0.53"/><rect x="454.0" y="427" width="1" height="5.8" fill="#ff4fbf" opacity="0.55"/><rect x="455.2" y="427" width="1" height="5.8" fill="#ff4fbf" opacity="0.46"/><rect x="462.8" y="427" width="1" height="5.8" fill="#ff4fbf" opacity="0.31"/><rect x="464.0" y="427" width="1" height="5.8" fill="#ff4fbf" opacity="0.33"/><rect x="471.5" y="427" width="1" height="5.8" fill="#ff4fbf" opacity="0.40"/><rect x="474.0" y="427" width="1" height="5.8" fill="#ff4fbf" opacity="0.42"/><rect x="475.2" y="427" width="1" height="5.8" fill="#ff4fbf" opacity="0.34"/><rect x="477.8" y="427" width="1" height="5.8" fill="#ff4fbf" opacity="0.25"/><rect x="479.0" y="427" width="1" height="5.8" fill="#ff4fbf" opacity="0.49"/><rect x="481.5" y="427" width="1" height="5.8" fill="#ff4fbf" opacity="0.56"/><rect x="482.8" y="427" width="1" height="5.8" fill="#ff4fbf" opacity="0.54"/><rect x="485.2" y="427" width="1" height="5.8" fill="#ff4fbf" opacity="0.58"/><rect x="486.5" y="427" width="1" height="5.8" fill="#ff4fbf" opacity="0.55"/><rect x="487.8" y="427" width="1" height="5.8" fill="#ff4fbf" opacity="0.63"/><rect x="489.0" y="427" width="1" height="5.8" fill="#ff4fbf" opacity="0.38"/><rect x="490.2" y="427" width="1" height="5.8" fill="#ff4fbf" opacity="0.53"/><rect x="491.5" y="427" width="1" height="5.8" fill="#ff4fbf" opacity="0.62"/><rect x="492.8" y="427" width="1" height="5.8" fill="#ff4fbf" opacity="0.88"/><rect x="494.0" y="427" width="1" height="5.8" fill="#ff4fbf" opacity="0.40"/><rect x="495.2" y="427" width="1" height="5.8" fill="#ff4fbf" opacity="0.64"/><rect x="496.5" y="427" width="1" height="5.8" fill="#ff4fbf" opacity="0.61"/><rect x="497.8" y="427" width="1" height="5.8" fill="#ff4fbf" opacity="0.37"/><rect x="500.2" y="427" width="1" height="5.8" fill="#ff4fbf" opacity="0.29"/><rect x="501.5" y="427" width="1" height="5.8" fill="#ff4fbf" opacity="0.31"/><rect x="502.8" y="427" width="1" height="5.8" fill="#ff4fbf" opacity="0.68"/><rect x="504.0" y="427" width="1" height="5.8" fill="#ff4fbf" opacity="0.55"/><rect x="505.2" y="427" width="1" height="5.8" fill="#ff4fbf" opacity="0.78"/><rect x="506.5" y="427" width="1" height="5.8" fill="#ff4fbf" opacity="0.64"/><rect x="507.8" y="427" width="1" height="5.8" fill="#ff4fbf" opacity="0.41"/><rect x="509.0" y="427" width="1" height="5.8" fill="#ff4fbf" opacity="0.87"/><rect x="510.2" y="427" width="1" height="5.8" fill="#ff4fbf" opacity="0.83"/><rect x="511.5" y="427" width="1" height="5.8" fill="#ff4fbf" opacity="0.80"/><rect x="512.8" y="427" width="1" height="5.8" fill="#ff4fbf" opacity="0.56"/><rect x="514.0" y="427" width="1" height="5.8" fill="#ff4fbf" opacity="0.30"/><rect x="515.2" y="427" width="1" height="5.8" fill="#ff4fbf" opacity="0.44"/><rect x="516.5" y="427" width="1" height="5.8" fill="#ff4fbf" opacity="0.34"/><rect x="517.8" y="427" width="1" height="5.8" fill="#ff4fbf" opacity="0.32"/><rect x="521.5" y="427" width="1" height="5.8" fill="#ff4fbf" opacity="0.45"/><rect x="522.8" y="427" width="1" height="5.8" fill="#ff4fbf" opacity="0.41"/><rect x="524.0" y="427" width="1" height="5.8" fill="#ff4fbf" opacity="0.50"/><rect x="530.2" y="427" width="1" height="5.8" fill="#ff4fbf" opacity="0.36"/><rect x="534.0" y="427" width="1" height="5.8" fill="#ff4fbf" opacity="0.59"/><rect x="535.2" y="427" width="1" height="5.8" fill="#ff4fbf" opacity="0.71"/><rect x="536.5" y="427" width="1" height="5.8" fill="#ff4fbf" opacity="0.65"/><rect x="537.8" y="427" width="1" height="5.8" fill="#ff4fbf" opacity="0.40"/><rect x="539.0" y="427" width="1" height="5.8" fill="#ff4fbf" opacity="0.73"/><rect x="541.5" y="427" width="1" height="5.8" fill="#ff4fbf" opacity="0.70"/><rect x="542.8" y="427" width="1" height="5.8" fill="#ff4fbf" opacity="0.77"/><rect x="544.0" y="427" width="1" height="5.8" fill="#ff4fbf" opacity="0.78"/><rect x="546.5" y="427" width="1" height="5.8" fill="#ff4fbf" opacity="0.76"/><rect x="547.8" y="427" width="1" height="5.8" fill="#ff4fbf" opacity="0.72"/><rect x="549.0" y="427" width="1" height="5.8" fill="#ff4fbf" opacity="0.36"/><rect x="550.2" y="427" width="1" height="5.8" fill="#ff4fbf" opacity="0.86"/><rect x="551.5" y="427" width="1" height="5.8" fill="#ff4fbf" opacity="0.66"/><rect x="552.8" y="427" width="1" height="5.8" fill="#ff4fbf" opacity="0.54"/><rect x="554.0" y="427" width="1" height="5.8" fill="#ff4fbf" opacity="0.32"/><rect x="555.2" y="427" width="1" height="5.8" fill="#ff4fbf" opacity="0.70"/><rect x="556.5" y="427" width="1" height="5.8" fill="#ff4fbf" opacity="0.43"/><rect x="557.8" y="427" width="1" height="5.8" fill="#ff4fbf" opacity="0.60"/><rect x="559.0" y="427" width="1" height="5.8" fill="#ff4fbf" opacity="0.81"/><rect x="560.2" y="427" width="1" height="5.8" fill="#ff4fbf" opacity="0.59"/><rect x="561.5" y="427" width="1" height="5.8" fill="#ff4fbf" opacity="0.39"/><rect x="562.8" y="427" width="1" height="5.8" fill="#ff4fbf" opacity="0.49"/><rect x="564.0" y="427" width="1" height="5.8" fill="#ff4fbf" opacity="0.87"/><rect x="565.2" y="427" width="1" height="5.8" fill="#ff4fbf" opacity="0.55"/><rect x="566.5" y="427" width="1" height="5.8" fill="#ff4fbf" opacity="0.63"/><rect x="567.8" y="427" width="1" height="5.8" fill="#ff4fbf" opacity="0.41"/><rect x="569.0" y="427" width="1" height="5.8" fill="#ff4fbf" opacity="0.65"/><rect x="570.2" y="427" width="1" height="5.8" fill="#ff4fbf" opacity="0.59"/><rect x="571.5" y="427" width="1" height="5.8" fill="#ff4fbf" opacity="0.77"/><rect x="572.8" y="427" width="1" height="5.8" fill="#ff4fbf" opacity="0.42"/><rect x="574.0" y="427" width="1" height="5.8" fill="#ff4fbf" opacity="0.55"/><rect x="575.2" y="427" width="1" height="5.8" fill="#ff4fbf" opacity="0.79"/><rect x="576.5" y="427" width="1" height="5.8" fill="#ff4fbf" opacity="0.83"/><rect x="577.8" y="427" width="1" height="5.8" fill="#ff4fbf" opacity="0.59"/><rect x="579.0" y="427" width="1" height="5.8" fill="#ff4fbf" opacity="0.45"/><rect x="580.2" y="427" width="1" height="5.8" fill="#ff4fbf" opacity="0.54"/><rect x="581.5" y="427" width="1" height="5.8" fill="#ff4fbf" opacity="0.32"/><rect x="584.0" y="427" width="1" height="5.8" fill="#ff4fbf" opacity="0.49"/><rect x="585.2" y="427" width="1" height="5.8" fill="#ff4fbf" opacity="0.54"/><rect x="586.5" y="427" width="1" height="5.8" fill="#ff4fbf" opacity="0.38"/><rect x="587.8" y="427" width="1" height="5.8" fill="#ff4fbf" opacity="0.59"/><rect x="589.0" y="427" width="1" height="5.8" fill="#ff4fbf" opacity="0.67"/><rect x="590.2" y="427" width="1" height="5.8" fill="#ff4fbf" opacity="0.46"/><rect x="591.5" y="427" width="1" height="5.8" fill="#ff4fbf" opacity="0.71"/><rect x="592.8" y="427" width="1" height="5.8" fill="#ff4fbf" opacity="0.34"/><rect x="594.0" y="427" width="1" height="5.8" fill="#ff4fbf" opacity="0.36"/><rect x="595.2" y="427" width="1" height="5.8" fill="#ff4fbf" opacity="0.31"/><rect x="596.5" y="427" width="1" height="5.8" fill="#ff4fbf" opacity="0.31"/><rect x="602.8" y="427" width="1" height="5.8" fill="#ff4fbf" opacity="0.31"/><rect x="606.5" y="427" width="1" height="5.8" fill="#ff4fbf" opacity="0.30"/><rect x="611.5" y="427" width="1" height="5.8" fill="#ff4fbf" opacity="0.36"/>
<rect x="256.5" y="433.9" width="1" height="5.8" fill="#4fc0ff" opacity="0.23"/><rect x="282.8" y="433.9" width="1" height="5.8" fill="#4fc0ff" opacity="0.21"/><rect x="284.0" y="433.9" width="1" height="5.8" fill="#4fc0ff" opacity="0.33"/><rect x="286.5" y="433.9" width="1" height="5.8" fill="#4fc0ff" opacity="0.29"/><rect x="290.2" y="433.9" width="1" height="5.8" fill="#4fc0ff" opacity="0.29"/><rect x="292.8" y="433.9" width="1" height="5.8" fill="#4fc0ff" opacity="0.26"/><rect x="295.2" y="433.9" width="1" height="5.8" fill="#4fc0ff" opacity="0.33"/><rect x="301.5" y="433.9" width="1" height="5.8" fill="#4fc0ff" opacity="0.24"/><rect x="307.8" y="433.9" width="1" height="5.8" fill="#4fc0ff" opacity="0.39"/><rect x="309.0" y="433.9" width="1" height="5.8" fill="#4fc0ff" opacity="0.24"/><rect x="310.2" y="433.9" width="1" height="5.8" fill="#4fc0ff" opacity="0.25"/><rect x="312.8" y="433.9" width="1" height="5.8" fill="#4fc0ff" opacity="0.41"/><rect x="314.0" y="433.9" width="1" height="5.8" fill="#4fc0ff" opacity="0.30"/><rect x="316.5" y="433.9" width="1" height="5.8" fill="#4fc0ff" opacity="0.28"/><rect x="320.2" y="433.9" width="1" height="5.8" fill="#4fc0ff" opacity="0.22"/><rect x="321.5" y="433.9" width="1" height="5.8" fill="#4fc0ff" opacity="0.85"/><rect x="322.8" y="433.9" width="1" height="5.8" fill="#4fc0ff" opacity="0.69"/><rect x="324.0" y="433.9" width="1" height="5.8" fill="#4fc0ff" opacity="0.57"/><rect x="326.5" y="433.9" width="1" height="5.8" fill="#4fc0ff" opacity="0.74"/><rect x="327.8" y="433.9" width="1" height="5.8" fill="#4fc0ff" opacity="0.66"/><rect x="329.0" y="433.9" width="1" height="5.8" fill="#4fc0ff" opacity="0.48"/><rect x="330.2" y="433.9" width="1" height="5.8" fill="#4fc0ff" opacity="0.62"/><rect x="331.5" y="433.9" width="1" height="5.8" fill="#4fc0ff" opacity="0.25"/><rect x="332.8" y="433.9" width="1" height="5.8" fill="#4fc0ff" opacity="0.69"/><rect x="334.0" y="433.9" width="1" height="5.8" fill="#4fc0ff" opacity="0.50"/><rect x="335.2" y="433.9" width="1" height="5.8" fill="#4fc0ff" opacity="0.22"/><rect x="336.5" y="433.9" width="1" height="5.8" fill="#4fc0ff" opacity="0.67"/><rect x="339.0" y="433.9" width="1" height="5.8" fill="#4fc0ff" opacity="0.66"/><rect x="341.5" y="433.9" width="1" height="5.8" fill="#4fc0ff" opacity="0.42"/><rect x="342.8" y="433.9" width="1" height="5.8" fill="#4fc0ff" opacity="0.74"/><rect x="344.0" y="433.9" width="1" height="5.8" fill="#4fc0ff" opacity="0.46"/><rect x="345.2" y="433.9" width="1" height="5.8" fill="#4fc0ff" opacity="0.54"/><rect x="346.5" y="433.9" width="1" height="5.8" fill="#4fc0ff" opacity="0.84"/><rect x="347.8" y="433.9" width="1" height="5.8" fill="#4fc0ff" opacity="0.39"/><rect x="349.0" y="433.9" width="1" height="5.8" fill="#4fc0ff" opacity="0.53"/><rect x="351.5" y="433.9" width="1" height="5.8" fill="#4fc0ff" opacity="0.79"/><rect x="352.8" y="433.9" width="1" height="5.8" fill="#4fc0ff" opacity="0.41"/><rect x="354.0" y="433.9" width="1" height="5.8" fill="#4fc0ff" opacity="0.51"/><rect x="355.2" y="433.9" width="1" height="5.8" fill="#4fc0ff" opacity="0.30"/><rect x="356.5" y="433.9" width="1" height="5.8" fill="#4fc0ff" opacity="0.63"/><rect x="359.0" y="433.9" width="1" height="5.8" fill="#4fc0ff" opacity="0.32"/><rect x="360.2" y="433.9" width="1" height="5.8" fill="#4fc0ff" opacity="0.32"/><rect x="361.5" y="433.9" width="1" height="5.8" fill="#4fc0ff" opacity="0.55"/><rect x="362.8" y="433.9" width="1" height="5.8" fill="#4fc0ff" opacity="0.73"/><rect x="364.0" y="433.9" width="1" height="5.8" fill="#4fc0ff" opacity="0.83"/><rect x="365.2" y="433.9" width="1" height="5.8" fill="#4fc0ff" opacity="0.62"/><rect x="366.5" y="433.9" width="1" height="5.8" fill="#4fc0ff" opacity="0.58"/><rect x="367.8" y="433.9" width="1" height="5.8" fill="#4fc0ff" opacity="0.84"/><rect x="369.0" y="433.9" width="1" height="5.8" fill="#4fc0ff" opacity="0.69"/><rect x="370.2" y="433.9" width="1" height="5.8" fill="#4fc0ff" opacity="0.34"/><rect x="372.8" y="433.9" width="1" height="5.8" fill="#4fc0ff" opacity="0.73"/><rect x="374.0" y="433.9" width="1" height="5.8" fill="#4fc0ff" opacity="0.44"/><rect x="375.2" y="433.9" width="1" height="5.8" fill="#4fc0ff" opacity="0.72"/><rect x="376.5" y="433.9" width="1" height="5.8" fill="#4fc0ff" opacity="0.24"/><rect x="377.8" y="433.9" width="1" height="5.8" fill="#4fc0ff" opacity="0.73"/><rect x="379.0" y="433.9" width="1" height="5.8" fill="#4fc0ff" opacity="0.69"/><rect x="381.5" y="433.9" width="1" height="5.8" fill="#4fc0ff" opacity="0.35"/><rect x="382.8" y="433.9" width="1" height="5.8" fill="#4fc0ff" opacity="0.63"/><rect x="384.0" y="433.9" width="1" height="5.8" fill="#4fc0ff" opacity="0.41"/><rect x="387.8" y="433.9" width="1" height="5.8" fill="#4fc0ff" opacity="0.56"/><rect x="389.0" y="433.9" width="1" height="5.8" fill="#4fc0ff" opacity="0.85"/><rect x="400.2" y="433.9" width="1" height="5.8" fill="#4fc0ff" opacity="0.79"/><rect x="401.5" y="433.9" width="1" height="5.8" fill="#4fc0ff" opacity="0.32"/><rect x="402.8" y="433.9" width="1" height="5.8" fill="#4fc0ff" opacity="0.43"/><rect x="404.0" y="433.9" width="1" height="5.8" fill="#4fc0ff" opacity="0.28"/><rect x="405.2" y="433.9" width="1" height="5.8" fill="#4fc0ff" opacity="0.54"/><rect x="406.5" y="433.9" width="1" height="5.8" fill="#4fc0ff" opacity="0.54"/><rect x="407.8" y="433.9" width="1" height="5.8" fill="#4fc0ff" opacity="0.61"/><rect x="409.0" y="433.9" width="1" height="5.8" fill="#4fc0ff" opacity="0.75"/><rect x="410.2" y="433.9" width="1" height="5.8" fill="#4fc0ff" opacity="0.78"/><rect x="414.0" y="433.9" width="1" height="5.8" fill="#4fc0ff" opacity="0.37"/><rect x="415.2" y="433.9" width="1" height="5.8" fill="#4fc0ff" opacity="0.70"/><rect x="422.8" y="433.9" width="1" height="5.8" fill="#4fc0ff" opacity="0.21"/><rect x="425.2" y="433.9" width="1" height="5.8" fill="#4fc0ff" opacity="0.25"/><rect x="427.8" y="433.9" width="1" height="5.8" fill="#4fc0ff" opacity="0.22"/><rect x="430.2" y="433.9" width="1" height="5.8" fill="#4fc0ff" opacity="0.32"/><rect x="432.8" y="433.9" width="1" height="5.8" fill="#4fc0ff" opacity="0.38"/><rect x="434.0" y="433.9" width="1" height="5.8" fill="#4fc0ff" opacity="0.32"/><rect x="450.2" y="433.9" width="1" height="5.8" fill="#4fc0ff" opacity="0.29"/><rect x="451.5" y="433.9" width="1" height="5.8" fill="#4fc0ff" opacity="0.29"/><rect x="460.2" y="433.9" width="1" height="5.8" fill="#4fc0ff" opacity="0.36"/><rect x="461.5" y="433.9" width="1" height="5.8" fill="#4fc0ff" opacity="0.31"/><rect x="469.0" y="433.9" width="1" height="5.8" fill="#4fc0ff" opacity="0.36"/><rect x="470.2" y="433.9" width="1" height="5.8" fill="#4fc0ff" opacity="0.44"/><rect x="471.5" y="433.9" width="1" height="5.8" fill="#4fc0ff" opacity="0.33"/><rect x="472.8" y="433.9" width="1" height="5.8" fill="#4fc0ff" opacity="0.45"/><rect x="476.5" y="433.9" width="1" height="5.8" fill="#4fc0ff" opacity="0.39"/><rect x="477.8" y="433.9" width="1" height="5.8" fill="#4fc0ff" opacity="0.21"/><rect x="487.8" y="433.9" width="1" height="5.8" fill="#4fc0ff" opacity="0.60"/><rect x="489.0" y="433.9" width="1" height="5.8" fill="#4fc0ff" opacity="0.54"/><rect x="490.2" y="433.9" width="1" height="5.8" fill="#4fc0ff" opacity="0.49"/><rect x="491.5" y="433.9" width="1" height="5.8" fill="#4fc0ff" opacity="0.70"/><rect x="494.0" y="433.9" width="1" height="5.8" fill="#4fc0ff" opacity="0.77"/><rect x="495.2" y="433.9" width="1" height="5.8" fill="#4fc0ff" opacity="0.37"/><rect x="496.5" y="433.9" width="1" height="5.8" fill="#4fc0ff" opacity="0.60"/><rect x="497.8" y="433.9" width="1" height="5.8" fill="#4fc0ff" opacity="0.82"/><rect x="500.2" y="433.9" width="1" height="5.8" fill="#4fc0ff" opacity="0.47"/><rect x="501.5" y="433.9" width="1" height="5.8" fill="#4fc0ff" opacity="0.25"/><rect x="502.8" y="433.9" width="1" height="5.8" fill="#4fc0ff" opacity="0.60"/><rect x="504.0" y="433.9" width="1" height="5.8" fill="#4fc0ff" opacity="0.42"/><rect x="505.2" y="433.9" width="1" height="5.8" fill="#4fc0ff" opacity="0.28"/><rect x="506.5" y="433.9" width="1" height="5.8" fill="#4fc0ff" opacity="0.34"/><rect x="507.8" y="433.9" width="1" height="5.8" fill="#4fc0ff" opacity="0.44"/><rect x="509.0" y="433.9" width="1" height="5.8" fill="#4fc0ff" opacity="0.55"/><rect x="510.2" y="433.9" width="1" height="5.8" fill="#4fc0ff" opacity="0.44"/><rect x="511.5" y="433.9" width="1" height="5.8" fill="#4fc0ff" opacity="0.25"/><rect x="512.8" y="433.9" width="1" height="5.8" fill="#4fc0ff" opacity="0.39"/><rect x="514.0" y="433.9" width="1" height="5.8" fill="#4fc0ff" opacity="0.62"/><rect x="515.2" y="433.9" width="1" height="5.8" fill="#4fc0ff" opacity="0.64"/><rect x="516.5" y="433.9" width="1" height="5.8" fill="#4fc0ff" opacity="0.66"/><rect x="517.8" y="433.9" width="1" height="5.8" fill="#4fc0ff" opacity="0.56"/><rect x="520.2" y="433.9" width="1" height="5.8" fill="#4fc0ff" opacity="0.71"/><rect x="521.5" y="433.9" width="1" height="5.8" fill="#4fc0ff" opacity="0.80"/><rect x="522.8" y="433.9" width="1" height="5.8" fill="#4fc0ff" opacity="0.43"/><rect x="524.0" y="433.9" width="1" height="5.8" fill="#4fc0ff" opacity="0.32"/><rect x="527.8" y="433.9" width="1" height="5.8" fill="#4fc0ff" opacity="0.31"/><rect x="534.0" y="433.9" width="1" height="5.8" fill="#4fc0ff" opacity="0.25"/><rect x="536.5" y="433.9" width="1" height="5.8" fill="#4fc0ff" opacity="0.68"/><rect x="537.8" y="433.9" width="1" height="5.8" fill="#4fc0ff" opacity="0.69"/><rect x="539.0" y="433.9" width="1" height="5.8" fill="#4fc0ff" opacity="0.42"/><rect x="540.2" y="433.9" width="1" height="5.8" fill="#4fc0ff" opacity="0.51"/><rect x="541.5" y="433.9" width="1" height="5.8" fill="#4fc0ff" opacity="0.78"/><rect x="542.8" y="433.9" width="1" height="5.8" fill="#4fc0ff" opacity="0.74"/><rect x="545.2" y="433.9" width="1" height="5.8" fill="#4fc0ff" opacity="0.53"/><rect x="546.5" y="433.9" width="1" height="5.8" fill="#4fc0ff" opacity="0.47"/><rect x="549.0" y="433.9" width="1" height="5.8" fill="#4fc0ff" opacity="0.47"/><rect x="550.2" y="433.9" width="1" height="5.8" fill="#4fc0ff" opacity="0.40"/><rect x="551.5" y="433.9" width="1" height="5.8" fill="#4fc0ff" opacity="0.31"/><rect x="552.8" y="433.9" width="1" height="5.8" fill="#4fc0ff" opacity="0.78"/><rect x="554.0" y="433.9" width="1" height="5.8" fill="#4fc0ff" opacity="0.34"/><rect x="555.2" y="433.9" width="1" height="5.8" fill="#4fc0ff" opacity="0.34"/><rect x="556.5" y="433.9" width="1" height="5.8" fill="#4fc0ff" opacity="0.68"/><rect x="557.8" y="433.9" width="1" height="5.8" fill="#4fc0ff" opacity="0.51"/><rect x="561.5" y="433.9" width="1" height="5.8" fill="#4fc0ff" opacity="0.80"/><rect x="562.8" y="433.9" width="1" height="5.8" fill="#4fc0ff" opacity="0.53"/><rect x="564.0" y="433.9" width="1" height="5.8" fill="#4fc0ff" opacity="0.35"/><rect x="565.2" y="433.9" width="1" height="5.8" fill="#4fc0ff" opacity="0.71"/><rect x="566.5" y="433.9" width="1" height="5.8" fill="#4fc0ff" opacity="0.30"/><rect x="570.2" y="433.9" width="1" height="5.8" fill="#4fc0ff" opacity="0.69"/><rect x="571.5" y="433.9" width="1" height="5.8" fill="#4fc0ff" opacity="0.72"/><rect x="572.8" y="433.9" width="1" height="5.8" fill="#4fc0ff" opacity="0.26"/><rect x="575.2" y="433.9" width="1" height="5.8" fill="#4fc0ff" opacity="0.70"/><rect x="576.5" y="433.9" width="1" height="5.8" fill="#4fc0ff" opacity="0.73"/><rect x="577.8" y="433.9" width="1" height="5.8" fill="#4fc0ff" opacity="0.30"/><rect x="579.0" y="433.9" width="1" height="5.8" fill="#4fc0ff" opacity="0.25"/><rect x="580.2" y="433.9" width="1" height="5.8" fill="#4fc0ff" opacity="0.43"/><rect x="581.5" y="433.9" width="1" height="5.8" fill="#4fc0ff" opacity="0.49"/><rect x="582.8" y="433.9" width="1" height="5.8" fill="#4fc0ff" opacity="0.62"/><rect x="584.0" y="433.9" width="1" height="5.8" fill="#4fc0ff" opacity="0.35"/><rect x="585.2" y="433.9" width="1" height="5.8" fill="#4fc0ff" opacity="0.83"/><rect x="586.5" y="433.9" width="1" height="5.8" fill="#4fc0ff" opacity="0.39"/><rect x="587.8" y="433.9" width="1" height="5.8" fill="#4fc0ff" opacity="0.42"/><rect x="589.0" y="433.9" width="1" height="5.8" fill="#4fc0ff" opacity="0.33"/><rect x="591.5" y="433.9" width="1" height="5.8" fill="#4fc0ff" opacity="0.73"/><rect x="592.8" y="433.9" width="1" height="5.8" fill="#4fc0ff" opacity="0.63"/><rect x="594.0" y="433.9" width="1" height="5.8" fill="#4fc0ff" opacity="0.73"/><rect x="595.2" y="433.9" width="1" height="5.8" fill="#4fc0ff" opacity="0.30"/><rect x="596.5" y="433.9" width="1" height="5.8" fill="#4fc0ff" opacity="0.30"/><rect x="607.8" y="433.9" width="1" height="5.8" fill="#4fc0ff" opacity="0.24"/>
<path d="M248.7,471.5 L248.7,464.5 L249.7,464.0 L250.7,464.7 L251.7,463.8 L252.7,463.4 L253.7,464.2 L254.7,465.6 L255.7,465.1 L256.7,465.0 L257.7,463.7 L258.7,464.9 L259.7,464.5 L260.7,464.5 L261.7,464.6 L262.7,464.6 L263.7,466.4 L264.7,465.7 L265.7,465.2 L266.7,464.8 L267.7,462.6 L268.7,462.6 L269.7,463.2 L270.7,463.1 L271.7,463.1 L272.7,463.1 L273.7,461.0 L274.7,462.9 L275.7,463.5 L276.7,463.3 L277.7,462.6 L278.7,463.4 L279.7,462.1 L280.7,464.4 L281.7,464.1 L282.7,463.0 L283.7,462.1 L284.7,463.8 L285.7,462.6 L286.7,463.4 L287.7,463.2 L288.7,462.0 L289.7,461.6 L290.7,462.0 L291.7,461.4 L292.7,460.5 L293.7,460.8 L294.7,462.2 L295.7,459.6 L296.7,459.4 L297.7,460.9 L298.7,459.6 L299.7,460.1 L300.7,459.6 L301.7,459.0 L302.7,461.5 L303.7,460.0 L304.7,461.6 L305.7,461.9 L306.7,464.1 L307.7,463.3 L308.7,463.1 L309.7,463.7 L310.7,461.9 L311.7,462.1 L312.7,462.7 L313.7,459.9 L314.7,459.3 L315.7,459.5 L316.7,460.7 L317.7,459.8 L318.7,458.3 L319.7,458.2 L320.7,457.3 L321.7,457.7 L322.7,456.0 L323.7,457.5 L324.7,457.7 L325.7,457.4 L326.7,456.3 L327.7,456.5 L328.7,453.2 L329.7,453.6 L330.7,455.5 L331.7,455.2 L332.7,454.3 L333.7,456.2 L334.7,455.4 L335.7,456.2 L336.7,454.9 L337.7,453.8 L338.7,453.0 L339.7,450.6 L340.7,449.8 L341.7,450.0 L342.7,447.8 L343.7,447.0 L344.7,447.3 L345.7,447.8 L346.7,449.8 L347.7,448.8 L348.7,448.7 L349.7,448.3 L350.7,451.1 L351.7,449.6 L352.7,449.1 L353.7,448.9 L354.7,449.0 L355.7,449.5 L356.7,451.1 L357.7,449.5 L358.7,449.3 L359.7,450.7 L360.7,450.1 L361.7,452.4 L362.7,449.8 L363.7,451.1 L364.7,451.9 L365.7,450.9 L366.7,452.7 L367.7,451.2 L368.7,450.6 L369.7,451.2 L370.7,450.1 L371.7,451.4 L372.7,451.0 L373.7,453.1 L374.7,453.0 L375.7,452.1 L376.7,450.8 L377.7,451.6 L378.7,451.7 L379.7,451.9 L380.7,452.3 L381.7,454.5 L382.7,452.6 L383.7,452.7 L384.7,455.7 L385.7,454.9 L386.7,457.2 L387.7,456.4 L388.7,458.9 L389.7,459.2 L390.7,460.6 L391.7,461.4 L392.7,460.8 L393.7,458.3 L394.7,457.3 L395.7,458.0 L396.7,456.8 L397.7,455.5 L398.7,452.5 L399.7,452.1 L400.7,451.3 L401.7,449.5 L402.7,448.7 L403.7,447.6 L404.7,448.9 L405.7,449.9 L406.7,449.5 L407.7,452.4 L408.7,453.4 L409.7,451.6 L410.7,455.2 L411.7,456.1 L412.7,456.1 L413.7,455.1 L414.7,457.9 L415.7,455.2 L416.7,457.4 L417.7,456.1 L418.7,453.9 L419.7,453.8 L420.7,454.9 L421.7,454.3 L422.7,454.5 L423.7,455.1 L424.7,453.4 L425.7,453.1 L426.7,456.2 L427.7,453.8 L428.7,456.8 L429.7,454.8 L430.7,457.3 L431.7,457.5 L432.7,458.2 L433.7,457.6 L434.7,458.9 L435.7,457.2 L436.7,459.0 L437.7,458.3 L438.7,460.1 L439.7,459.7 L440.7,458.7 L441.7,458.8 L442.7,457.2 L443.7,457.2 L444.7,458.8 L445.7,458.4 L446.7,459.5 L447.7,458.6 L448.7,457.1 L449.7,457.7 L450.7,458.9 L451.7,458.2 L452.7,456.9 L453.7,459.7 L454.7,459.9 L455.7,458.0 L456.7,459.6 L457.7,459.4 L458.7,460.9 L459.7,459.7 L460.7,459.6 L461.7,460.3 L462.7,461.7 L463.7,459.0 L464.7,459.0 L465.7,460.5 L466.7,461.2 L467.7,460.1 L468.7,459.8 L469.7,461.0 L470.7,460.7 L471.7,458.5 L472.7,460.9 L473.7,458.8 L474.7,459.1 L475.7,460.6 L476.7,459.3 L477.7,460.4 L478.7,458.5 L479.7,460.5 L480.7,458.4 L481.7,458.3 L482.7,459.3 L483.7,458.7 L484.7,459.3 L485.7,460.3 L486.7,459.4 L487.7,456.3 L488.7,456.3 L489.7,456.1 L490.7,455.0 L491.7,454.8 L492.7,454.0 L493.7,453.0 L494.7,453.8 L495.7,455.8 L496.7,454.6 L497.7,456.1 L498.7,457.0 L499.7,456.1 L500.7,456.3 L501.7,456.2 L502.7,455.3 L503.7,457.2 L504.7,455.9 L505.7,457.3 L506.7,455.6 L507.7,457.3 L508.7,457.1 L509.7,456.7 L510.7,456.2 L511.7,455.4 L512.7,457.4 L513.7,456.6 L514.7,458.0 L515.7,456.9 L516.7,457.2 L517.7,457.8 L518.7,460.2 L519.7,458.8 L520.7,461.4 L521.7,460.3 L522.7,461.4 L523.7,461.1 L524.7,462.4 L525.7,461.3 L526.7,461.7 L527.7,462.9 L528.7,460.2 L529.7,461.1 L530.7,459.7 L531.7,459.2 L532.7,457.9 L533.7,457.4 L534.7,459.7 L535.7,458.9 L536.7,458.4 L537.7,457.9 L538.7,457.9 L539.7,455.2 L540.7,456.2 L541.7,455.6 L542.7,455.5 L543.7,456.3 L544.7,455.5 L545.7,455.8 L546.7,453.0 L547.7,454.3 L548.7,454.0 L549.7,453.9 L550.7,453.2 L551.7,453.6 L552.7,452.0 L553.7,454.0 L554.7,452.5 L555.7,453.2 L556.7,454.2 L557.7,453.7 L558.7,452.6 L559.7,452.5 L560.7,452.9 L561.7,453.9 L562.7,455.1 L563.7,454.9 L564.7,453.6 L565.7,453.7 L566.7,455.0 L567.7,453.5 L568.7,454.0 L569.7,452.9 L570.7,453.5 L571.7,454.7 L572.7,455.2 L573.7,455.1 L574.7,454.4 L575.7,456.3 L576.7,455.4 L577.7,454.1 L578.7,454.1 L579.7,457.4 L580.7,457.9 L581.7,458.2 L582.7,457.7 L583.7,457.3 L584.7,457.2 L585.7,458.2 L586.7,458.6 L587.7,461.2 L588.7,461.5 L589.7,461.7 L590.7,460.3 L591.7,461.0 L592.7,461.4 L593.7,463.5 L594.7,461.4 L595.7,463.5 L596.7,463.3 L597.7,463.1 L598.7,464.6 L599.7,462.7 L600.7,463.7 L601.7,462.8 L602.7,462.8 L603.7,462.8 L604.7,463.8 L605.7,463.2 L606.7,462.9 L607.7,465.6 L608.7,463.5 L609.7,465.2 L610.7,464.6 L611.7,464.6 L612.7,464.3 L613.7,465.1 L614.7,464.8 L615.7,464.2 L616.7,463.7 L617.7,464.0 L618.7,464.0 L619.7,463.4 L620.7,463.2 L621.7,462.1 L622.7,464.1 L623.7,463.0 L623.7,471.5 Z" fill="#d9d9d9"/>
<path d="M248.7,471.5 L248.7,464.6 L249.7,464.1 L250.7,464.8 L251.7,463.9 L252.7,463.5 L253.7,464.3 L254.7,465.7 L255.7,465.2 L256.7,465.1 L257.7,463.8 L258.7,465.0 L259.7,464.6 L260.7,464.6 L261.7,464.7 L262.7,464.7 L263.7,466.5 L264.7,465.8 L265.7,465.3 L266.7,464.9 L267.7,462.7 L268.7,462.7 L269.7,463.3 L270.7,463.2 L271.7,463.2 L272.7,463.2 L273.7,461.1 L274.7,463.0 L275.7,463.6 L276.7,463.4 L277.7,462.7 L278.7,463.5 L279.7,462.2 L280.7,464.5 L281.7,464.2 L282.7,463.1 L283.7,462.2 L284.7,463.9 L285.7,462.7 L286.7,463.5 L287.7,463.3 L288.7,462.1 L289.7,461.8 L290.7,462.2 L291.7,461.6 L292.7,460.6 L293.7,461.0 L294.7,462.4 L295.7,459.8 L296.7,459.6 L297.7,461.1 L298.7,459.8 L299.7,460.3 L300.7,459.8 L301.7,459.2 L302.7,461.7 L303.7,460.3 L304.7,461.8 L305.7,462.1 L306.7,464.3 L307.7,463.6 L308.7,463.4 L309.7,464.1 L310.7,462.3 L311.7,462.5 L312.7,463.1 L313.7,460.4 L314.7,460.0 L315.7,460.2 L316.7,461.5 L317.7,460.7 L318.7,459.3 L319.7,459.3 L320.7,458.5 L321.7,459.2 L322.7,457.9 L323.7,459.8 L324.7,460.4 L325.7,460.5 L326.7,459.8 L327.7,460.5 L328.7,457.6 L329.7,458.4 L330.7,460.4 L331.7,459.6 L332.7,458.2 L333.7,459.5 L334.7,458.3 L335.7,458.6 L336.7,456.7 L337.7,456.1 L338.7,456.6 L339.7,455.4 L340.7,455.8 L341.7,457.3 L342.7,455.1 L343.7,453.8 L344.7,453.5 L345.7,453.6 L346.7,455.1 L347.7,453.5 L348.7,453.0 L349.7,452.6 L350.7,455.5 L351.7,454.0 L352.7,453.6 L353.7,453.3 L354.7,453.5 L355.7,454.1 L356.7,455.8 L357.7,454.4 L358.7,454.3 L359.7,455.7 L360.7,454.9 L361.7,457.1 L362.7,454.3 L363.7,455.5 L364.7,456.1 L365.7,454.9 L366.7,456.5 L367.7,454.9 L368.7,454.1 L369.7,454.5 L370.7,453.4 L371.7,454.9 L372.7,454.7 L373.7,457.0 L374.7,457.1 L375.7,456.4 L376.7,455.4 L377.7,456.4 L378.7,456.7 L379.7,456.9 L380.7,457.3 L381.7,459.5 L382.7,457.7 L383.7,457.6 L384.7,460.1 L385.7,458.9 L386.7,460.0 L387.7,458.1 L388.7,459.4 L389.7,458.5 L390.7,460.0 L391.7,461.5 L392.7,462.4 L393.7,462.1 L394.7,461.9 L395.7,463.3 L396.7,462.8 L397.7,462.4 L398.7,460.0 L399.7,460.4 L400.7,460.3 L401.7,459.3 L402.7,459.2 L403.7,458.3 L404.7,459.2 L405.7,459.8 L406.7,459.1 L407.7,461.5 L408.7,462.1 L409.7,460.0 L410.7,463.2 L411.7,463.6 L412.7,463.3 L413.7,461.9 L414.7,464.4 L415.7,461.6 L416.7,463.6 L417.7,462.2 L418.7,459.9 L419.7,459.7 L420.7,460.6 L421.7,459.9 L422.7,459.9 L423.7,460.4 L424.7,458.5 L425.7,458.1 L426.7,461.0 L427.7,458.5 L428.7,461.3 L429.7,459.3 L430.7,461.6 L431.7,461.7 L432.7,462.2 L433.7,461.4 L434.7,462.6 L435.7,460.9 L436.7,462.5 L437.7,461.8 L438.7,463.7 L439.7,463.6 L440.7,462.9 L441.7,463.4 L442.7,462.1 L443.7,462.0 L444.7,463.5 L445.7,463.1 L446.7,464.1 L447.7,463.2 L448.7,461.7 L449.7,462.2 L450.7,463.3 L451.7,462.5 L452.7,461.1 L453.7,463.7 L454.7,463.8 L455.7,461.7 L456.7,463.2 L457.7,462.8 L458.7,464.2 L459.7,462.9 L460.7,462.7 L461.7,463.6 L462.7,465.1 L463.7,462.5 L464.7,462.7 L465.7,464.3 L466.7,465.1 L467.7,464.1 L468.7,463.9 L469.7,465.2 L470.7,465.1 L471.7,463.0 L472.7,465.5 L473.7,463.3 L474.7,463.5 L475.7,464.9 L476.7,463.4 L477.7,464.3 L478.7,462.2 L479.7,464.2 L480.7,461.9 L481.7,461.6 L482.7,462.4 L483.7,461.7 L484.7,462.2 L485.7,463.0 L486.7,462.3 L487.7,460.3 L488.7,461.2 L489.7,462.0 L490.7,461.9 L491.7,462.6 L492.7,461.9 L493.7,460.8 L494.7,461.3 L495.7,463.2 L496.7,461.7 L497.7,463.0 L498.7,463.7 L499.7,462.7 L500.7,462.8 L501.7,462.5 L502.7,461.6 L503.7,463.3 L504.7,462.0 L505.7,463.2 L506.7,461.4 L507.7,463.0 L508.7,462.7 L509.7,462.2 L510.7,461.6 L511.7,460.7 L512.7,462.6 L513.7,461.5 L514.7,462.6 L515.7,461.3 L516.7,461.3 L517.7,461.7 L518.7,463.9 L519.7,462.2 L520.7,464.6 L521.7,463.2 L522.7,464.0 L523.7,463.5 L524.7,464.6 L525.7,463.2 L526.7,463.8 L527.7,465.2 L528.7,462.7 L529.7,463.8 L530.7,462.6 L531.7,462.2 L532.7,461.2 L533.7,460.9 L534.7,463.4 L535.7,462.8 L536.7,462.4 L537.7,462.2 L538.7,462.4 L539.7,459.8 L540.7,461.0 L541.7,460.6 L542.7,460.7 L543.7,461.6 L544.7,460.9 L545.7,461.4 L546.7,458.7 L547.7,460.2 L548.7,460.1 L549.7,460.2 L550.7,459.6 L551.7,460.1 L552.7,458.6 L553.7,460.5 L554.7,459.0 L555.7,459.6 L556.7,460.6 L557.7,460.1 L558.7,458.9 L559.7,458.8 L560.7,459.1 L561.7,460.1 L562.7,461.2 L563.7,461.0 L564.7,459.6 L565.7,459.7 L566.7,461.0 L567.7,459.5 L568.7,459.9 L569.7,458.8 L570.7,459.4 L571.7,460.6 L572.7,461.1 L573.7,461.0 L574.7,460.3 L575.7,462.1 L576.7,461.2 L577.7,459.9 L578.7,459.8 L579.7,462.7 L580.7,463.0 L581.7,462.9 L582.7,462.2 L583.7,461.5 L584.7,461.1 L585.7,461.8 L586.7,461.8 L587.7,464.2 L588.7,464.2 L589.7,464.1 L590.7,462.4 L591.7,462.9 L592.7,463.2 L593.7,465.2 L594.7,463.0 L595.7,465.0 L596.7,464.8 L597.7,464.5 L598.7,465.9 L599.7,463.9 L600.7,464.8 L601.7,463.8 L602.7,463.8 L603.7,463.7 L604.7,464.6 L605.7,464.0 L606.7,463.8 L607.7,466.5 L608.7,464.4 L609.7,466.2 L610.7,465.5 L611.7,465.6 L612.7,465.3 L613.7,466.2 L614.7,465.9 L615.7,465.4 L616.7,464.9 L617.7,465.2 L618.7,465.3 L619.7,464.7 L620.7,464.5 L621.7,463.4 L622.7,465.5 L623.7,464.4 L623.7,471.5 Z" fill="#de6cb3"/>
<path d="M248.7,500.4 L248.7,494.2 L249.7,494.2 L250.7,493.1 L251.7,492.4 L252.7,491.5 L253.7,493.4 L254.7,492.8 L255.7,493.6 L256.7,492.4 L257.7,493.5 L258.7,491.9 L259.7,493.4 L260.7,493.1 L261.7,491.9 L262.7,492.1 L263.7,492.4 L264.7,490.7 L265.7,491.6 L266.7,492.2 L267.7,490.4 L268.7,491.9 L269.7,491.3 L270.7,491.6 L271.7,489.9 L272.7,489.1 L273.7,491.3 L274.7,491.3 L275.7,490.3 L276.7,489.3 L277.7,489.7 L278.7,491.0 L279.7,490.0 L280.7,492.1 L281.7,491.0 L282.7,489.9 L283.7,491.3 L284.7,490.5 L285.7,492.3 L286.7,492.2 L287.7,490.8 L288.7,491.0 L289.7,490.9 L290.7,491.1 L291.7,491.4 L292.7,488.4 L293.7,489.2 L294.7,489.7 L295.7,488.6 L296.7,489.3 L297.7,487.6 L298.7,489.8 L299.7,488.5 L300.7,487.1 L301.7,488.5 L302.7,487.9 L303.7,488.3 L304.7,489.9 L305.7,489.6 L306.7,490.5 L307.7,492.8 L308.7,492.0 L309.7,489.7 L310.7,491.7 L311.7,489.2 L312.7,489.8 L313.7,491.3 L314.7,490.2 L315.7,489.0 L316.7,488.9 L317.7,488.7 L318.7,487.6 L319.7,490.0 L320.7,486.9 L321.7,487.6 L322.7,488.2 L323.7,486.7 L324.7,488.0 L325.7,485.3 L326.7,487.1 L327.7,486.4 L328.7,485.3 L329.7,485.5 L330.7,483.7 L331.7,484.4 L332.7,483.8 L333.7,482.6 L334.7,482.0 L335.7,482.2 L336.7,480.9 L337.7,479.5 L338.7,481.0 L339.7,479.1 L340.7,479.3 L341.7,479.8 L342.7,478.0 L343.7,477.8 L344.7,478.4 L345.7,480.0 L346.7,479.6 L347.7,479.5 L348.7,480.4 L349.7,482.0 L350.7,480.3 L351.7,481.0 L352.7,482.7 L353.7,482.1 L354.7,481.3 L355.7,481.9 L356.7,481.8 L357.7,480.6 L358.7,481.2 L359.7,480.8 L360.7,482.2 L361.7,480.6 L362.7,481.5 L363.7,482.3 L364.7,482.0 L365.7,480.2 L366.7,480.7 L367.7,479.7 L368.7,479.8 L369.7,480.0 L370.7,480.9 L371.7,481.6 L372.7,479.9 L373.7,479.4 L374.7,481.0 L375.7,480.1 L376.7,480.3 L377.7,482.8 L378.7,481.1 L379.7,483.2 L380.7,482.4 L381.7,484.5 L382.7,484.5 L383.7,482.4 L384.7,483.1 L385.7,485.6 L386.7,484.2 L387.7,483.2 L388.7,483.8 L389.7,483.5 L390.7,482.1 L391.7,481.6 L392.7,480.0 L393.7,480.4 L394.7,479.3 L395.7,480.3 L396.7,479.8 L397.7,478.0 L398.7,479.0 L399.7,476.9 L400.7,476.5 L401.7,477.7 L402.7,476.7 L403.7,478.2 L404.7,478.3 L405.7,479.5 L406.7,478.6 L407.7,481.6 L408.7,480.3 L409.7,482.8 L410.7,484.6 L411.7,485.5 L412.7,486.3 L413.7,485.9 L414.7,486.9 L415.7,486.8 L416.7,484.5 L417.7,486.5 L418.7,486.0 L419.7,484.3 L420.7,484.9 L421.7,483.5 L422.7,482.6 L423.7,483.9 L424.7,482.1 L425.7,484.5 L426.7,485.2 L427.7,483.2 L428.7,485.3 L429.7,482.9 L430.7,485.4 L431.7,483.8 L432.7,486.0 L433.7,484.5 L434.7,486.2 L435.7,483.6 L436.7,483.9 L437.7,486.3 L438.7,485.9 L439.7,485.7 L440.7,484.4 L441.7,484.9 L442.7,485.7 L443.7,484.8 L444.7,487.8 L445.7,487.3 L446.7,488.0 L447.7,487.4 L448.7,486.4 L449.7,485.8 L450.7,487.9 L451.7,486.2 L452.7,487.6 L453.7,487.5 L454.7,487.7 L455.7,486.6 L456.7,486.8 L457.7,488.2 L458.7,486.9 L459.7,488.5 L460.7,487.3 L461.7,487.5 L462.7,486.9 L463.7,487.9 L464.7,487.1 L465.7,486.4 L466.7,486.2 L467.7,487.0 L468.7,487.8 L469.7,486.2 L470.7,485.2 L471.7,485.4 L472.7,485.0 L473.7,485.7 L474.7,486.2 L475.7,485.3 L476.7,483.9 L477.7,484.1 L478.7,484.1 L479.7,484.1 L480.7,483.7 L481.7,485.3 L482.7,483.7 L483.7,483.8 L484.7,483.8 L485.7,483.4 L486.7,483.7 L487.7,482.5 L488.7,483.4 L489.7,484.4 L490.7,482.0 L491.7,483.4 L492.7,482.8 L493.7,481.9 L494.7,481.8 L495.7,484.0 L496.7,482.2 L497.7,484.0 L498.7,482.2 L499.7,483.1 L500.7,482.1 L501.7,483.7 L502.7,484.5 L503.7,482.8 L504.7,483.9 L505.7,485.0 L506.7,483.2 L507.7,483.8 L508.7,484.6 L509.7,485.1 L510.7,483.0 L511.7,484.5 L512.7,483.0 L513.7,483.4 L514.7,486.4 L515.7,484.0 L516.7,487.0 L517.7,486.9 L518.7,487.1 L519.7,487.6 L520.7,487.8 L521.7,487.1 L522.7,487.9 L523.7,487.6 L524.7,490.0 L525.7,490.1 L526.7,489.8 L527.7,487.6 L528.7,488.4 L529.7,487.0 L530.7,488.2 L531.7,487.6 L532.7,488.0 L533.7,486.7 L534.7,486.3 L535.7,486.1 L536.7,483.7 L537.7,484.8 L538.7,482.7 L539.7,483.3 L540.7,482.2 L541.7,484.3 L542.7,481.1 L543.7,483.4 L544.7,483.1 L545.7,481.1 L546.7,481.9 L547.7,479.2 L548.7,479.0 L549.7,478.2 L550.7,478.0 L551.7,477.4 L552.7,479.9 L553.7,477.9 L554.7,479.6 L555.7,478.9 L556.7,478.7 L557.7,479.7 L558.7,479.2 L559.7,481.8 L560.7,480.2 L561.7,481.1 L562.7,481.2 L563.7,481.6 L564.7,481.4 L565.7,480.9 L566.7,480.7 L567.7,483.1 L568.7,481.2 L569.7,482.1 L570.7,483.3 L571.7,482.8 L572.7,484.1 L573.7,483.8 L574.7,483.1 L575.7,482.1 L576.7,483.6 L577.7,483.4 L578.7,484.9 L579.7,484.3 L580.7,485.2 L581.7,485.9 L582.7,485.3 L583.7,486.8 L584.7,487.4 L585.7,485.5 L586.7,488.2 L587.7,488.5 L588.7,488.8 L589.7,487.6 L590.7,487.8 L591.7,487.8 L592.7,488.7 L593.7,490.3 L594.7,489.0 L595.7,488.2 L596.7,489.3 L597.7,488.8 L598.7,490.6 L599.7,491.3 L600.7,491.9 L601.7,489.6 L602.7,490.7 L603.7,490.1 L604.7,492.6 L605.7,492.3 L606.7,491.3 L607.7,492.5 L608.7,491.1 L609.7,491.8 L610.7,490.9 L611.7,490.4 L612.7,492.2 L613.7,491.7 L614.7,490.9 L615.7,491.6 L616.7,490.9 L617.7,491.3 L618.7,489.0 L619.7,489.1 L620.7,489.0 L621.7,490.4 L622.7,490.6 L623.7,488.9 L623.7,500.4 Z" fill="#d9d9d9"/>
<path d="M248.7,500.4 L248.7,494.3 L249.7,494.3 L250.7,493.2 L251.7,492.5 L252.7,491.6 L253.7,493.5 L254.7,492.9 L255.7,493.7 L256.7,492.5 L257.7,493.6 L258.7,492.0 L259.7,493.5 L260.7,493.2 L261.7,492.1 L262.7,492.3 L263.7,492.5 L264.7,490.9 L265.7,491.8 L266.7,492.4 L267.7,490.6 L268.7,492.0 L269.7,491.5 L270.7,491.8 L271.7,490.1 L272.7,489.3 L273.7,491.5 L274.7,491.5 L275.7,490.5 L276.7,489.5 L277.7,489.9 L278.7,491.2 L279.7,490.2 L280.7,492.3 L281.7,491.2 L282.7,490.1 L283.7,491.5 L284.7,490.7 L285.7,492.5 L286.7,492.4 L287.7,491.0 L288.7,491.2 L289.7,491.1 L290.7,491.3 L291.7,491.6 L292.7,488.6 L293.7,489.4 L294.7,489.9 L295.7,488.8 L296.7,489.5 L297.7,487.8 L298.7,490.0 L299.7,488.7 L300.7,487.3 L301.7,488.7 L302.7,488.2 L303.7,488.6 L304.7,490.2 L305.7,489.9 L306.7,490.9 L307.7,493.2 L308.7,492.5 L309.7,490.2 L310.7,492.3 L311.7,489.8 L312.7,490.5 L313.7,492.0 L314.7,490.9 L315.7,489.7 L316.7,489.7 L317.7,489.5 L318.7,488.5 L319.7,490.9 L320.7,487.8 L321.7,488.7 L322.7,489.4 L323.7,488.1 L324.7,489.6 L325.7,487.1 L326.7,489.1 L327.7,488.5 L328.7,487.6 L329.7,488.0 L330.7,486.4 L331.7,487.4 L332.7,487.0 L333.7,486.0 L334.7,485.7 L335.7,486.2 L336.7,485.1 L337.7,483.9 L338.7,485.7 L339.7,484.1 L340.7,484.5 L341.7,485.2 L342.7,483.1 L343.7,482.3 L344.7,482.3 L345.7,483.3 L346.7,482.3 L347.7,481.6 L348.7,482.0 L349.7,483.6 L350.7,481.8 L351.7,482.5 L352.7,484.1 L353.7,483.5 L354.7,482.7 L355.7,483.5 L356.7,483.7 L357.7,482.9 L358.7,483.8 L359.7,483.7 L360.7,485.2 L361.7,483.8 L362.7,484.8 L363.7,485.7 L364.7,485.6 L365.7,483.9 L366.7,484.6 L367.7,483.8 L368.7,484.0 L369.7,484.3 L370.7,485.3 L371.7,485.9 L372.7,484.3 L373.7,483.6 L374.7,485.2 L375.7,484.3 L376.7,484.5 L377.7,487.0 L378.7,485.2 L379.7,487.3 L380.7,486.5 L381.7,488.5 L382.7,488.5 L383.7,486.4 L384.7,487.1 L385.7,489.7 L386.7,489.0 L387.7,488.8 L388.7,490.2 L389.7,490.6 L390.7,490.0 L391.7,490.2 L392.7,489.5 L393.7,490.3 L394.7,489.1 L395.7,490.0 L396.7,489.4 L397.7,487.4 L398.7,488.3 L399.7,486.2 L400.7,485.6 L401.7,486.7 L402.7,485.6 L403.7,486.8 L404.7,486.4 L405.7,487.0 L406.7,485.7 L407.7,488.2 L408.7,486.4 L409.7,488.4 L410.7,489.6 L411.7,490.0 L412.7,490.4 L413.7,489.5 L414.7,490.2 L415.7,490.1 L416.7,487.8 L417.7,489.8 L418.7,489.3 L419.7,487.6 L420.7,488.2 L421.7,486.8 L422.7,485.9 L423.7,487.2 L424.7,485.4 L425.7,487.7 L426.7,488.3 L427.7,486.3 L428.7,488.4 L429.7,485.9 L430.7,488.4 L431.7,486.7 L432.7,488.9 L433.7,487.4 L434.7,489.1 L435.7,486.7 L436.7,487.1 L437.7,489.5 L438.7,489.2 L439.7,489.2 L440.7,487.9 L441.7,488.6 L442.7,489.4 L443.7,488.5 L444.7,491.4 L445.7,490.8 L446.7,491.4 L447.7,490.8 L448.7,489.8 L449.7,489.0 L450.7,491.1 L451.7,489.3 L452.7,490.6 L453.7,490.5 L454.7,490.6 L455.7,489.4 L456.7,489.5 L457.7,490.9 L458.7,489.5 L459.7,491.1 L460.7,489.9 L461.7,490.2 L462.7,489.6 L463.7,490.8 L464.7,490.1 L465.7,489.5 L466.7,489.4 L467.7,490.3 L468.7,491.2 L469.7,489.7 L470.7,488.8 L471.7,489.1 L472.7,488.8 L473.7,489.7 L474.7,490.2 L475.7,489.4 L476.7,488.2 L477.7,488.5 L478.7,488.5 L479.7,488.6 L480.7,488.3 L481.7,490.0 L482.7,488.6 L483.7,488.8 L484.7,488.8 L485.7,488.5 L486.7,489.0 L487.7,487.8 L488.7,488.7 L489.7,489.8 L490.7,487.4 L491.7,488.9 L492.7,488.3 L493.7,487.4 L494.7,487.5 L495.7,489.7 L496.7,487.9 L497.7,489.8 L498.7,488.0 L499.7,488.9 L500.7,487.8 L501.7,489.3 L502.7,490.0 L503.7,488.3 L504.7,489.3 L505.7,490.3 L506.7,488.4 L507.7,488.9 L508.7,489.6 L509.7,490.0 L510.7,487.9 L511.7,489.3 L512.7,487.7 L513.7,487.8 L514.7,490.5 L515.7,487.9 L516.7,490.6 L517.7,490.3 L518.7,490.2 L519.7,490.5 L520.7,490.4 L521.7,489.4 L522.7,490.0 L523.7,489.4 L524.7,491.5 L525.7,491.4 L526.7,491.2 L527.7,489.1 L528.7,490.0 L529.7,488.7 L530.7,490.0 L531.7,489.5 L532.7,490.0 L533.7,488.8 L534.7,488.5 L535.7,488.5 L536.7,486.1 L537.7,487.3 L538.7,485.3 L539.7,486.1 L540.7,485.2 L541.7,487.5 L542.7,484.5 L543.7,487.0 L544.7,486.9 L545.7,485.1 L546.7,486.1 L547.7,483.6 L548.7,483.7 L549.7,483.1 L550.7,483.1 L551.7,482.7 L552.7,485.2 L553.7,483.0 L554.7,484.6 L555.7,483.8 L556.7,483.5 L557.7,484.4 L558.7,483.8 L559.7,486.3 L560.7,484.6 L561.7,485.3 L562.7,485.4 L563.7,485.6 L564.7,485.3 L565.7,484.8 L566.7,484.5 L567.7,486.8 L568.7,484.8 L569.7,485.7 L570.7,486.9 L571.7,486.3 L572.7,487.5 L573.7,487.2 L574.7,486.4 L575.7,485.3 L576.7,486.8 L577.7,486.6 L578.7,487.9 L579.7,487.2 L580.7,488.0 L581.7,488.7 L582.7,487.9 L583.7,489.4 L584.7,489.8 L585.7,487.9 L586.7,490.5 L587.7,490.6 L588.7,490.9 L589.7,489.6 L590.7,489.6 L591.7,489.5 L592.7,490.4 L593.7,491.9 L594.7,490.5 L595.7,489.6 L596.7,490.6 L597.7,490.0 L598.7,491.7 L599.7,492.3 L600.7,492.9 L601.7,490.5 L602.7,491.4 L603.7,490.8 L604.7,493.2 L605.7,492.9 L606.7,491.9 L607.7,493.1 L608.7,491.8 L609.7,492.5 L610.7,491.5 L611.7,491.1 L612.7,492.9 L613.7,492.4 L614.7,491.5 L615.7,492.3 L616.7,491.6 L617.7,491.9 L618.7,489.7 L619.7,489.8 L620.7,489.6 L621.7,491.1 L622.7,491.3 L623.7,489.6 L623.7,500.4 Z" fill="#6cb4db"/>
<path d="M247.6,447.0 L246.0,447.0 L246.0,471.5 L247.6,471.5" fill="none" stroke="#555" stroke-width="0.7"/>
<text x="243.00" y="452.38" font-size="6.6" text-anchor="end" font-weight="bold">0.6</text>
<text x="243.00" y="471.48" font-size="6.6" text-anchor="end" font-weight="bold">0</text>
<path d="M247.6,474.2 L246.0,474.2 L246.0,500.4 L247.6,500.4" fill="none" stroke="#555" stroke-width="0.7"/>
<text x="243.00" y="479.58" font-size="6.6" text-anchor="end" font-weight="bold">0.5</text>
<text x="243.00" y="500.38" font-size="6.6" text-anchor="end" font-weight="bold">0</text>
<text x="213.10" y="461.77" font-size="7.69" text-anchor="middle" font-weight="bold">Lamin A/C</text>
<text x="214.80" y="490.34" font-size="7.61" text-anchor="middle" font-weight="bold">Lamin B1</text>
<rect x="253.00" y="446.50" width="18.40" height="3.80" fill="#d9d9d9" />
<text x="276.70" y="450.93" font-size="7.04" text-anchor="start">DMSO</text>
<rect x="306.50" y="446.50" width="19.20" height="3.80" fill="#de6cb3" />
<text x="330.10" y="450.90" font-size="6.95" text-anchor="start">APH</text>
<rect x="253.00" y="474.90" width="18.40" height="3.80" fill="#d9d9d9" />
<text x="276.70" y="479.33" font-size="7.04" text-anchor="start">DMSO</text>
<rect x="306.50" y="474.90" width="19.20" height="3.80" fill="#6cb4db" />
<text x="330.10" y="479.30" font-size="6.95" text-anchor="start">APH</text>
<line x1="623.90" y1="389.50" x2="623.90" y2="500.40" stroke="#bbb" stroke-width="0.5" />
<line x1="590.80" y1="503.80" x2="623.70" y2="503.80" stroke="#000" stroke-width="1.6" />
<text x="607.00" y="515.61" font-size="7.26" text-anchor="middle">200 kb</text>
<text x="24.50" y="522.60" font-size="17.0" text-anchor="start" font-weight="bold">g</text>
<text x="64.00" y="536.29" font-size="11.36" text-anchor="middle" font-weight="bold" font-style="italic">FRA1A</text>
<text x="51.84" y="593.00" font-size="10.1" text-anchor="middle" font-weight="bold" textLength="75" lengthAdjust="spacingAndGlyphs" transform="rotate(-90 51.84 593.00)"># Binding sites</text>
<line x1="76.80" y1="546.50" x2="76.80" y2="648.00" stroke="#000" stroke-width="1.2" />
<line x1="73.80" y1="546.80" x2="76.80" y2="546.80" stroke="#000" stroke-width="1.0" />
<text x="72.60" y="549.20" font-size="6.67" text-anchor="end" font-weight="bold">2500</text>
<line x1="73.80" y1="566.60" x2="76.80" y2="566.60" stroke="#000" stroke-width="1.0" />
<text x="72.60" y="569.00" font-size="6.67" text-anchor="end" font-weight="bold">2000</text>
<line x1="73.80" y1="587.00" x2="76.80" y2="587.00" stroke="#000" stroke-width="1.0" />
<text x="72.60" y="589.43" font-size="6.76" text-anchor="end" font-weight="bold">1500</text>
<line x1="73.80" y1="607.20" x2="76.80" y2="607.20" stroke="#000" stroke-width="1.0" />
<text x="72.60" y="609.63" font-size="6.76" text-anchor="end" font-weight="bold">1000</text>
<line x1="73.80" y1="627.40" x2="76.80" y2="627.40" stroke="#000" stroke-width="1.0" />
<text x="72.60" y="629.78" font-size="6.62" text-anchor="end" font-weight="bold">500</text>
<line x1="73.80" y1="647.50" x2="76.80" y2="647.50" stroke="#000" stroke-width="1.0" />
<text x="72.60" y="649.95" font-size="6.8" text-anchor="end" font-weight="bold">0</text>
<line x1="76.20" y1="647.50" x2="136.70" y2="647.50" stroke="#000" stroke-width="1.2" />
<line x1="94.90" y1="647.50" x2="94.90" y2="651.00" stroke="#000" stroke-width="1.0" />
<line x1="120.80" y1="647.50" x2="120.80" y2="651.00" stroke="#000" stroke-width="1.0" />
<rect x="86.30" y="565.30" width="17.60" height="82.20" fill="#d9d9d9" />
<rect x="112.20" y="587.40" width="17.60" height="60.10" fill="#f24fdc" />
<text x="109.10" y="552.58" font-size="8.82" text-anchor="middle">0.0003</text>
<path d="M95.30,558.30 L95.30,555.40 L122.90,555.40 L122.90,558.30" fill="none" stroke="#000" stroke-width="0.8"/>
<line x1="94.90" y1="563.60" x2="94.90" y2="566.50" stroke="#000" stroke-width="0.8" />
<line x1="92.70" y1="563.60" x2="97.10" y2="563.60" stroke="#000" stroke-width="0.8" />
<line x1="92.70" y1="566.50" x2="97.10" y2="566.50" stroke="#000" stroke-width="0.8" />
<circle cx="89.70" cy="564.00" r="2.6" fill="none" stroke="#000" stroke-width="1.1"/>
<circle cx="94.90" cy="564.40" r="2.6" fill="none" stroke="#000" stroke-width="1.1"/>
<circle cx="100.40" cy="566.00" r="2.6" fill="none" stroke="#000" stroke-width="1.1"/>
<line x1="120.80" y1="585.00" x2="120.80" y2="591.50" stroke="#000" stroke-width="0.8" />
<line x1="118.40" y1="585.00" x2="123.20" y2="585.00" stroke="#000" stroke-width="0.8" />
<line x1="118.40" y1="591.50" x2="123.20" y2="591.50" stroke="#000" stroke-width="0.8" />
<rect x="113.50" y="581.10" width="5.0" height="5.0" fill="none" stroke="#000" stroke-width="1.1"/>
<rect x="117.80" y="585.70" width="5.0" height="5.0" fill="none" stroke="#000" stroke-width="1.1"/>
<rect x="124.20" y="586.90" width="5.0" height="5.0" fill="none" stroke="#000" stroke-width="1.1"/>
<text x="70.80" y="661.25" font-size="9.85" text-anchor="middle" font-weight="bold">APH</text>
<text x="94.90" y="660.78" font-size="10.5" text-anchor="middle" font-weight="bold">-</text>
<text x="120.80" y="660.38" font-size="10.5" text-anchor="middle" font-weight="bold">+</text>
<line x1="87.50" y1="664.40" x2="129.80" y2="664.40" stroke="#000" stroke-width="1.9" />
<text x="107.10" y="678.06" font-size="10.73" text-anchor="middle">Lamin A/C</text>
<line x1="156.80" y1="546.10" x2="156.80" y2="647.80" stroke="#000" stroke-width="1.2" />
<line x1="153.80" y1="546.40" x2="156.80" y2="546.40" stroke="#000" stroke-width="1.0" />
<text x="152.20" y="548.80" font-size="6.67" text-anchor="end" font-weight="bold">2000</text>
<line x1="153.80" y1="571.50" x2="156.80" y2="571.50" stroke="#000" stroke-width="1.0" />
<text x="152.20" y="573.93" font-size="6.76" text-anchor="end" font-weight="bold">1500</text>
<line x1="153.80" y1="596.50" x2="156.80" y2="596.50" stroke="#000" stroke-width="1.0" />
<text x="152.20" y="598.93" font-size="6.76" text-anchor="end" font-weight="bold">1000</text>
<line x1="153.80" y1="621.90" x2="156.80" y2="621.90" stroke="#000" stroke-width="1.0" />
<text x="152.20" y="624.28" font-size="6.62" text-anchor="end" font-weight="bold">500</text>
<line x1="153.80" y1="647.30" x2="156.80" y2="647.30" stroke="#000" stroke-width="1.0" />
<text x="152.20" y="649.75" font-size="6.8" text-anchor="end" font-weight="bold">0</text>
<line x1="156.20" y1="647.30" x2="218.40" y2="647.30" stroke="#000" stroke-width="1.2" />
<line x1="174.60" y1="647.30" x2="174.60" y2="650.80" stroke="#000" stroke-width="1.0" />
<line x1="200.50" y1="647.30" x2="200.50" y2="650.80" stroke="#000" stroke-width="1.0" />
<rect x="165.80" y="565.30" width="17.20" height="82.00" fill="#d9d9d9" />
<rect x="191.80" y="583.60" width="17.30" height="63.70" fill="#8fbff5" />
<text x="187.90" y="549.98" font-size="8.82" text-anchor="middle">0.0002</text>
<path d="M173.20,558.30 L173.20,554.50 L202.20,554.50 L202.20,558.30" fill="none" stroke="#000" stroke-width="0.8"/>
<circle cx="168.90" cy="562.80" r="2.6" fill="none" stroke="#000" stroke-width="1.1"/>
<circle cx="174.60" cy="562.80" r="2.6" fill="none" stroke="#000" stroke-width="1.1"/>
<circle cx="179.70" cy="565.80" r="2.6" fill="none" stroke="#000" stroke-width="1.1"/>
<line x1="200.50" y1="581.50" x2="200.50" y2="585.50" stroke="#000" stroke-width="0.8" />
<line x1="198.30" y1="581.50" x2="202.70" y2="581.50" stroke="#000" stroke-width="0.8" />
<line x1="198.30" y1="585.50" x2="202.70" y2="585.50" stroke="#000" stroke-width="0.8" />
<rect x="192.80" y="578.80" width="5.0" height="5.0" fill="none" stroke="#000" stroke-width="1.1"/>
<rect x="198.00" y="581.10" width="5.0" height="5.0" fill="none" stroke="#000" stroke-width="1.1"/>
<rect x="203.10" y="583.10" width="5.0" height="5.0" fill="none" stroke="#000" stroke-width="1.1"/>
<text x="174.60" y="660.78" font-size="10.5" text-anchor="middle" font-weight="bold">-</text>
<text x="200.50" y="660.38" font-size="10.5" text-anchor="middle" font-weight="bold">+</text>
<line x1="167.10" y1="664.40" x2="209.80" y2="664.40" stroke="#000" stroke-width="1.9" />
<text x="189.40" y="677.92" font-size="10.34" text-anchor="middle">Lamin B1</text>
<text x="231.00" y="522.40" font-size="17.0" text-anchor="start" font-weight="bold">h</text>
<text x="302.60" y="536.88" font-size="11.9" text-anchor="middle" font-weight="bold">HCT-116</text>
<text x="302.60" y="550.82" font-size="11.72" text-anchor="middle">RESSLADs</text>
<ellipse cx="280.1" cy="600.8" rx="43.0" ry="43.2" fill="#9dc3e6"/>
<ellipse cx="318.8" cy="600.8" rx="42.9" ry="43.2" fill="#ffdc7d"/>
<clipPath id="vc2"><ellipse cx="280.1" cy="600.8" rx="43.0" ry="43.2"/></clipPath>
<ellipse cx="318.8" cy="600.8" rx="42.9" ry="43.2" fill="#cec178" clip-path="url(#vc2)"/>
<line x1="302.10" y1="555.20" x2="302.10" y2="581.10" stroke="#000" stroke-width="1.2" />
<path d="M298.30,580.10 L305.90,580.10 L302.10,589.10 Z" fill="#000"/>
<text x="258.90" y="604.80" font-size="10.0" text-anchor="middle">1152</text>
<text x="300.20" y="604.82" font-size="10.06" text-anchor="middle" font-weight="bold">382</text>
<text x="341.10" y="604.73" font-size="9.81" text-anchor="middle">493</text>
<text x="268.20" y="656.36" font-size="10.44" text-anchor="middle" font-weight="bold">Lamin A/C</text>
<text x="336.70" y="656.22" font-size="10.05" text-anchor="middle" font-weight="bold">Lamin B1</text>
<text x="372.00" y="522.40" font-size="17.0" text-anchor="start" font-weight="bold">i</text>
<text x="387.2" y="538.0" font-size="10.6" textLength="110.9" lengthAdjust="spacingAndGlyphs"><tspan font-weight="bold">HCT-116</tspan> RESSLADs</text>
<path d="M453.30,603.10 L467.21,560.30 A45,45 0 1 1 411.35,586.83 Z" fill="#bfbfbf"/>
<path d="M451.90,602.10 L409.48,585.65 A45.5,45.5 0 0 1 451.90,556.60 Z" fill="#f4b183" stroke="#fff" stroke-width="1.2" stroke-linejoin="miter"/>
<path d="M453.60,597.00 L453.60,556.50 A40.5,40.5 0 0 1 466.05,558.46 Z" fill="#d6dce4" stroke="#fff" stroke-width="1.0" stroke-linejoin="miter"/>
<text x="462.00" y="554.96" font-size="10.16" text-anchor="middle" font-weight="bold">RFS</text>
<text x="459.60" y="565.80" font-size="10.0" text-anchor="middle" font-weight="bold">19</text>
<text x="459.60" y="575.09" font-size="7.75" text-anchor="middle">(4.97%)</text>
<text x="409.80" y="567.00" font-size="10.0" text-anchor="middle" font-weight="bold">CFS</text>
<text x="429.20" y="577.43" font-size="9.81" text-anchor="middle" font-weight="bold">73</text>
<text x="429.20" y="585.41" font-size="7.81" text-anchor="middle">(19.10%)</text>
<text x="456.10" y="623.73" font-size="9.81" text-anchor="middle" font-weight="bold">290</text>
<text x="456.10" y="634.61" font-size="7.81" text-anchor="middle">(75.91%)</text>
<text x="451.90" y="662.26" font-size="9.9" text-anchor="middle" font-weight="bold">Others</text>
<text x="526.60" y="522.40" font-size="17.0" text-anchor="start" font-weight="bold">j</text>
<text x="595.50" y="546.06" font-size="10.17" text-anchor="middle" font-weight="bold">RESSLADs</text>
<ellipse cx="574.0" cy="597.0" rx="43.2" ry="42.3" fill="#f4b183"/>
<ellipse cx="618.7" cy="597.0" rx="43.5" ry="42.3" fill="#83d6f6"/>
<clipPath id="vc3"><ellipse cx="574.0" cy="597.0" rx="43.2" ry="42.3"/></clipPath>
<ellipse cx="618.7" cy="597.0" rx="43.5" ry="42.3" fill="#7aadb8" clip-path="url(#vc3)"/>
<text x="554.20" y="600.25" font-size="10.13" text-anchor="middle">323</text>
<text x="595.50" y="600.23" font-size="10.09" text-anchor="middle" font-weight="bold">32</text>
<text x="638.30" y="600.22" font-size="10.06" text-anchor="middle">350</text>
<text x="565.90" y="653.99" font-size="10.25" text-anchor="middle" font-weight="bold">RPE-1</text>
<text x="630.10" y="654.16" font-size="10.73" text-anchor="middle" font-weight="bold">HCT-116</text>
<text x="24.60" y="690.80" font-size="17.0" text-anchor="start" font-weight="bold">k</text>
<text x="48.74" y="766.50" font-size="10.4" text-anchor="middle" font-weight="bold" textLength="113" lengthAdjust="spacingAndGlyphs" transform="rotate(-90 48.74 766.50)">Relative mRNA level</text>
<line x1="77.50" y1="703.80" x2="77.50" y2="821.80" stroke="#000" stroke-width="1.5" />
<line x1="76.80" y1="818.60" x2="263.10" y2="818.60" stroke="#000" stroke-width="1.5" />
<line x1="72.00" y1="704.42" x2="77.50" y2="704.42" stroke="#000" stroke-width="1.2" />
<text x="70.30" y="707.90" font-size="9.68" text-anchor="end">1.2</text>
<line x1="72.00" y1="723.45" x2="77.50" y2="723.45" stroke="#000" stroke-width="1.2" />
<text x="70.30" y="726.91" font-size="9.61" text-anchor="end">1.0</text>
<line x1="72.00" y1="742.48" x2="77.50" y2="742.48" stroke="#000" stroke-width="1.2" />
<text x="70.30" y="745.86" font-size="9.38" text-anchor="end">0.8</text>
<line x1="72.00" y1="761.51" x2="77.50" y2="761.51" stroke="#000" stroke-width="1.2" />
<text x="70.30" y="764.89" font-size="9.38" text-anchor="end">0.6</text>
<line x1="72.00" y1="780.54" x2="77.50" y2="780.54" stroke="#000" stroke-width="1.2" />
<text x="70.30" y="783.87" font-size="9.24" text-anchor="end">0.4</text>
<line x1="72.00" y1="799.57" x2="77.50" y2="799.57" stroke="#000" stroke-width="1.2" />
<text x="70.30" y="802.95" font-size="9.38" text-anchor="end">0.2</text>
<line x1="72.00" y1="818.60" x2="77.50" y2="818.60" stroke="#000" stroke-width="1.2" />
<text x="70.30" y="821.95" font-size="9.31" text-anchor="end">0.0</text>
<rect x="84.10" y="723.45" width="11.60" height="95.15" fill="#9a9a9a" />
<circle cx="86.50" cy="723.25" r="2.3" fill="#fff" stroke="#000" stroke-width="1.2"/>
<circle cx="89.90" cy="723.25" r="2.3" fill="#fff" stroke="#000" stroke-width="1.2"/>
<circle cx="93.30" cy="723.25" r="2.3" fill="#fff" stroke="#000" stroke-width="1.2"/>
<rect x="119.50" y="723.45" width="11.70" height="95.15" fill="#9a9a9a" />
<circle cx="121.95" cy="723.25" r="2.3" fill="#fff" stroke="#000" stroke-width="1.2"/>
<circle cx="125.35" cy="723.25" r="2.3" fill="#fff" stroke="#000" stroke-width="1.2"/>
<circle cx="128.75" cy="723.25" r="2.3" fill="#fff" stroke="#000" stroke-width="1.2"/>
<rect x="155.40" y="723.45" width="11.40" height="95.15" fill="#9a9a9a" />
<circle cx="157.70" cy="723.25" r="2.3" fill="#fff" stroke="#000" stroke-width="1.2"/>
<circle cx="161.10" cy="723.25" r="2.3" fill="#fff" stroke="#000" stroke-width="1.2"/>
<circle cx="164.50" cy="723.25" r="2.3" fill="#fff" stroke="#000" stroke-width="1.2"/>
<rect x="191.00" y="723.45" width="11.80" height="95.15" fill="#9a9a9a" />
<circle cx="193.50" cy="723.25" r="2.3" fill="#fff" stroke="#000" stroke-width="1.2"/>
<circle cx="196.90" cy="723.25" r="2.3" fill="#fff" stroke="#000" stroke-width="1.2"/>
<circle cx="200.30" cy="723.25" r="2.3" fill="#fff" stroke="#000" stroke-width="1.2"/>
<rect x="226.90" y="723.45" width="11.90" height="95.15" fill="#9a9a9a" />
<circle cx="229.45" cy="723.25" r="2.3" fill="#fff" stroke="#000" stroke-width="1.2"/>
<circle cx="232.85" cy="723.25" r="2.3" fill="#fff" stroke="#000" stroke-width="1.2"/>
<circle cx="236.25" cy="723.25" r="2.3" fill="#fff" stroke="#000" stroke-width="1.2"/>
<rect x="102.10" y="799.57" width="11.40" height="19.03" fill="#f24fdc" />
<rect x="137.60" y="778.64" width="11.60" height="39.96" fill="#f24fdc" />
<rect x="173.40" y="809.28" width="11.50" height="9.32" fill="#f24fdc" />
<rect x="209.00" y="808.89" width="11.70" height="9.71" fill="#f24fdc" />
<rect x="244.60" y="813.56" width="11.70" height="5.04" fill="#f24fdc" />
<line x1="108.10" y1="783.40" x2="108.10" y2="818.60" stroke="#000" stroke-width="1.1" />
<line x1="105.30" y1="783.40" x2="110.90" y2="783.40" stroke="#000" stroke-width="1.1" />
<line x1="105.30" y1="818.60" x2="110.90" y2="818.60" stroke="#000" stroke-width="1.1" />
<line x1="143.60" y1="759.50" x2="143.60" y2="800.00" stroke="#000" stroke-width="1.1" />
<line x1="140.80" y1="759.50" x2="146.40" y2="759.50" stroke="#000" stroke-width="1.1" />
<line x1="140.80" y1="800.00" x2="146.40" y2="800.00" stroke="#000" stroke-width="1.1" />
<line x1="179.10" y1="797.10" x2="179.10" y2="818.60" stroke="#000" stroke-width="1.1" />
<line x1="176.30" y1="797.10" x2="181.90" y2="797.10" stroke="#000" stroke-width="1.1" />
<line x1="176.30" y1="818.60" x2="181.90" y2="818.60" stroke="#000" stroke-width="1.1" />
<line x1="214.70" y1="797.10" x2="214.70" y2="818.60" stroke="#000" stroke-width="1.1" />
<line x1="211.90" y1="797.10" x2="217.50" y2="797.10" stroke="#000" stroke-width="1.1" />
<line x1="211.90" y1="818.60" x2="217.50" y2="818.60" stroke="#000" stroke-width="1.1" />
<line x1="250.80" y1="804.90" x2="250.80" y2="818.60" stroke="#000" stroke-width="1.1" />
<line x1="248.00" y1="804.90" x2="253.60" y2="804.90" stroke="#000" stroke-width="1.1" />
<line x1="248.00" y1="818.60" x2="253.60" y2="818.60" stroke="#000" stroke-width="1.1" />
<rect x="106.15" y="781.75" width="3.9" height="3.9" fill="#fff" stroke="#000" stroke-width="1.2"/>
<rect x="106.15" y="796.85" width="3.9" height="3.9" fill="#fff" stroke="#000" stroke-width="1.2"/>
<rect x="106.15" y="813.25" width="3.9" height="3.9" fill="#fff" stroke="#000" stroke-width="1.2"/>
<rect x="138.25" y="763.15" width="3.9" height="3.9" fill="#fff" stroke="#000" stroke-width="1.2"/>
<rect x="144.65" y="768.15" width="3.9" height="3.9" fill="#fff" stroke="#000" stroke-width="1.2"/>
<rect x="141.65" y="798.25" width="3.9" height="3.9" fill="#fff" stroke="#000" stroke-width="1.2"/>
<rect x="177.15" y="795.15" width="3.9" height="3.9" fill="#fff" stroke="#000" stroke-width="1.2"/>
<rect x="174.05" y="811.15" width="3.9" height="3.9" fill="#fff" stroke="#000" stroke-width="1.2"/>
<rect x="180.25" y="814.65" width="3.9" height="3.9" fill="#fff" stroke="#000" stroke-width="1.2"/>
<rect x="212.75" y="795.15" width="3.9" height="3.9" fill="#fff" stroke="#000" stroke-width="1.2"/>
<rect x="209.65" y="810.55" width="3.9" height="3.9" fill="#fff" stroke="#000" stroke-width="1.2"/>
<rect x="215.85" y="814.65" width="3.9" height="3.9" fill="#fff" stroke="#000" stroke-width="1.2"/>
<rect x="248.85" y="802.95" width="3.9" height="3.9" fill="#fff" stroke="#000" stroke-width="1.2"/>
<rect x="245.15" y="815.25" width="3.9" height="3.9" fill="#fff" stroke="#000" stroke-width="1.2"/>
<rect x="251.95" y="815.25" width="3.9" height="3.9" fill="#fff" stroke="#000" stroke-width="1.2"/>
<text x="95.80" y="713.86" font-size="10.71" text-anchor="middle">0.0012</text>
<text x="129.90" y="713.71" font-size="10.3" text-anchor="middle">0.0080</text>
<text x="166.00" y="713.60" font-size="10.0" text-anchor="middle">0.0001</text>
<text x="203.00" y="713.60" font-size="10.0" text-anchor="middle">0.0001</text>
<text x="243.00" y="713.68" font-size="10.23" text-anchor="middle">&lt;0.0001</text>
<path d="M86.10,718.40 L86.10,715.00 L103.50,715.00 L103.50,718.40" fill="none" stroke="#000" stroke-width="1.0"/>
<path d="M122.10,718.40 L122.10,715.00 L139.60,715.00 L139.60,718.40" fill="none" stroke="#000" stroke-width="1.0"/>
<path d="M158.90,718.40 L158.90,715.00 L176.00,715.00 L176.00,718.40" fill="none" stroke="#000" stroke-width="1.0"/>
<path d="M194.60,718.40 L194.60,715.00 L211.60,715.00 L211.60,718.40" fill="none" stroke="#000" stroke-width="1.0"/>
<path d="M231.60,718.40 L231.60,715.00 L248.50,715.00 L248.50,718.40" fill="none" stroke="#000" stroke-width="1.0"/>
<text x="67.70" y="835.35" font-size="9.85" text-anchor="middle" font-weight="bold">APH</text>
<text x="89.50" y="834.78" font-size="10.5" text-anchor="middle" font-weight="bold">-</text>
<text x="105.10" y="834.58" font-size="10.5" text-anchor="middle" font-weight="bold">+</text>
<text x="125.10" y="834.78" font-size="10.5" text-anchor="middle" font-weight="bold">-</text>
<text x="142.80" y="834.58" font-size="10.5" text-anchor="middle" font-weight="bold">+</text>
<text x="162.20" y="834.78" font-size="10.5" text-anchor="middle" font-weight="bold">-</text>
<text x="179.10" y="834.58" font-size="10.5" text-anchor="middle" font-weight="bold">+</text>
<text x="196.00" y="834.78" font-size="10.5" text-anchor="middle" font-weight="bold">-</text>
<text x="212.50" y="834.58" font-size="10.5" text-anchor="middle" font-weight="bold">+</text>
<text x="232.60" y="834.78" font-size="10.5" text-anchor="middle" font-weight="bold">-</text>
<text x="249.50" y="834.58" font-size="10.5" text-anchor="middle" font-weight="bold">+</text>
<line x1="86.10" y1="837.80" x2="112.10" y2="837.80" stroke="#000" stroke-width="1.1" />
<line x1="121.50" y1="837.80" x2="147.20" y2="837.80" stroke="#000" stroke-width="1.1" />
<line x1="158.00" y1="837.80" x2="183.60" y2="837.80" stroke="#000" stroke-width="1.1" />
<line x1="193.00" y1="837.80" x2="218.20" y2="837.80" stroke="#000" stroke-width="1.1" />
<line x1="229.00" y1="837.80" x2="254.30" y2="837.80" stroke="#000" stroke-width="1.1" />
<text x="96.80" y="849.33" font-size="8.69" text-anchor="middle">ACOT7</text>
<text x="134.60" y="849.40" font-size="8.9" text-anchor="middle">GPR153</text>
<text x="171.70" y="849.41" font-size="8.92" text-anchor="middle">SLURP1</text>
<text x="207.30" y="849.35" font-size="8.75" text-anchor="middle">LYNX1</text>
<text x="242.40" y="849.44" font-size="9.0" text-anchor="middle">LY6D</text>
<line x1="85.10" y1="852.70" x2="150.20" y2="852.70" stroke="#000" stroke-width="1.3" />
<line x1="158.50" y1="852.70" x2="256.30" y2="852.70" stroke="#000" stroke-width="1.3" />
<text x="117.20" y="864.94" font-size="10.1" text-anchor="middle" font-weight="bold">RESSLAD#1</text>
<text x="207.40" y="865.04" font-size="10.38" text-anchor="middle" font-weight="bold">RESSLAD#2</text>
<text x="285.40" y="689.60" font-size="17.0" text-anchor="start" font-weight="bold">l</text>
<line x1="298.70" y1="704.90" x2="429.00" y2="704.90" stroke="#000" stroke-width="1.3" />
<path d="M428.0,702.6 L434.5,704.9 L428.0,707.2 Z" fill="#000"/>
<circle cx="304.5" cy="704.9" r="3.3" fill="#000"/>
<line x1="304.50" y1="704.90" x2="304.50" y2="714.70" stroke="#000" stroke-width="1.0" />
<circle cx="350.1" cy="704.9" r="3.3" fill="#000"/>
<line x1="350.10" y1="704.90" x2="350.10" y2="714.70" stroke="#000" stroke-width="1.0" />
<circle cx="385.8" cy="704.9" r="3.3" fill="#000"/>
<line x1="385.80" y1="704.90" x2="385.80" y2="714.70" stroke="#000" stroke-width="1.0" />
<circle cx="413.1" cy="704.9" r="3.3" fill="#000"/>
<line x1="413.10" y1="704.90" x2="413.10" y2="714.70" stroke="#000" stroke-width="1.0" />
<text x="304.50" y="700.38" font-size="8.83" text-anchor="middle">0 h</text>
<text x="350.10" y="700.37" font-size="8.8" text-anchor="middle">32 h</text>
<text x="385.10" y="700.34" font-size="8.71" text-anchor="middle">48 h</text>
<text x="413.10" y="700.30" font-size="8.62" text-anchor="middle">48.5 h</text>
<text x="306.9" y="723.6" font-size="8.7" text-anchor="middle" textLength="23.3" lengthAdjust="spacingAndGlyphs"><tspan fill="#888">±</tspan>APH</text>
<text x="350.10" y="723.60" font-size="8.62" text-anchor="middle">CDK1-i</text>
<text x="385.60" y="723.64" font-size="8.73" text-anchor="middle">Wash</text>
<text x="415.50" y="723.66" font-size="8.78" text-anchor="middle">Mitotic</text>
<text x="415.50" y="734.28" font-size="8.82" text-anchor="middle">shake-off</text>
<text x="436.80" y="703.76" font-size="8.79" text-anchor="start">Anti-γH2AX</text>
<text x="436.80" y="714.83" font-size="8.98" text-anchor="start">CUT&amp;Tag qPCR</text>
<text x="320.40" y="783.90" font-size="8.6" text-anchor="middle" font-weight="bold" textLength="61.8" lengthAdjust="spacingAndGlyphs" transform="rotate(-90 320.40 783.90)">γH2AX binding</text>
<line x1="335.20" y1="728.30" x2="335.20" y2="840.90" stroke="#000" stroke-width="1.2" />
<line x1="334.70" y1="840.40" x2="443.40" y2="840.40" stroke="#000" stroke-width="1.2" />
<line x1="332.40" y1="741.40" x2="335.20" y2="741.40" stroke="#000" stroke-width="1.0" />
<text x="330.00" y="743.78" font-size="6.6" text-anchor="end" font-weight="bold">4</text>
<line x1="332.40" y1="766.15" x2="335.20" y2="766.15" stroke="#000" stroke-width="1.0" />
<text x="330.00" y="768.53" font-size="6.6" text-anchor="end" font-weight="bold">3</text>
<line x1="332.40" y1="790.90" x2="335.20" y2="790.90" stroke="#000" stroke-width="1.0" />
<text x="330.00" y="793.28" font-size="6.6" text-anchor="end" font-weight="bold">2</text>
<line x1="332.40" y1="815.65" x2="335.20" y2="815.65" stroke="#000" stroke-width="1.0" />
<text x="330.00" y="818.03" font-size="6.6" text-anchor="end" font-weight="bold">1</text>
<line x1="332.40" y1="840.40" x2="335.20" y2="840.40" stroke="#000" stroke-width="1.0" />
<text x="330.00" y="842.78" font-size="6.6" text-anchor="end" font-weight="bold">0</text>
<rect x="344.40" y="815.65" width="17.50" height="24.75" fill="#9a9a9a" />
<rect x="370.70" y="760.00" width="17.50" height="80.40" fill="#f24fdc" />
<rect x="397.00" y="815.65" width="17.50" height="24.75" fill="#9a9a9a" />
<rect x="423.70" y="777.10" width="17.50" height="63.30" fill="#f24fdc" />
<text x="364.10" y="735.07" font-size="7.98" text-anchor="middle">0.0017</text>
<path d="M347.30,741.40 L347.30,738.60 L380.50,738.60 L380.50,741.40" fill="none" stroke="#000" stroke-width="1.0"/>
<text x="418.90" y="760.26" font-size="7.95" text-anchor="middle">0.0005</text>
<path d="M402.90,766.80 L402.90,764.00 L433.10,764.00 L433.10,766.80" fill="none" stroke="#000" stroke-width="1.0"/>
<line x1="379.90" y1="747.60" x2="379.90" y2="772.70" stroke="#000" stroke-width="1.1" />
<line x1="377.10" y1="747.60" x2="382.70" y2="747.60" stroke="#000" stroke-width="1.1" />
<line x1="377.10" y1="772.70" x2="382.70" y2="772.70" stroke="#000" stroke-width="1.1" />
<rect x="377.95" y="743.15" width="3.9" height="3.9" fill="#fff" stroke="#000" stroke-width="1.2"/>
<rect x="373.15" y="765.75" width="3.9" height="3.9" fill="#fff" stroke="#000" stroke-width="1.2"/>
<rect x="381.85" y="765.75" width="3.9" height="3.9" fill="#fff" stroke="#000" stroke-width="1.2"/>
<line x1="433.10" y1="770.30" x2="433.10" y2="784.00" stroke="#000" stroke-width="1.1" />
<line x1="430.50" y1="770.30" x2="435.70" y2="770.30" stroke="#000" stroke-width="1.1" />
<line x1="430.50" y1="784.00" x2="435.70" y2="784.00" stroke="#000" stroke-width="1.1" />
<rect x="431.15" y="768.35" width="3.9" height="3.9" fill="#fff" stroke="#000" stroke-width="1.2"/>
<rect x="426.75" y="777.35" width="3.9" height="3.9" fill="#fff" stroke="#000" stroke-width="1.2"/>
<rect x="434.45" y="780.45" width="3.9" height="3.9" fill="#fff" stroke="#000" stroke-width="1.2"/>
<circle cx="347.70" cy="814.80" r="2.1" fill="#fff" stroke="#000" stroke-width="1.1"/>
<circle cx="353.60" cy="815.00" r="2.1" fill="#fff" stroke="#000" stroke-width="1.1"/>
<circle cx="358.60" cy="817.40" r="2.1" fill="#fff" stroke="#000" stroke-width="1.1"/>
<circle cx="400.20" cy="814.10" r="2.1" fill="#fff" stroke="#000" stroke-width="1.1"/>
<circle cx="405.70" cy="815.90" r="2.1" fill="#fff" stroke="#000" stroke-width="1.1"/>
<circle cx="411.20" cy="817.40" r="2.1" fill="#fff" stroke="#000" stroke-width="1.1"/>
<line x1="348.50" y1="814.80" x2="358.50" y2="814.80" stroke="#000" stroke-width="1.0" />
<line x1="401.00" y1="815.30" x2="411.00" y2="815.30" stroke="#000" stroke-width="1.0" />
<text x="319.50" y="853.28" font-size="8.56" text-anchor="middle" font-weight="bold">APH</text>
<text x="353.20" y="853.20" font-size="10.0" text-anchor="middle" font-weight="bold">-</text>
<text x="379.40" y="853.00" font-size="10.0" text-anchor="middle" font-weight="bold">+</text>
<text x="406.20" y="853.20" font-size="10.0" text-anchor="middle" font-weight="bold">-</text>
<text x="432.40" y="853.00" font-size="10.0" text-anchor="middle" font-weight="bold">+</text>
<line x1="347.30" y1="857.00" x2="387.80" y2="857.00" stroke="#000" stroke-width="1.1" />
<line x1="399.80" y1="857.00" x2="441.90" y2="857.00" stroke="#000" stroke-width="1.1" />
<text x="367.40" y="867.56" font-size="7.94" text-anchor="middle" font-weight="bold">RESSLAD#1</text>
<text x="421.80" y="867.55" font-size="7.92" text-anchor="middle" font-weight="bold">RESSLAD#2</text>
<text x="507.80" y="690.80" font-size="17.0" text-anchor="start" font-weight="bold">m</text>
<text x="604.70" y="709.78" font-size="10.21" text-anchor="middle" font-weight="bold">Lamin A/C ChIP-qPCR</text>
<text x="530.17" y="774.40" font-size="8.8" text-anchor="middle" textLength="87.5" lengthAdjust="spacingAndGlyphs" transform="rotate(-90 530.17 774.40)">RESSLAD#1 binding</text>
<line x1="555.10" y1="718.00" x2="555.10" y2="830.30" stroke="#000" stroke-width="1.5" />
<line x1="554.40" y1="829.60" x2="658.40" y2="829.60" stroke="#000" stroke-width="1.5" />
<line x1="550.10" y1="718.60" x2="555.10" y2="718.60" stroke="#000" stroke-width="1.1" />
<text x="547.80" y="721.41" font-size="7.8" text-anchor="end" font-weight="bold">2.0</text>
<line x1="550.10" y1="746.35" x2="555.10" y2="746.35" stroke="#000" stroke-width="1.1" />
<text x="547.80" y="749.20" font-size="7.92" text-anchor="end" font-weight="bold">1.5</text>
<line x1="550.10" y1="774.10" x2="555.10" y2="774.10" stroke="#000" stroke-width="1.1" />
<text x="547.80" y="776.97" font-size="7.98" text-anchor="end" font-weight="bold">1.0</text>
<line x1="550.10" y1="801.85" x2="555.10" y2="801.85" stroke="#000" stroke-width="1.1" />
<text x="547.80" y="804.66" font-size="7.8" text-anchor="end" font-weight="bold">0.5</text>
<line x1="550.10" y1="829.60" x2="555.10" y2="829.60" stroke="#000" stroke-width="1.1" />
<text x="547.80" y="832.43" font-size="7.86" text-anchor="end" font-weight="bold">0.0</text>
<rect x="562.70" y="774.10" width="15.80" height="55.50" fill="#9a9a9a" />
<rect x="586.20" y="800.30" width="15.70" height="29.30" fill="#f24fdc" />
<rect x="609.80" y="774.10" width="15.80" height="55.50" fill="#9a9a9a" />
<rect x="633.20" y="817.80" width="15.80" height="11.80" fill="#f24fdc" />
<line x1="570.80" y1="769.60" x2="570.80" y2="783.20" stroke="#000" stroke-width="1.1" />
<line x1="567.80" y1="769.60" x2="573.80" y2="769.60" stroke="#000" stroke-width="1.1" />
<line x1="567.80" y1="783.20" x2="573.80" y2="783.20" stroke="#000" stroke-width="1.1" />
<circle cx="565.80" cy="766.80" r="2.4" fill="none" stroke="#000" stroke-width="1.2"/>
<circle cx="570.80" cy="766.30" r="2.4" fill="none" stroke="#000" stroke-width="1.2"/>
<circle cx="576.30" cy="766.80" r="2.4" fill="none" stroke="#000" stroke-width="1.2"/>
<circle cx="567.60" cy="775.50" r="2.4" fill="none" stroke="#000" stroke-width="1.2"/>
<circle cx="572.40" cy="777.10" r="2.4" fill="none" stroke="#000" stroke-width="1.2"/>
<circle cx="570.80" cy="787.10" r="2.4" fill="none" stroke="#000" stroke-width="1.2"/>
<line x1="594.30" y1="789.80" x2="594.30" y2="807.30" stroke="#000" stroke-width="1.1" />
<line x1="591.30" y1="789.80" x2="597.30" y2="789.80" stroke="#000" stroke-width="1.1" />
<line x1="591.30" y1="807.30" x2="597.30" y2="807.30" stroke="#000" stroke-width="1.1" />
<rect x="592.80" y="784.40" width="4.2" height="4.2" fill="none" stroke="#000" stroke-width="1.2"/>
<rect x="588.40" y="792.10" width="4.2" height="4.2" fill="none" stroke="#000" stroke-width="1.2"/>
<rect x="595.00" y="792.10" width="4.2" height="4.2" fill="none" stroke="#000" stroke-width="1.2"/>
<rect x="586.30" y="799.10" width="4.2" height="4.2" fill="none" stroke="#000" stroke-width="1.2"/>
<rect x="597.20" y="800.40" width="4.2" height="4.2" fill="none" stroke="#000" stroke-width="1.2"/>
<rect x="592.20" y="810.70" width="4.2" height="4.2" fill="none" stroke="#000" stroke-width="1.2"/>
<line x1="617.90" y1="761.70" x2="617.90" y2="785.80" stroke="#000" stroke-width="1.1" />
<line x1="614.90" y1="761.70" x2="620.90" y2="761.70" stroke="#000" stroke-width="1.1" />
<line x1="614.90" y1="785.80" x2="620.90" y2="785.80" stroke="#000" stroke-width="1.1" />
<path d="M612.80,762.45 L617.80,762.45 L615.30,766.80 Z" fill="none" stroke="#000" stroke-width="1.2"/>
<path d="M619.40,758.15 L624.40,758.15 L621.90,762.50 Z" fill="none" stroke="#000" stroke-width="1.2"/>
<path d="M611.50,775.15 L616.50,775.15 L614.00,779.50 Z" fill="none" stroke="#000" stroke-width="1.2"/>
<path d="M618.00,774.75 L623.00,774.75 L620.50,779.10 Z" fill="none" stroke="#000" stroke-width="1.2"/>
<path d="M613.70,782.85 L618.70,782.85 L616.20,787.20 Z" fill="none" stroke="#000" stroke-width="1.2"/>
<path d="M619.40,787.25 L624.40,787.25 L621.90,791.60 Z" fill="none" stroke="#000" stroke-width="1.2"/>
<line x1="640.90" y1="810.00" x2="640.90" y2="822.00" stroke="#000" stroke-width="1.1" />
<line x1="638.30" y1="810.00" x2="643.50" y2="810.00" stroke="#000" stroke-width="1.1" />
<line x1="638.30" y1="822.00" x2="643.50" y2="822.00" stroke="#000" stroke-width="1.1" />
<path d="M637.70,812.05 L642.70,812.05 L640.20,807.70 Z" fill="none" stroke="#000" stroke-width="1.2"/>
<path d="M634.00,815.75 L639.00,815.75 L636.50,811.40 Z" fill="none" stroke="#000" stroke-width="1.2"/>
<path d="M640.60,818.55 L645.60,818.55 L643.10,814.20 Z" fill="none" stroke="#000" stroke-width="1.2"/>
<path d="M635.10,820.75 L640.10,820.75 L637.60,816.40 Z" fill="none" stroke="#000" stroke-width="1.2"/>
<path d="M638.40,821.45 L643.40,821.45 L640.90,817.10 Z" fill="none" stroke="#000" stroke-width="1.2"/>
<path d="M643.40,821.85 L648.40,821.85 L645.90,817.50 Z" fill="none" stroke="#000" stroke-width="1.2"/>
<text x="617.90" y="725.48" font-size="8.0" text-anchor="middle">0.0011</text>
<path d="M594.30,731.10 L594.30,728.50 L641.60,728.50 L641.60,731.10" fill="none" stroke="#000" stroke-width="1.0"/>
<text x="591.60" y="740.51" font-size="7.81" text-anchor="middle">0.9999</text>
<path d="M570.20,745.70 L570.20,743.10 L617.90,743.10 L617.90,745.70" fill="none" stroke="#000" stroke-width="1.0"/>
<text x="582.90" y="756.39" font-size="7.76" text-anchor="middle">0.0004</text>
<path d="M570.20,761.70 L570.20,759.10 L595.60,759.10 L595.60,761.70" fill="none" stroke="#000" stroke-width="1.0"/>
<text x="628.40" y="753.66" font-size="7.94" text-anchor="middle">&lt;0.0001</text>
<path d="M616.20,758.90 L616.20,756.30 L641.60,756.30 L641.60,758.90" fill="none" stroke="#000" stroke-width="1.0"/>
<text x="548.20" y="847.39" font-size="9.7" text-anchor="middle" font-weight="bold">APH</text>
<text x="570.80" y="846.98" font-size="10.5" text-anchor="middle" font-weight="bold">-</text>
<text x="594.90" y="846.78" font-size="10.5" text-anchor="middle" font-weight="bold">+</text>
<text x="619.00" y="846.98" font-size="10.5" text-anchor="middle" font-weight="bold">-</text>
<text x="641.60" y="846.78" font-size="10.5" text-anchor="middle" font-weight="bold">+</text>
<line x1="563.60" y1="851.50" x2="603.70" y2="851.50" stroke="#000" stroke-width="1.2" />
<line x1="610.90" y1="851.50" x2="650.30" y2="851.50" stroke="#000" stroke-width="1.2" />
<text x="584.40" y="865.08" font-size="9.68" text-anchor="middle" font-weight="bold" font-style="italic">WT</text>
<text x="630.30" y="865.30" font-size="10.29" text-anchor="middle" font-weight="bold" font-style="italic">POLQ-/- #1</text>
</svg></body></html>
